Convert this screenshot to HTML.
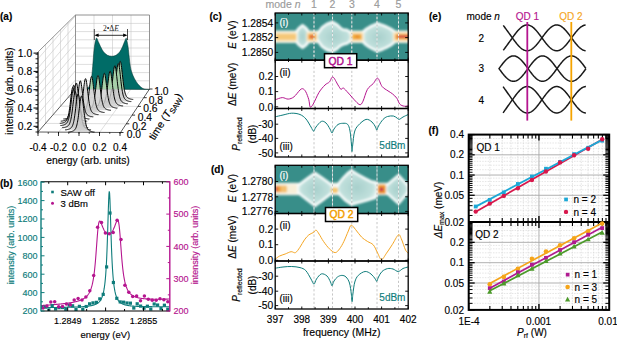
<!DOCTYPE html>
<html><head><meta charset="utf-8"><style>
html,body{margin:0;padding:0;background:#fff;width:617px;height:340px;overflow:hidden}
svg{display:block;font-family:"Liberation Sans", sans-serif}
text{stroke:currentColor;stroke-width:0.15px;paint-order:stroke}
</style></head><body>
<svg width="617" height="340" viewBox="0 0 617 340" font-family='"Liberation Sans", sans-serif'>
<text x="0.00" y="20.30" font-size="10" fill="#000" color="#000" text-anchor="start" font-weight="bold"  >(a)</text>
<path d="M38.00,132.00 L38.00,52.00 L75.50,15.00 L75.50,89.00 Z" fill="#fff" stroke="none" stroke-width="1" />
<line x1="45.50" y1="44.60" x2="45.50" y2="123.40" stroke="#c8c8c8" stroke-width="0.6" />
<line x1="53.00" y1="37.20" x2="53.00" y2="114.80" stroke="#c8c8c8" stroke-width="0.6" />
<line x1="60.50" y1="29.80" x2="60.50" y2="106.20" stroke="#c8c8c8" stroke-width="0.6" />
<line x1="68.00" y1="22.40" x2="68.00" y2="97.60" stroke="#c8c8c8" stroke-width="0.6" />
<line x1="38.00" y1="122.85" x2="75.50" y2="79.86" stroke="#c8c8c8" stroke-width="0.6" />
<line x1="38.00" y1="113.70" x2="75.50" y2="70.73" stroke="#c8c8c8" stroke-width="0.6" />
<line x1="38.00" y1="104.55" x2="75.50" y2="61.59" stroke="#c8c8c8" stroke-width="0.6" />
<line x1="38.00" y1="95.40" x2="75.50" y2="52.46" stroke="#c8c8c8" stroke-width="0.6" />
<line x1="38.00" y1="86.25" x2="75.50" y2="43.32" stroke="#c8c8c8" stroke-width="0.6" />
<line x1="38.00" y1="77.10" x2="75.50" y2="34.19" stroke="#c8c8c8" stroke-width="0.6" />
<line x1="38.00" y1="67.95" x2="75.50" y2="25.05" stroke="#c8c8c8" stroke-width="0.6" />
<line x1="38.00" y1="58.80" x2="75.50" y2="15.91" stroke="#c8c8c8" stroke-width="0.6" />
<line x1="75.50" y1="80.80" x2="149.50" y2="80.80" stroke="#c8c8c8" stroke-width="0.6" />
<line x1="75.50" y1="72.60" x2="149.50" y2="72.60" stroke="#c8c8c8" stroke-width="0.6" />
<line x1="75.50" y1="64.40" x2="149.50" y2="64.40" stroke="#c8c8c8" stroke-width="0.6" />
<line x1="75.50" y1="56.20" x2="149.50" y2="56.20" stroke="#c8c8c8" stroke-width="0.6" />
<line x1="75.50" y1="48.00" x2="149.50" y2="48.00" stroke="#c8c8c8" stroke-width="0.6" />
<line x1="75.50" y1="39.80" x2="149.50" y2="39.80" stroke="#c8c8c8" stroke-width="0.6" />
<line x1="75.50" y1="31.60" x2="149.50" y2="31.60" stroke="#c8c8c8" stroke-width="0.6" />
<line x1="75.50" y1="23.40" x2="149.50" y2="23.40" stroke="#c8c8c8" stroke-width="0.6" />
<line x1="94.00" y1="15.00" x2="94.00" y2="89.00" stroke="#c8c8c8" stroke-width="0.6" />
<line x1="112.50" y1="15.00" x2="112.50" y2="89.00" stroke="#c8c8c8" stroke-width="0.6" />
<line x1="131.00" y1="15.00" x2="131.00" y2="89.00" stroke="#c8c8c8" stroke-width="0.6" />
<line x1="45.50" y1="123.40" x2="126.30" y2="123.80" stroke="#c8c8c8" stroke-width="0.6" />
<line x1="53.00" y1="114.80" x2="132.10" y2="115.10" stroke="#c8c8c8" stroke-width="0.6" />
<line x1="60.50" y1="106.20" x2="137.90" y2="106.40" stroke="#c8c8c8" stroke-width="0.6" />
<line x1="68.00" y1="97.60" x2="143.70" y2="97.70" stroke="#c8c8c8" stroke-width="0.6" />
<line x1="58.62" y1="132.00" x2="94.00" y2="89.00" stroke="#c8c8c8" stroke-width="0.6" />
<line x1="79.25" y1="132.00" x2="112.50" y2="89.00" stroke="#c8c8c8" stroke-width="0.6" />
<line x1="99.88" y1="132.00" x2="131.00" y2="89.00" stroke="#c8c8c8" stroke-width="0.6" />
<path d="M38.00,132.00 L38.00,52.00 L75.50,15.00 L149.50,15.00 L149.50,89.00" fill="none" stroke="#777" stroke-width="0.8" />
<line x1="75.50" y1="15.00" x2="75.50" y2="89.00" stroke="#777" stroke-width="0.8" />
<line x1="75.50" y1="89.00" x2="149.50" y2="89.00" stroke="#999" stroke-width="0.6" />
<line x1="38.00" y1="132.00" x2="75.50" y2="89.00" stroke="#333" stroke-width="0.8" />
<line x1="120.50" y1="132.50" x2="149.50" y2="89.00" stroke="#333" stroke-width="0.8" />
<line x1="38.00" y1="132.00" x2="120.50" y2="132.50" stroke="#333" stroke-width="0.8" />
<line x1="38.00" y1="52.00" x2="38.00" y2="132.00" stroke="#111" stroke-width="1.0" />
<path d="M86.50,89.00 C87.00,88.50 88.72,87.50 89.50,86.00 C90.28,84.50 90.75,82.33 91.20,80.00 C91.65,77.67 91.87,75.33 92.20,72.00 C92.53,68.67 92.85,64.07 93.20,60.00 C93.55,55.93 93.78,51.23 94.30,47.60 C94.82,43.97 95.65,39.22 96.30,38.20 C96.95,37.18 97.50,40.12 98.20,41.50 C98.90,42.88 99.62,44.78 100.50,46.50 C101.38,48.22 102.33,50.33 103.50,51.80 C104.67,53.27 106.12,54.55 107.50,55.30 C108.88,56.05 110.38,56.30 111.80,56.30 C113.22,56.30 114.67,56.05 116.00,55.30 C117.33,54.55 118.70,53.27 119.80,51.80 C120.90,50.33 121.80,48.22 122.60,46.50 C123.40,44.78 124.00,42.88 124.60,41.50 C125.20,40.12 125.77,38.12 126.20,38.20 C126.63,38.28 126.87,40.43 127.20,42.00 C127.53,43.57 127.87,45.10 128.20,47.60 C128.53,50.10 128.85,53.90 129.20,57.00 C129.55,60.10 129.83,63.53 130.30,66.20 C130.77,68.87 131.32,70.95 132.00,73.00 C132.68,75.05 133.48,76.75 134.40,78.50 C135.32,80.25 136.47,82.12 137.50,83.50 C138.53,84.88 139.52,85.88 140.60,86.80 C141.68,87.72 142.52,88.55 144.00,89.00 C145.48,89.45 148.58,89.42 149.50,89.50 Z" fill="#006c67" stroke="#01302d" stroke-width="0.5"/>
<clipPath id="tealclip"><path d="M86.50,89.00 C87.00,88.50 88.72,87.50 89.50,86.00 C90.28,84.50 90.75,82.33 91.20,80.00 C91.65,77.67 91.87,75.33 92.20,72.00 C92.53,68.67 92.85,64.07 93.20,60.00 C93.55,55.93 93.78,51.23 94.30,47.60 C94.82,43.97 95.65,39.22 96.30,38.20 C96.95,37.18 97.50,40.12 98.20,41.50 C98.90,42.88 99.62,44.78 100.50,46.50 C101.38,48.22 102.33,50.33 103.50,51.80 C104.67,53.27 106.12,54.55 107.50,55.30 C108.88,56.05 110.38,56.30 111.80,56.30 C113.22,56.30 114.67,56.05 116.00,55.30 C117.33,54.55 118.70,53.27 119.80,51.80 C120.90,50.33 121.80,48.22 122.60,46.50 C123.40,44.78 124.00,42.88 124.60,41.50 C125.20,40.12 125.77,38.12 126.20,38.20 C126.63,38.28 126.87,40.43 127.20,42.00 C127.53,43.57 127.87,45.10 128.20,47.60 C128.53,50.10 128.85,53.90 129.20,57.00 C129.55,60.10 129.83,63.53 130.30,66.20 C130.77,68.87 131.32,70.95 132.00,73.00 C132.68,75.05 133.48,76.75 134.40,78.50 C135.32,80.25 136.47,82.12 137.50,83.50 C138.53,84.88 139.52,85.88 140.60,86.80 C141.68,87.72 142.52,88.55 144.00,89.00 C145.48,89.45 148.58,89.42 149.50,89.50 Z"/></clipPath>
<line x1="94.30" y1="29.00" x2="94.30" y2="40.00" stroke="#000" stroke-width="0.7" />
<line x1="127.50" y1="29.00" x2="127.50" y2="40.00" stroke="#000" stroke-width="0.7" />
<line x1="96.00" y1="35.30" x2="126.00" y2="35.30" stroke="#000" stroke-width="0.8" />
<path d="M94.40,35.30 L98.60,33.50 L98.60,37.10 Z" fill="#000" stroke="none" stroke-width="1" />
<path d="M127.40,35.30 L123.20,33.50 L123.20,37.10 Z" fill="#000" stroke="none" stroke-width="1" />
<text x="110.9" y="31.2" font-size="7.6" font-family="Liberation Serif" fill="#222" text-anchor="middle" style="stroke:none" color="#222">2•Δ<tspan font-style="italic">E</tspan></text>
<path d="M107.22,99.38 L107.49,99.38 L107.76,99.38 L108.03,99.38 L108.30,99.36 L108.57,99.31 L108.84,99.26 L109.11,99.20 L109.39,99.14 L109.66,99.07 L109.93,99.00 L110.20,98.92 L110.47,98.83 L110.74,98.74 L111.01,98.64 L111.28,98.54 L111.55,98.42 L111.82,98.29 L112.09,98.14 L112.36,97.98 L112.64,97.79 L112.91,97.58 L113.18,97.33 L113.45,97.05 L113.72,96.71 L113.99,96.32 L114.26,95.85 L114.53,95.30 L114.80,94.64 L115.07,93.87 L115.34,92.96 L115.61,91.90 L115.89,90.68 L116.16,89.27 L116.43,87.68 L116.70,85.90 L116.97,83.93 L117.24,81.79 L117.51,79.51 L117.78,77.11 L118.05,74.64 L118.32,72.16 L118.59,69.75 L118.86,67.48 L119.14,65.45 L119.41,63.75 L119.68,62.46 L119.95,61.65 L120.22,61.38 L120.49,61.65 L120.76,62.46 L121.03,63.75 L121.30,65.45 L121.57,67.48 L121.84,69.75 L122.11,72.16 L122.39,74.64 L122.66,77.11 L122.93,79.51 L123.20,81.79 L123.47,83.93 L123.74,85.90 L124.01,87.68 L124.28,89.27 L124.55,90.68 L124.82,91.90 L125.09,92.96 L125.36,93.87 L125.64,94.64 L125.91,95.30 L126.18,95.85 L126.45,96.32 L126.72,96.71 L126.99,97.05 L127.26,97.33 L127.53,97.58 L127.80,97.79 L128.07,97.98 L128.34,98.14 L128.61,98.29 L128.89,98.42 L129.16,98.54 L129.43,98.64 L129.70,98.74 L129.97,98.83 L130.24,98.92 L130.51,99.00 L130.78,99.07 L131.05,99.14 L131.32,99.20 L131.59,99.26 L131.86,99.31 L132.14,99.36 L132.41,99.38 L132.68,99.38 L132.95,99.38 L133.22,99.38 Z" fill="#cdcdcd" stroke="none" stroke-width="1" fill-opacity="0.8"/>
<path d="M107.22,99.38 L107.49,99.38 L107.76,99.38 L108.03,99.38 L108.30,99.36 L108.57,99.31 L108.84,99.26 L109.11,99.20 L109.39,99.14 L109.66,99.07 L109.93,99.00 L110.20,98.92 L110.47,98.83 L110.74,98.74 L111.01,98.64 L111.28,98.54 L111.55,98.42 L111.82,98.29 L112.09,98.14 L112.36,97.98 L112.64,97.79 L112.91,97.58 L113.18,97.33 L113.45,97.05 L113.72,96.71 L113.99,96.32 L114.26,95.85 L114.53,95.30 L114.80,94.64 L115.07,93.87 L115.34,92.96 L115.61,91.90 L115.89,90.68 L116.16,89.27 L116.43,87.68 L116.70,85.90 L116.97,83.93 L117.24,81.79 L117.51,79.51 L117.78,77.11 L118.05,74.64 L118.32,72.16 L118.59,69.75 L118.86,67.48 L119.14,65.45 L119.41,63.75 L119.68,62.46 L119.95,61.65 L120.22,61.38 L120.49,61.65 L120.76,62.46 L121.03,63.75 L121.30,65.45 L121.57,67.48 L121.84,69.75 L122.11,72.16 L122.39,74.64 L122.66,77.11 L122.93,79.51 L123.20,81.79 L123.47,83.93 L123.74,85.90 L124.01,87.68 L124.28,89.27 L124.55,90.68 L124.82,91.90 L125.09,92.96 L125.36,93.87 L125.64,94.64 L125.91,95.30 L126.18,95.85 L126.45,96.32 L126.72,96.71 L126.99,97.05 L127.26,97.33 L127.53,97.58 L127.80,97.79 L128.07,97.98 L128.34,98.14 L128.61,98.29 L128.89,98.42 L129.16,98.54 L129.43,98.64 L129.70,98.74 L129.97,98.83 L130.24,98.92 L130.51,99.00 L130.78,99.07 L131.05,99.14 L131.32,99.20 L131.59,99.26 L131.86,99.31 L132.14,99.36 L132.41,99.38 L132.68,99.38 L132.95,99.38 L133.22,99.38 Z" fill="#a6cfa8" stroke="none" stroke-width="1" clip-path="url(#tealclip)"/>
<path d="M107.22,99.38 L107.49,99.38 L107.76,99.38 L108.03,99.38 L108.30,99.36 L108.57,99.31 L108.84,99.26 L109.11,99.20 L109.39,99.14 L109.66,99.07 L109.93,99.00 L110.20,98.92 L110.47,98.83 L110.74,98.74 L111.01,98.64 L111.28,98.54 L111.55,98.42 L111.82,98.29 L112.09,98.14 L112.36,97.98 L112.64,97.79 L112.91,97.58 L113.18,97.33 L113.45,97.05 L113.72,96.71 L113.99,96.32 L114.26,95.85 L114.53,95.30 L114.80,94.64 L115.07,93.87 L115.34,92.96 L115.61,91.90 L115.89,90.68 L116.16,89.27 L116.43,87.68 L116.70,85.90 L116.97,83.93 L117.24,81.79 L117.51,79.51 L117.78,77.11 L118.05,74.64 L118.32,72.16 L118.59,69.75 L118.86,67.48 L119.14,65.45 L119.41,63.75 L119.68,62.46 L119.95,61.65 L120.22,61.38 L120.49,61.65 L120.76,62.46 L121.03,63.75 L121.30,65.45 L121.57,67.48 L121.84,69.75 L122.11,72.16 L122.39,74.64 L122.66,77.11 L122.93,79.51 L123.20,81.79 L123.47,83.93 L123.74,85.90 L124.01,87.68 L124.28,89.27 L124.55,90.68 L124.82,91.90 L125.09,92.96 L125.36,93.87 L125.64,94.64 L125.91,95.30 L126.18,95.85 L126.45,96.32 L126.72,96.71 L126.99,97.05 L127.26,97.33 L127.53,97.58 L127.80,97.79 L128.07,97.98 L128.34,98.14 L128.61,98.29 L128.89,98.42 L129.16,98.54 L129.43,98.64 L129.70,98.74 L129.97,98.83 L130.24,98.92 L130.51,99.00 L130.78,99.07 L131.05,99.14 L131.32,99.20 L131.59,99.26 L131.86,99.31 L132.14,99.36 L132.41,99.38 L132.68,99.38 L132.95,99.38 L133.22,99.38" fill="none" stroke="#000" stroke-width="1.0" />
<path d="M105.30,101.55 L105.57,101.55 L105.84,101.55 L106.11,101.55 L106.38,101.54 L106.65,101.49 L106.92,101.43 L107.19,101.37 L107.46,101.31 L107.73,101.24 L108.01,101.17 L108.28,101.09 L108.55,101.01 L108.82,100.92 L109.09,100.82 L109.36,100.71 L109.63,100.59 L109.90,100.46 L110.17,100.32 L110.44,100.15 L110.71,99.97 L110.98,99.75 L111.26,99.51 L111.53,99.22 L111.80,98.89 L112.07,98.49 L112.34,98.03 L112.61,97.47 L112.88,96.82 L113.15,96.05 L113.42,95.14 L113.69,94.08 L113.96,92.85 L114.23,91.45 L114.51,89.86 L114.78,88.07 L115.05,86.11 L115.32,83.97 L115.59,81.68 L115.86,79.28 L116.13,76.81 L116.40,74.34 L116.67,71.92 L116.94,69.66 L117.21,67.62 L117.48,65.92 L117.76,64.63 L118.03,63.82 L118.30,63.55 L118.57,63.82 L118.84,64.63 L119.11,65.92 L119.38,67.62 L119.65,69.66 L119.92,71.92 L120.19,74.34 L120.46,76.81 L120.73,79.28 L121.01,81.68 L121.28,83.97 L121.55,86.11 L121.82,88.07 L122.09,89.86 L122.36,91.45 L122.63,92.85 L122.90,94.08 L123.17,95.14 L123.44,96.05 L123.71,96.82 L123.98,97.47 L124.26,98.03 L124.53,98.49 L124.80,98.89 L125.07,99.22 L125.34,99.51 L125.61,99.75 L125.88,99.97 L126.15,100.15 L126.42,100.32 L126.69,100.46 L126.96,100.59 L127.23,100.71 L127.51,100.82 L127.78,100.92 L128.05,101.01 L128.32,101.09 L128.59,101.17 L128.86,101.24 L129.13,101.31 L129.40,101.37 L129.67,101.43 L129.94,101.49 L130.21,101.54 L130.48,101.55 L130.76,101.55 L131.03,101.55 L131.30,101.55 Z" fill="#cdcdcd" stroke="none" stroke-width="1" fill-opacity="0.8"/>
<path d="M105.30,101.55 L105.57,101.55 L105.84,101.55 L106.11,101.55 L106.38,101.54 L106.65,101.49 L106.92,101.43 L107.19,101.37 L107.46,101.31 L107.73,101.24 L108.01,101.17 L108.28,101.09 L108.55,101.01 L108.82,100.92 L109.09,100.82 L109.36,100.71 L109.63,100.59 L109.90,100.46 L110.17,100.32 L110.44,100.15 L110.71,99.97 L110.98,99.75 L111.26,99.51 L111.53,99.22 L111.80,98.89 L112.07,98.49 L112.34,98.03 L112.61,97.47 L112.88,96.82 L113.15,96.05 L113.42,95.14 L113.69,94.08 L113.96,92.85 L114.23,91.45 L114.51,89.86 L114.78,88.07 L115.05,86.11 L115.32,83.97 L115.59,81.68 L115.86,79.28 L116.13,76.81 L116.40,74.34 L116.67,71.92 L116.94,69.66 L117.21,67.62 L117.48,65.92 L117.76,64.63 L118.03,63.82 L118.30,63.55 L118.57,63.82 L118.84,64.63 L119.11,65.92 L119.38,67.62 L119.65,69.66 L119.92,71.92 L120.19,74.34 L120.46,76.81 L120.73,79.28 L121.01,81.68 L121.28,83.97 L121.55,86.11 L121.82,88.07 L122.09,89.86 L122.36,91.45 L122.63,92.85 L122.90,94.08 L123.17,95.14 L123.44,96.05 L123.71,96.82 L123.98,97.47 L124.26,98.03 L124.53,98.49 L124.80,98.89 L125.07,99.22 L125.34,99.51 L125.61,99.75 L125.88,99.97 L126.15,100.15 L126.42,100.32 L126.69,100.46 L126.96,100.59 L127.23,100.71 L127.51,100.82 L127.78,100.92 L128.05,101.01 L128.32,101.09 L128.59,101.17 L128.86,101.24 L129.13,101.31 L129.40,101.37 L129.67,101.43 L129.94,101.49 L130.21,101.54 L130.48,101.55 L130.76,101.55 L131.03,101.55 L131.30,101.55 Z" fill="#a6cfa8" stroke="none" stroke-width="1" clip-path="url(#tealclip)"/>
<path d="M105.30,101.55 L105.57,101.55 L105.84,101.55 L106.11,101.55 L106.38,101.54 L106.65,101.49 L106.92,101.43 L107.19,101.37 L107.46,101.31 L107.73,101.24 L108.01,101.17 L108.28,101.09 L108.55,101.01 L108.82,100.92 L109.09,100.82 L109.36,100.71 L109.63,100.59 L109.90,100.46 L110.17,100.32 L110.44,100.15 L110.71,99.97 L110.98,99.75 L111.26,99.51 L111.53,99.22 L111.80,98.89 L112.07,98.49 L112.34,98.03 L112.61,97.47 L112.88,96.82 L113.15,96.05 L113.42,95.14 L113.69,94.08 L113.96,92.85 L114.23,91.45 L114.51,89.86 L114.78,88.07 L115.05,86.11 L115.32,83.97 L115.59,81.68 L115.86,79.28 L116.13,76.81 L116.40,74.34 L116.67,71.92 L116.94,69.66 L117.21,67.62 L117.48,65.92 L117.76,64.63 L118.03,63.82 L118.30,63.55 L118.57,63.82 L118.84,64.63 L119.11,65.92 L119.38,67.62 L119.65,69.66 L119.92,71.92 L120.19,74.34 L120.46,76.81 L120.73,79.28 L121.01,81.68 L121.28,83.97 L121.55,86.11 L121.82,88.07 L122.09,89.86 L122.36,91.45 L122.63,92.85 L122.90,94.08 L123.17,95.14 L123.44,96.05 L123.71,96.82 L123.98,97.47 L124.26,98.03 L124.53,98.49 L124.80,98.89 L125.07,99.22 L125.34,99.51 L125.61,99.75 L125.88,99.97 L126.15,100.15 L126.42,100.32 L126.69,100.46 L126.96,100.59 L127.23,100.71 L127.51,100.82 L127.78,100.92 L128.05,101.01 L128.32,101.09 L128.59,101.17 L128.86,101.24 L129.13,101.31 L129.40,101.37 L129.67,101.43 L129.94,101.49 L130.21,101.54 L130.48,101.55 L130.76,101.55 L131.03,101.55 L131.30,101.55" fill="none" stroke="#000" stroke-width="1.0" />
<path d="M101.86,103.72 L102.13,103.72 L102.40,103.72 L102.67,103.72 L102.94,103.71 L103.21,103.66 L103.48,103.61 L103.76,103.55 L104.03,103.49 L104.30,103.42 L104.57,103.35 L104.84,103.27 L105.11,103.18 L105.38,103.09 L105.65,102.99 L105.92,102.89 L106.19,102.77 L106.46,102.64 L106.73,102.49 L107.01,102.33 L107.28,102.14 L107.55,101.93 L107.82,101.68 L108.09,101.40 L108.36,101.06 L108.63,100.67 L108.90,100.20 L109.17,99.65 L109.44,98.99 L109.71,98.22 L109.98,97.31 L110.26,96.25 L110.53,95.03 L110.80,93.62 L111.07,92.03 L111.34,90.25 L111.61,88.28 L111.88,86.14 L112.15,83.86 L112.42,81.46 L112.69,78.99 L112.96,76.51 L113.23,74.10 L113.51,71.83 L113.78,69.80 L114.05,68.10 L114.32,66.81 L114.59,66.00 L114.86,65.72 L115.13,66.00 L115.40,66.81 L115.67,68.10 L115.94,69.80 L116.21,71.83 L116.48,74.10 L116.76,76.51 L117.03,78.99 L117.30,81.46 L117.57,83.86 L117.84,86.14 L118.11,88.28 L118.38,90.25 L118.65,92.03 L118.92,93.62 L119.19,95.03 L119.46,96.25 L119.73,97.31 L120.01,98.22 L120.28,98.99 L120.55,99.65 L120.82,100.20 L121.09,100.67 L121.36,101.06 L121.63,101.40 L121.90,101.68 L122.17,101.93 L122.44,102.14 L122.71,102.33 L122.98,102.49 L123.26,102.64 L123.53,102.77 L123.80,102.89 L124.07,102.99 L124.34,103.09 L124.61,103.18 L124.88,103.27 L125.15,103.35 L125.42,103.42 L125.69,103.49 L125.96,103.55 L126.23,103.61 L126.51,103.66 L126.78,103.71 L127.05,103.72 L127.32,103.72 L127.59,103.72 L127.86,103.72 Z" fill="#cdcdcd" stroke="none" stroke-width="1" fill-opacity="0.8"/>
<path d="M101.86,103.72 L102.13,103.72 L102.40,103.72 L102.67,103.72 L102.94,103.71 L103.21,103.66 L103.48,103.61 L103.76,103.55 L104.03,103.49 L104.30,103.42 L104.57,103.35 L104.84,103.27 L105.11,103.18 L105.38,103.09 L105.65,102.99 L105.92,102.89 L106.19,102.77 L106.46,102.64 L106.73,102.49 L107.01,102.33 L107.28,102.14 L107.55,101.93 L107.82,101.68 L108.09,101.40 L108.36,101.06 L108.63,100.67 L108.90,100.20 L109.17,99.65 L109.44,98.99 L109.71,98.22 L109.98,97.31 L110.26,96.25 L110.53,95.03 L110.80,93.62 L111.07,92.03 L111.34,90.25 L111.61,88.28 L111.88,86.14 L112.15,83.86 L112.42,81.46 L112.69,78.99 L112.96,76.51 L113.23,74.10 L113.51,71.83 L113.78,69.80 L114.05,68.10 L114.32,66.81 L114.59,66.00 L114.86,65.72 L115.13,66.00 L115.40,66.81 L115.67,68.10 L115.94,69.80 L116.21,71.83 L116.48,74.10 L116.76,76.51 L117.03,78.99 L117.30,81.46 L117.57,83.86 L117.84,86.14 L118.11,88.28 L118.38,90.25 L118.65,92.03 L118.92,93.62 L119.19,95.03 L119.46,96.25 L119.73,97.31 L120.01,98.22 L120.28,98.99 L120.55,99.65 L120.82,100.20 L121.09,100.67 L121.36,101.06 L121.63,101.40 L121.90,101.68 L122.17,101.93 L122.44,102.14 L122.71,102.33 L122.98,102.49 L123.26,102.64 L123.53,102.77 L123.80,102.89 L124.07,102.99 L124.34,103.09 L124.61,103.18 L124.88,103.27 L125.15,103.35 L125.42,103.42 L125.69,103.49 L125.96,103.55 L126.23,103.61 L126.51,103.66 L126.78,103.71 L127.05,103.72 L127.32,103.72 L127.59,103.72 L127.86,103.72 Z" fill="#a6cfa8" stroke="none" stroke-width="1" clip-path="url(#tealclip)"/>
<path d="M101.86,103.72 L102.13,103.72 L102.40,103.72 L102.67,103.72 L102.94,103.71 L103.21,103.66 L103.48,103.61 L103.76,103.55 L104.03,103.49 L104.30,103.42 L104.57,103.35 L104.84,103.27 L105.11,103.18 L105.38,103.09 L105.65,102.99 L105.92,102.89 L106.19,102.77 L106.46,102.64 L106.73,102.49 L107.01,102.33 L107.28,102.14 L107.55,101.93 L107.82,101.68 L108.09,101.40 L108.36,101.06 L108.63,100.67 L108.90,100.20 L109.17,99.65 L109.44,98.99 L109.71,98.22 L109.98,97.31 L110.26,96.25 L110.53,95.03 L110.80,93.62 L111.07,92.03 L111.34,90.25 L111.61,88.28 L111.88,86.14 L112.15,83.86 L112.42,81.46 L112.69,78.99 L112.96,76.51 L113.23,74.10 L113.51,71.83 L113.78,69.80 L114.05,68.10 L114.32,66.81 L114.59,66.00 L114.86,65.72 L115.13,66.00 L115.40,66.81 L115.67,68.10 L115.94,69.80 L116.21,71.83 L116.48,74.10 L116.76,76.51 L117.03,78.99 L117.30,81.46 L117.57,83.86 L117.84,86.14 L118.11,88.28 L118.38,90.25 L118.65,92.03 L118.92,93.62 L119.19,95.03 L119.46,96.25 L119.73,97.31 L120.01,98.22 L120.28,98.99 L120.55,99.65 L120.82,100.20 L121.09,100.67 L121.36,101.06 L121.63,101.40 L121.90,101.68 L122.17,101.93 L122.44,102.14 L122.71,102.33 L122.98,102.49 L123.26,102.64 L123.53,102.77 L123.80,102.89 L124.07,102.99 L124.34,103.09 L124.61,103.18 L124.88,103.27 L125.15,103.35 L125.42,103.42 L125.69,103.49 L125.96,103.55 L126.23,103.61 L126.51,103.66 L126.78,103.71 L127.05,103.72 L127.32,103.72 L127.59,103.72 L127.86,103.72" fill="none" stroke="#000" stroke-width="1.0" />
<path d="M97.10,105.90 L97.37,105.90 L97.64,105.90 L97.91,105.90 L98.18,105.89 L98.45,105.84 L98.72,105.79 L98.99,105.74 L99.27,105.68 L99.54,105.62 L99.81,105.55 L100.08,105.48 L100.35,105.40 L100.62,105.32 L100.89,105.23 L101.16,105.13 L101.43,105.02 L101.70,104.90 L101.97,104.77 L102.24,104.62 L102.52,104.45 L102.79,104.26 L103.06,104.03 L103.33,103.77 L103.60,103.46 L103.87,103.10 L104.14,102.67 L104.41,102.17 L104.68,101.57 L104.95,100.86 L105.22,100.03 L105.49,99.06 L105.77,97.93 L106.04,96.65 L106.31,95.19 L106.58,93.56 L106.85,91.76 L107.12,89.80 L107.39,87.71 L107.66,85.51 L107.93,83.25 L108.20,80.98 L108.47,78.77 L108.74,76.69 L109.02,74.83 L109.29,73.27 L109.56,72.09 L109.83,71.35 L110.10,71.10 L110.37,71.35 L110.64,72.09 L110.91,73.27 L111.18,74.83 L111.45,76.69 L111.72,78.77 L111.99,80.98 L112.27,83.25 L112.54,85.51 L112.81,87.71 L113.08,89.80 L113.35,91.76 L113.62,93.56 L113.89,95.19 L114.16,96.65 L114.43,97.93 L114.70,99.06 L114.97,100.03 L115.24,100.86 L115.52,101.57 L115.79,102.17 L116.06,102.67 L116.33,103.10 L116.60,103.46 L116.87,103.77 L117.14,104.03 L117.41,104.26 L117.68,104.45 L117.95,104.62 L118.22,104.77 L118.49,104.90 L118.77,105.02 L119.04,105.13 L119.31,105.23 L119.58,105.32 L119.85,105.40 L120.12,105.48 L120.39,105.55 L120.66,105.62 L120.93,105.68 L121.20,105.74 L121.47,105.79 L121.74,105.84 L122.02,105.89 L122.29,105.90 L122.56,105.90 L122.83,105.90 L123.10,105.90 Z" fill="#cdcdcd" stroke="none" stroke-width="1" fill-opacity="0.8"/>
<path d="M97.10,105.90 L97.37,105.90 L97.64,105.90 L97.91,105.90 L98.18,105.89 L98.45,105.84 L98.72,105.79 L98.99,105.74 L99.27,105.68 L99.54,105.62 L99.81,105.55 L100.08,105.48 L100.35,105.40 L100.62,105.32 L100.89,105.23 L101.16,105.13 L101.43,105.02 L101.70,104.90 L101.97,104.77 L102.24,104.62 L102.52,104.45 L102.79,104.26 L103.06,104.03 L103.33,103.77 L103.60,103.46 L103.87,103.10 L104.14,102.67 L104.41,102.17 L104.68,101.57 L104.95,100.86 L105.22,100.03 L105.49,99.06 L105.77,97.93 L106.04,96.65 L106.31,95.19 L106.58,93.56 L106.85,91.76 L107.12,89.80 L107.39,87.71 L107.66,85.51 L107.93,83.25 L108.20,80.98 L108.47,78.77 L108.74,76.69 L109.02,74.83 L109.29,73.27 L109.56,72.09 L109.83,71.35 L110.10,71.10 L110.37,71.35 L110.64,72.09 L110.91,73.27 L111.18,74.83 L111.45,76.69 L111.72,78.77 L111.99,80.98 L112.27,83.25 L112.54,85.51 L112.81,87.71 L113.08,89.80 L113.35,91.76 L113.62,93.56 L113.89,95.19 L114.16,96.65 L114.43,97.93 L114.70,99.06 L114.97,100.03 L115.24,100.86 L115.52,101.57 L115.79,102.17 L116.06,102.67 L116.33,103.10 L116.60,103.46 L116.87,103.77 L117.14,104.03 L117.41,104.26 L117.68,104.45 L117.95,104.62 L118.22,104.77 L118.49,104.90 L118.77,105.02 L119.04,105.13 L119.31,105.23 L119.58,105.32 L119.85,105.40 L120.12,105.48 L120.39,105.55 L120.66,105.62 L120.93,105.68 L121.20,105.74 L121.47,105.79 L121.74,105.84 L122.02,105.89 L122.29,105.90 L122.56,105.90 L122.83,105.90 L123.10,105.90 Z" fill="#a6cfa8" stroke="none" stroke-width="1" clip-path="url(#tealclip)"/>
<path d="M97.10,105.90 L97.37,105.90 L97.64,105.90 L97.91,105.90 L98.18,105.89 L98.45,105.84 L98.72,105.79 L98.99,105.74 L99.27,105.68 L99.54,105.62 L99.81,105.55 L100.08,105.48 L100.35,105.40 L100.62,105.32 L100.89,105.23 L101.16,105.13 L101.43,105.02 L101.70,104.90 L101.97,104.77 L102.24,104.62 L102.52,104.45 L102.79,104.26 L103.06,104.03 L103.33,103.77 L103.60,103.46 L103.87,103.10 L104.14,102.67 L104.41,102.17 L104.68,101.57 L104.95,100.86 L105.22,100.03 L105.49,99.06 L105.77,97.93 L106.04,96.65 L106.31,95.19 L106.58,93.56 L106.85,91.76 L107.12,89.80 L107.39,87.71 L107.66,85.51 L107.93,83.25 L108.20,80.98 L108.47,78.77 L108.74,76.69 L109.02,74.83 L109.29,73.27 L109.56,72.09 L109.83,71.35 L110.10,71.10 L110.37,71.35 L110.64,72.09 L110.91,73.27 L111.18,74.83 L111.45,76.69 L111.72,78.77 L111.99,80.98 L112.27,83.25 L112.54,85.51 L112.81,87.71 L113.08,89.80 L113.35,91.76 L113.62,93.56 L113.89,95.19 L114.16,96.65 L114.43,97.93 L114.70,99.06 L114.97,100.03 L115.24,100.86 L115.52,101.57 L115.79,102.17 L116.06,102.67 L116.33,103.10 L116.60,103.46 L116.87,103.77 L117.14,104.03 L117.41,104.26 L117.68,104.45 L117.95,104.62 L118.22,104.77 L118.49,104.90 L118.77,105.02 L119.04,105.13 L119.31,105.23 L119.58,105.32 L119.85,105.40 L120.12,105.48 L120.39,105.55 L120.66,105.62 L120.93,105.68 L121.20,105.74 L121.47,105.79 L121.74,105.84 L122.02,105.89 L122.29,105.90 L122.56,105.90 L122.83,105.90 L123.10,105.90" fill="none" stroke="#000" stroke-width="1.0" />
<path d="M91.34,108.08 L91.61,108.08 L91.88,108.08 L92.15,108.08 L92.42,108.07 L92.69,108.02 L92.96,107.97 L93.24,107.91 L93.51,107.86 L93.78,107.79 L94.05,107.73 L94.32,107.66 L94.59,107.58 L94.86,107.50 L95.13,107.41 L95.40,107.31 L95.67,107.20 L95.94,107.08 L96.21,106.94 L96.49,106.79 L96.76,106.63 L97.03,106.43 L97.30,106.21 L97.57,105.94 L97.84,105.64 L98.11,105.28 L98.38,104.85 L98.65,104.34 L98.92,103.74 L99.19,103.03 L99.46,102.20 L99.74,101.23 L100.01,100.11 L100.28,98.82 L100.55,97.37 L100.82,95.73 L101.09,93.93 L101.36,91.97 L101.63,89.88 L101.90,87.68 L102.17,85.42 L102.44,83.15 L102.71,80.94 L102.99,78.87 L103.26,77.01 L103.53,75.45 L103.80,74.26 L104.07,73.53 L104.34,73.28 L104.61,73.53 L104.88,74.26 L105.15,75.45 L105.42,77.01 L105.69,78.87 L105.96,80.94 L106.24,83.15 L106.51,85.42 L106.78,87.68 L107.05,89.88 L107.32,91.97 L107.59,93.93 L107.86,95.73 L108.13,97.37 L108.40,98.82 L108.67,100.11 L108.94,101.23 L109.21,102.20 L109.49,103.03 L109.76,103.74 L110.03,104.34 L110.30,104.85 L110.57,105.28 L110.84,105.64 L111.11,105.94 L111.38,106.21 L111.65,106.43 L111.92,106.63 L112.19,106.79 L112.46,106.94 L112.74,107.08 L113.01,107.20 L113.28,107.31 L113.55,107.41 L113.82,107.50 L114.09,107.58 L114.36,107.66 L114.63,107.73 L114.90,107.79 L115.17,107.86 L115.44,107.91 L115.71,107.97 L115.99,108.02 L116.26,108.07 L116.53,108.08 L116.80,108.08 L117.07,108.08 L117.34,108.08 Z" fill="#cdcdcd" stroke="none" stroke-width="1" fill-opacity="0.8"/>
<path d="M91.34,108.08 L91.61,108.08 L91.88,108.08 L92.15,108.08 L92.42,108.07 L92.69,108.02 L92.96,107.97 L93.24,107.91 L93.51,107.86 L93.78,107.79 L94.05,107.73 L94.32,107.66 L94.59,107.58 L94.86,107.50 L95.13,107.41 L95.40,107.31 L95.67,107.20 L95.94,107.08 L96.21,106.94 L96.49,106.79 L96.76,106.63 L97.03,106.43 L97.30,106.21 L97.57,105.94 L97.84,105.64 L98.11,105.28 L98.38,104.85 L98.65,104.34 L98.92,103.74 L99.19,103.03 L99.46,102.20 L99.74,101.23 L100.01,100.11 L100.28,98.82 L100.55,97.37 L100.82,95.73 L101.09,93.93 L101.36,91.97 L101.63,89.88 L101.90,87.68 L102.17,85.42 L102.44,83.15 L102.71,80.94 L102.99,78.87 L103.26,77.01 L103.53,75.45 L103.80,74.26 L104.07,73.53 L104.34,73.28 L104.61,73.53 L104.88,74.26 L105.15,75.45 L105.42,77.01 L105.69,78.87 L105.96,80.94 L106.24,83.15 L106.51,85.42 L106.78,87.68 L107.05,89.88 L107.32,91.97 L107.59,93.93 L107.86,95.73 L108.13,97.37 L108.40,98.82 L108.67,100.11 L108.94,101.23 L109.21,102.20 L109.49,103.03 L109.76,103.74 L110.03,104.34 L110.30,104.85 L110.57,105.28 L110.84,105.64 L111.11,105.94 L111.38,106.21 L111.65,106.43 L111.92,106.63 L112.19,106.79 L112.46,106.94 L112.74,107.08 L113.01,107.20 L113.28,107.31 L113.55,107.41 L113.82,107.50 L114.09,107.58 L114.36,107.66 L114.63,107.73 L114.90,107.79 L115.17,107.86 L115.44,107.91 L115.71,107.97 L115.99,108.02 L116.26,108.07 L116.53,108.08 L116.80,108.08 L117.07,108.08 L117.34,108.08 Z" fill="#a6cfa8" stroke="none" stroke-width="1" clip-path="url(#tealclip)"/>
<path d="M91.34,108.08 L91.61,108.08 L91.88,108.08 L92.15,108.08 L92.42,108.07 L92.69,108.02 L92.96,107.97 L93.24,107.91 L93.51,107.86 L93.78,107.79 L94.05,107.73 L94.32,107.66 L94.59,107.58 L94.86,107.50 L95.13,107.41 L95.40,107.31 L95.67,107.20 L95.94,107.08 L96.21,106.94 L96.49,106.79 L96.76,106.63 L97.03,106.43 L97.30,106.21 L97.57,105.94 L97.84,105.64 L98.11,105.28 L98.38,104.85 L98.65,104.34 L98.92,103.74 L99.19,103.03 L99.46,102.20 L99.74,101.23 L100.01,100.11 L100.28,98.82 L100.55,97.37 L100.82,95.73 L101.09,93.93 L101.36,91.97 L101.63,89.88 L101.90,87.68 L102.17,85.42 L102.44,83.15 L102.71,80.94 L102.99,78.87 L103.26,77.01 L103.53,75.45 L103.80,74.26 L104.07,73.53 L104.34,73.28 L104.61,73.53 L104.88,74.26 L105.15,75.45 L105.42,77.01 L105.69,78.87 L105.96,80.94 L106.24,83.15 L106.51,85.42 L106.78,87.68 L107.05,89.88 L107.32,91.97 L107.59,93.93 L107.86,95.73 L108.13,97.37 L108.40,98.82 L108.67,100.11 L108.94,101.23 L109.21,102.20 L109.49,103.03 L109.76,103.74 L110.03,104.34 L110.30,104.85 L110.57,105.28 L110.84,105.64 L111.11,105.94 L111.38,106.21 L111.65,106.43 L111.92,106.63 L112.19,106.79 L112.46,106.94 L112.74,107.08 L113.01,107.20 L113.28,107.31 L113.55,107.41 L113.82,107.50 L114.09,107.58 L114.36,107.66 L114.63,107.73 L114.90,107.79 L115.17,107.86 L115.44,107.91 L115.71,107.97 L115.99,108.02 L116.26,108.07 L116.53,108.08 L116.80,108.08 L117.07,108.08 L117.34,108.08" fill="none" stroke="#000" stroke-width="1.0" />
<path d="M85.00,110.25 L85.28,110.25 L85.55,110.25 L85.82,110.25 L86.09,110.24 L86.36,110.19 L86.63,110.14 L86.90,110.09 L87.17,110.03 L87.44,109.97 L87.71,109.90 L87.98,109.83 L88.25,109.75 L88.53,109.67 L88.80,109.58 L89.07,109.48 L89.34,109.37 L89.61,109.25 L89.88,109.12 L90.15,108.97 L90.42,108.80 L90.69,108.61 L90.96,108.38 L91.23,108.12 L91.50,107.81 L91.78,107.45 L92.05,107.02 L92.32,106.52 L92.59,105.92 L92.86,105.21 L93.13,104.38 L93.40,103.41 L93.67,102.28 L93.94,101.00 L94.21,99.54 L94.48,97.91 L94.75,96.11 L95.03,94.15 L95.30,92.06 L95.57,89.86 L95.84,87.60 L96.11,85.33 L96.38,83.12 L96.65,81.04 L96.92,79.18 L97.19,77.62 L97.46,76.44 L97.73,75.70 L98.00,75.45 L98.28,75.70 L98.55,76.44 L98.82,77.62 L99.09,79.18 L99.36,81.04 L99.63,83.12 L99.90,85.33 L100.17,87.60 L100.44,89.86 L100.71,92.06 L100.98,94.15 L101.25,96.11 L101.53,97.91 L101.80,99.54 L102.07,101.00 L102.34,102.28 L102.61,103.41 L102.88,104.38 L103.15,105.21 L103.42,105.92 L103.69,106.52 L103.96,107.02 L104.23,107.45 L104.50,107.81 L104.78,108.12 L105.05,108.38 L105.32,108.61 L105.59,108.80 L105.86,108.97 L106.13,109.12 L106.40,109.25 L106.67,109.37 L106.94,109.48 L107.21,109.58 L107.48,109.67 L107.75,109.75 L108.03,109.83 L108.30,109.90 L108.57,109.97 L108.84,110.03 L109.11,110.09 L109.38,110.14 L109.65,110.19 L109.92,110.24 L110.19,110.25 L110.46,110.25 L110.73,110.25 L111.00,110.25 Z" fill="#cdcdcd" stroke="none" stroke-width="1" fill-opacity="0.8"/>
<path d="M85.00,110.25 L85.28,110.25 L85.55,110.25 L85.82,110.25 L86.09,110.24 L86.36,110.19 L86.63,110.14 L86.90,110.09 L87.17,110.03 L87.44,109.97 L87.71,109.90 L87.98,109.83 L88.25,109.75 L88.53,109.67 L88.80,109.58 L89.07,109.48 L89.34,109.37 L89.61,109.25 L89.88,109.12 L90.15,108.97 L90.42,108.80 L90.69,108.61 L90.96,108.38 L91.23,108.12 L91.50,107.81 L91.78,107.45 L92.05,107.02 L92.32,106.52 L92.59,105.92 L92.86,105.21 L93.13,104.38 L93.40,103.41 L93.67,102.28 L93.94,101.00 L94.21,99.54 L94.48,97.91 L94.75,96.11 L95.03,94.15 L95.30,92.06 L95.57,89.86 L95.84,87.60 L96.11,85.33 L96.38,83.12 L96.65,81.04 L96.92,79.18 L97.19,77.62 L97.46,76.44 L97.73,75.70 L98.00,75.45 L98.28,75.70 L98.55,76.44 L98.82,77.62 L99.09,79.18 L99.36,81.04 L99.63,83.12 L99.90,85.33 L100.17,87.60 L100.44,89.86 L100.71,92.06 L100.98,94.15 L101.25,96.11 L101.53,97.91 L101.80,99.54 L102.07,101.00 L102.34,102.28 L102.61,103.41 L102.88,104.38 L103.15,105.21 L103.42,105.92 L103.69,106.52 L103.96,107.02 L104.23,107.45 L104.50,107.81 L104.78,108.12 L105.05,108.38 L105.32,108.61 L105.59,108.80 L105.86,108.97 L106.13,109.12 L106.40,109.25 L106.67,109.37 L106.94,109.48 L107.21,109.58 L107.48,109.67 L107.75,109.75 L108.03,109.83 L108.30,109.90 L108.57,109.97 L108.84,110.03 L109.11,110.09 L109.38,110.14 L109.65,110.19 L109.92,110.24 L110.19,110.25 L110.46,110.25 L110.73,110.25 L111.00,110.25 Z" fill="#a6cfa8" stroke="none" stroke-width="1" clip-path="url(#tealclip)"/>
<path d="M85.00,110.25 L85.28,110.25 L85.55,110.25 L85.82,110.25 L86.09,110.24 L86.36,110.19 L86.63,110.14 L86.90,110.09 L87.17,110.03 L87.44,109.97 L87.71,109.90 L87.98,109.83 L88.25,109.75 L88.53,109.67 L88.80,109.58 L89.07,109.48 L89.34,109.37 L89.61,109.25 L89.88,109.12 L90.15,108.97 L90.42,108.80 L90.69,108.61 L90.96,108.38 L91.23,108.12 L91.50,107.81 L91.78,107.45 L92.05,107.02 L92.32,106.52 L92.59,105.92 L92.86,105.21 L93.13,104.38 L93.40,103.41 L93.67,102.28 L93.94,101.00 L94.21,99.54 L94.48,97.91 L94.75,96.11 L95.03,94.15 L95.30,92.06 L95.57,89.86 L95.84,87.60 L96.11,85.33 L96.38,83.12 L96.65,81.04 L96.92,79.18 L97.19,77.62 L97.46,76.44 L97.73,75.70 L98.00,75.45 L98.28,75.70 L98.55,76.44 L98.82,77.62 L99.09,79.18 L99.36,81.04 L99.63,83.12 L99.90,85.33 L100.17,87.60 L100.44,89.86 L100.71,92.06 L100.98,94.15 L101.25,96.11 L101.53,97.91 L101.80,99.54 L102.07,101.00 L102.34,102.28 L102.61,103.41 L102.88,104.38 L103.15,105.21 L103.42,105.92 L103.69,106.52 L103.96,107.02 L104.23,107.45 L104.50,107.81 L104.78,108.12 L105.05,108.38 L105.32,108.61 L105.59,108.80 L105.86,108.97 L106.13,109.12 L106.40,109.25 L106.67,109.37 L106.94,109.48 L107.21,109.58 L107.48,109.67 L107.75,109.75 L108.03,109.83 L108.30,109.90 L108.57,109.97 L108.84,110.03 L109.11,110.09 L109.38,110.14 L109.65,110.19 L109.92,110.24 L110.19,110.25 L110.46,110.25 L110.73,110.25 L111.00,110.25" fill="none" stroke="#000" stroke-width="1.0" />
<path d="M78.57,112.42 L78.84,112.42 L79.11,112.42 L79.38,112.42 L79.65,112.42 L79.93,112.37 L80.20,112.31 L80.47,112.26 L80.74,112.20 L81.01,112.13 L81.28,112.07 L81.55,111.99 L81.82,111.91 L82.09,111.83 L82.36,111.73 L82.63,111.63 L82.90,111.52 L83.18,111.39 L83.45,111.26 L83.72,111.10 L83.99,110.93 L84.26,110.72 L84.53,110.49 L84.80,110.22 L85.07,109.90 L85.34,109.53 L85.61,109.09 L85.88,108.56 L86.15,107.94 L86.43,107.21 L86.70,106.35 L86.97,105.35 L87.24,104.18 L87.51,102.85 L87.78,101.35 L88.05,99.66 L88.32,97.80 L88.59,95.77 L88.86,93.60 L89.13,91.33 L89.40,88.99 L89.68,86.64 L89.95,84.36 L90.22,82.21 L90.49,80.29 L90.76,78.67 L91.03,77.45 L91.30,76.68 L91.57,76.42 L91.84,76.68 L92.11,77.45 L92.38,78.67 L92.65,80.29 L92.93,82.21 L93.20,84.36 L93.47,86.64 L93.74,88.99 L94.01,91.33 L94.28,93.60 L94.55,95.77 L94.82,97.80 L95.09,99.66 L95.36,101.35 L95.63,102.85 L95.90,104.18 L96.18,105.35 L96.45,106.35 L96.72,107.21 L96.99,107.94 L97.26,108.56 L97.53,109.09 L97.80,109.53 L98.07,109.90 L98.34,110.22 L98.61,110.49 L98.88,110.72 L99.15,110.93 L99.43,111.10 L99.70,111.26 L99.97,111.39 L100.24,111.52 L100.51,111.63 L100.78,111.73 L101.05,111.83 L101.32,111.91 L101.59,111.99 L101.86,112.07 L102.13,112.13 L102.40,112.20 L102.68,112.26 L102.95,112.31 L103.22,112.37 L103.49,112.42 L103.76,112.42 L104.03,112.42 L104.30,112.42 L104.57,112.42 Z" fill="#cdcdcd" stroke="none" stroke-width="1" fill-opacity="0.8"/>
<path d="M78.57,112.42 L78.84,112.42 L79.11,112.42 L79.38,112.42 L79.65,112.42 L79.93,112.37 L80.20,112.31 L80.47,112.26 L80.74,112.20 L81.01,112.13 L81.28,112.07 L81.55,111.99 L81.82,111.91 L82.09,111.83 L82.36,111.73 L82.63,111.63 L82.90,111.52 L83.18,111.39 L83.45,111.26 L83.72,111.10 L83.99,110.93 L84.26,110.72 L84.53,110.49 L84.80,110.22 L85.07,109.90 L85.34,109.53 L85.61,109.09 L85.88,108.56 L86.15,107.94 L86.43,107.21 L86.70,106.35 L86.97,105.35 L87.24,104.18 L87.51,102.85 L87.78,101.35 L88.05,99.66 L88.32,97.80 L88.59,95.77 L88.86,93.60 L89.13,91.33 L89.40,88.99 L89.68,86.64 L89.95,84.36 L90.22,82.21 L90.49,80.29 L90.76,78.67 L91.03,77.45 L91.30,76.68 L91.57,76.42 L91.84,76.68 L92.11,77.45 L92.38,78.67 L92.65,80.29 L92.93,82.21 L93.20,84.36 L93.47,86.64 L93.74,88.99 L94.01,91.33 L94.28,93.60 L94.55,95.77 L94.82,97.80 L95.09,99.66 L95.36,101.35 L95.63,102.85 L95.90,104.18 L96.18,105.35 L96.45,106.35 L96.72,107.21 L96.99,107.94 L97.26,108.56 L97.53,109.09 L97.80,109.53 L98.07,109.90 L98.34,110.22 L98.61,110.49 L98.88,110.72 L99.15,110.93 L99.43,111.10 L99.70,111.26 L99.97,111.39 L100.24,111.52 L100.51,111.63 L100.78,111.73 L101.05,111.83 L101.32,111.91 L101.59,111.99 L101.86,112.07 L102.13,112.13 L102.40,112.20 L102.68,112.26 L102.95,112.31 L103.22,112.37 L103.49,112.42 L103.76,112.42 L104.03,112.42 L104.30,112.42 L104.57,112.42 Z" fill="#a6cfa8" stroke="none" stroke-width="1" clip-path="url(#tealclip)"/>
<path d="M78.57,112.42 L78.84,112.42 L79.11,112.42 L79.38,112.42 L79.65,112.42 L79.93,112.37 L80.20,112.31 L80.47,112.26 L80.74,112.20 L81.01,112.13 L81.28,112.07 L81.55,111.99 L81.82,111.91 L82.09,111.83 L82.36,111.73 L82.63,111.63 L82.90,111.52 L83.18,111.39 L83.45,111.26 L83.72,111.10 L83.99,110.93 L84.26,110.72 L84.53,110.49 L84.80,110.22 L85.07,109.90 L85.34,109.53 L85.61,109.09 L85.88,108.56 L86.15,107.94 L86.43,107.21 L86.70,106.35 L86.97,105.35 L87.24,104.18 L87.51,102.85 L87.78,101.35 L88.05,99.66 L88.32,97.80 L88.59,95.77 L88.86,93.60 L89.13,91.33 L89.40,88.99 L89.68,86.64 L89.95,84.36 L90.22,82.21 L90.49,80.29 L90.76,78.67 L91.03,77.45 L91.30,76.68 L91.57,76.42 L91.84,76.68 L92.11,77.45 L92.38,78.67 L92.65,80.29 L92.93,82.21 L93.20,84.36 L93.47,86.64 L93.74,88.99 L94.01,91.33 L94.28,93.60 L94.55,95.77 L94.82,97.80 L95.09,99.66 L95.36,101.35 L95.63,102.85 L95.90,104.18 L96.18,105.35 L96.45,106.35 L96.72,107.21 L96.99,107.94 L97.26,108.56 L97.53,109.09 L97.80,109.53 L98.07,109.90 L98.34,110.22 L98.61,110.49 L98.88,110.72 L99.15,110.93 L99.43,111.10 L99.70,111.26 L99.97,111.39 L100.24,111.52 L100.51,111.63 L100.78,111.73 L101.05,111.83 L101.32,111.91 L101.59,111.99 L101.86,112.07 L102.13,112.13 L102.40,112.20 L102.68,112.26 L102.95,112.31 L103.22,112.37 L103.49,112.42 L103.76,112.42 L104.03,112.42 L104.30,112.42 L104.57,112.42" fill="none" stroke="#000" stroke-width="1.0" />
<path d="M72.53,114.60 L72.80,114.60 L73.07,114.60 L73.34,114.60 L73.61,114.59 L73.88,114.54 L74.15,114.49 L74.42,114.43 L74.69,114.37 L74.96,114.31 L75.24,114.24 L75.51,114.17 L75.78,114.09 L76.05,114.00 L76.32,113.91 L76.59,113.80 L76.86,113.69 L77.13,113.57 L77.40,113.43 L77.67,113.28 L77.94,113.10 L78.21,112.90 L78.49,112.67 L78.76,112.40 L79.03,112.08 L79.30,111.70 L79.57,111.26 L79.84,110.74 L80.11,110.12 L80.38,109.39 L80.65,108.52 L80.92,107.52 L81.19,106.36 L81.46,105.03 L81.74,103.52 L82.01,101.83 L82.28,99.97 L82.55,97.94 L82.82,95.78 L83.09,93.50 L83.36,91.16 L83.63,88.82 L83.90,86.53 L84.17,84.38 L84.44,82.46 L84.71,80.85 L84.99,79.62 L85.26,78.86 L85.53,78.60 L85.80,78.86 L86.07,79.62 L86.34,80.85 L86.61,82.46 L86.88,84.38 L87.15,86.53 L87.42,88.82 L87.69,91.16 L87.96,93.50 L88.24,95.78 L88.51,97.94 L88.78,99.97 L89.05,101.83 L89.32,103.52 L89.59,105.03 L89.86,106.36 L90.13,107.52 L90.40,108.52 L90.67,109.39 L90.94,110.12 L91.21,110.74 L91.49,111.26 L91.76,111.70 L92.03,112.08 L92.30,112.40 L92.57,112.67 L92.84,112.90 L93.11,113.10 L93.38,113.28 L93.65,113.43 L93.92,113.57 L94.19,113.69 L94.46,113.80 L94.74,113.91 L95.01,114.00 L95.28,114.09 L95.55,114.17 L95.82,114.24 L96.09,114.31 L96.36,114.37 L96.63,114.43 L96.90,114.49 L97.17,114.54 L97.44,114.59 L97.71,114.60 L97.99,114.60 L98.26,114.60 L98.53,114.60 Z" fill="#cdcdcd" stroke="none" stroke-width="1" fill-opacity="0.8"/>
<path d="M72.53,114.60 L72.80,114.60 L73.07,114.60 L73.34,114.60 L73.61,114.59 L73.88,114.54 L74.15,114.49 L74.42,114.43 L74.69,114.37 L74.96,114.31 L75.24,114.24 L75.51,114.17 L75.78,114.09 L76.05,114.00 L76.32,113.91 L76.59,113.80 L76.86,113.69 L77.13,113.57 L77.40,113.43 L77.67,113.28 L77.94,113.10 L78.21,112.90 L78.49,112.67 L78.76,112.40 L79.03,112.08 L79.30,111.70 L79.57,111.26 L79.84,110.74 L80.11,110.12 L80.38,109.39 L80.65,108.52 L80.92,107.52 L81.19,106.36 L81.46,105.03 L81.74,103.52 L82.01,101.83 L82.28,99.97 L82.55,97.94 L82.82,95.78 L83.09,93.50 L83.36,91.16 L83.63,88.82 L83.90,86.53 L84.17,84.38 L84.44,82.46 L84.71,80.85 L84.99,79.62 L85.26,78.86 L85.53,78.60 L85.80,78.86 L86.07,79.62 L86.34,80.85 L86.61,82.46 L86.88,84.38 L87.15,86.53 L87.42,88.82 L87.69,91.16 L87.96,93.50 L88.24,95.78 L88.51,97.94 L88.78,99.97 L89.05,101.83 L89.32,103.52 L89.59,105.03 L89.86,106.36 L90.13,107.52 L90.40,108.52 L90.67,109.39 L90.94,110.12 L91.21,110.74 L91.49,111.26 L91.76,111.70 L92.03,112.08 L92.30,112.40 L92.57,112.67 L92.84,112.90 L93.11,113.10 L93.38,113.28 L93.65,113.43 L93.92,113.57 L94.19,113.69 L94.46,113.80 L94.74,113.91 L95.01,114.00 L95.28,114.09 L95.55,114.17 L95.82,114.24 L96.09,114.31 L96.36,114.37 L96.63,114.43 L96.90,114.49 L97.17,114.54 L97.44,114.59 L97.71,114.60 L97.99,114.60 L98.26,114.60 L98.53,114.60 Z" fill="#a6cfa8" stroke="none" stroke-width="1" clip-path="url(#tealclip)"/>
<path d="M72.53,114.60 L72.80,114.60 L73.07,114.60 L73.34,114.60 L73.61,114.59 L73.88,114.54 L74.15,114.49 L74.42,114.43 L74.69,114.37 L74.96,114.31 L75.24,114.24 L75.51,114.17 L75.78,114.09 L76.05,114.00 L76.32,113.91 L76.59,113.80 L76.86,113.69 L77.13,113.57 L77.40,113.43 L77.67,113.28 L77.94,113.10 L78.21,112.90 L78.49,112.67 L78.76,112.40 L79.03,112.08 L79.30,111.70 L79.57,111.26 L79.84,110.74 L80.11,110.12 L80.38,109.39 L80.65,108.52 L80.92,107.52 L81.19,106.36 L81.46,105.03 L81.74,103.52 L82.01,101.83 L82.28,99.97 L82.55,97.94 L82.82,95.78 L83.09,93.50 L83.36,91.16 L83.63,88.82 L83.90,86.53 L84.17,84.38 L84.44,82.46 L84.71,80.85 L84.99,79.62 L85.26,78.86 L85.53,78.60 L85.80,78.86 L86.07,79.62 L86.34,80.85 L86.61,82.46 L86.88,84.38 L87.15,86.53 L87.42,88.82 L87.69,91.16 L87.96,93.50 L88.24,95.78 L88.51,97.94 L88.78,99.97 L89.05,101.83 L89.32,103.52 L89.59,105.03 L89.86,106.36 L90.13,107.52 L90.40,108.52 L90.67,109.39 L90.94,110.12 L91.21,110.74 L91.49,111.26 L91.76,111.70 L92.03,112.08 L92.30,112.40 L92.57,112.67 L92.84,112.90 L93.11,113.10 L93.38,113.28 L93.65,113.43 L93.92,113.57 L94.19,113.69 L94.46,113.80 L94.74,113.91 L95.01,114.00 L95.28,114.09 L95.55,114.17 L95.82,114.24 L96.09,114.31 L96.36,114.37 L96.63,114.43 L96.90,114.49 L97.17,114.54 L97.44,114.59 L97.71,114.60 L97.99,114.60 L98.26,114.60 L98.53,114.60" fill="none" stroke="#000" stroke-width="1.0" />
<path d="M67.32,116.78 L67.59,116.78 L67.86,116.78 L68.13,116.78 L68.41,116.77 L68.68,116.72 L68.95,116.66 L69.22,116.61 L69.49,116.55 L69.76,116.48 L70.03,116.42 L70.30,116.34 L70.57,116.26 L70.84,116.18 L71.11,116.08 L71.38,115.98 L71.66,115.87 L71.93,115.74 L72.20,115.61 L72.47,115.45 L72.74,115.28 L73.01,115.07 L73.28,114.84 L73.55,114.57 L73.82,114.25 L74.09,113.88 L74.36,113.44 L74.63,112.91 L74.91,112.29 L75.18,111.56 L75.45,110.70 L75.72,109.70 L75.99,108.53 L76.26,107.20 L76.53,105.70 L76.80,104.01 L77.07,102.15 L77.34,100.12 L77.61,97.95 L77.88,95.68 L78.16,93.34 L78.43,90.99 L78.70,88.71 L78.97,86.56 L79.24,84.64 L79.51,83.02 L79.78,81.80 L80.05,81.03 L80.32,80.78 L80.59,81.03 L80.86,81.80 L81.13,83.02 L81.41,84.64 L81.68,86.56 L81.95,88.71 L82.22,90.99 L82.49,93.34 L82.76,95.68 L83.03,97.95 L83.30,100.12 L83.57,102.15 L83.84,104.01 L84.11,105.70 L84.38,107.20 L84.66,108.53 L84.93,109.70 L85.20,110.70 L85.47,111.56 L85.74,112.29 L86.01,112.91 L86.28,113.44 L86.55,113.88 L86.82,114.25 L87.09,114.57 L87.36,114.84 L87.63,115.07 L87.91,115.28 L88.18,115.45 L88.45,115.61 L88.72,115.74 L88.99,115.87 L89.26,115.98 L89.53,116.08 L89.80,116.18 L90.07,116.26 L90.34,116.34 L90.61,116.42 L90.88,116.48 L91.16,116.55 L91.43,116.61 L91.70,116.66 L91.97,116.72 L92.24,116.77 L92.51,116.78 L92.78,116.78 L93.05,116.78 L93.32,116.78 Z" fill="#cdcdcd" stroke="none" stroke-width="1" fill-opacity="0.8"/>
<path d="M67.32,116.78 L67.59,116.78 L67.86,116.78 L68.13,116.78 L68.41,116.77 L68.68,116.72 L68.95,116.66 L69.22,116.61 L69.49,116.55 L69.76,116.48 L70.03,116.42 L70.30,116.34 L70.57,116.26 L70.84,116.18 L71.11,116.08 L71.38,115.98 L71.66,115.87 L71.93,115.74 L72.20,115.61 L72.47,115.45 L72.74,115.28 L73.01,115.07 L73.28,114.84 L73.55,114.57 L73.82,114.25 L74.09,113.88 L74.36,113.44 L74.63,112.91 L74.91,112.29 L75.18,111.56 L75.45,110.70 L75.72,109.70 L75.99,108.53 L76.26,107.20 L76.53,105.70 L76.80,104.01 L77.07,102.15 L77.34,100.12 L77.61,97.95 L77.88,95.68 L78.16,93.34 L78.43,90.99 L78.70,88.71 L78.97,86.56 L79.24,84.64 L79.51,83.02 L79.78,81.80 L80.05,81.03 L80.32,80.78 L80.59,81.03 L80.86,81.80 L81.13,83.02 L81.41,84.64 L81.68,86.56 L81.95,88.71 L82.22,90.99 L82.49,93.34 L82.76,95.68 L83.03,97.95 L83.30,100.12 L83.57,102.15 L83.84,104.01 L84.11,105.70 L84.38,107.20 L84.66,108.53 L84.93,109.70 L85.20,110.70 L85.47,111.56 L85.74,112.29 L86.01,112.91 L86.28,113.44 L86.55,113.88 L86.82,114.25 L87.09,114.57 L87.36,114.84 L87.63,115.07 L87.91,115.28 L88.18,115.45 L88.45,115.61 L88.72,115.74 L88.99,115.87 L89.26,115.98 L89.53,116.08 L89.80,116.18 L90.07,116.26 L90.34,116.34 L90.61,116.42 L90.88,116.48 L91.16,116.55 L91.43,116.61 L91.70,116.66 L91.97,116.72 L92.24,116.77 L92.51,116.78 L92.78,116.78 L93.05,116.78 L93.32,116.78 Z" fill="#a6cfa8" stroke="none" stroke-width="1" clip-path="url(#tealclip)"/>
<path d="M67.32,116.78 L67.59,116.78 L67.86,116.78 L68.13,116.78 L68.41,116.77 L68.68,116.72 L68.95,116.66 L69.22,116.61 L69.49,116.55 L69.76,116.48 L70.03,116.42 L70.30,116.34 L70.57,116.26 L70.84,116.18 L71.11,116.08 L71.38,115.98 L71.66,115.87 L71.93,115.74 L72.20,115.61 L72.47,115.45 L72.74,115.28 L73.01,115.07 L73.28,114.84 L73.55,114.57 L73.82,114.25 L74.09,113.88 L74.36,113.44 L74.63,112.91 L74.91,112.29 L75.18,111.56 L75.45,110.70 L75.72,109.70 L75.99,108.53 L76.26,107.20 L76.53,105.70 L76.80,104.01 L77.07,102.15 L77.34,100.12 L77.61,97.95 L77.88,95.68 L78.16,93.34 L78.43,90.99 L78.70,88.71 L78.97,86.56 L79.24,84.64 L79.51,83.02 L79.78,81.80 L80.05,81.03 L80.32,80.78 L80.59,81.03 L80.86,81.80 L81.13,83.02 L81.41,84.64 L81.68,86.56 L81.95,88.71 L82.22,90.99 L82.49,93.34 L82.76,95.68 L83.03,97.95 L83.30,100.12 L83.57,102.15 L83.84,104.01 L84.11,105.70 L84.38,107.20 L84.66,108.53 L84.93,109.70 L85.20,110.70 L85.47,111.56 L85.74,112.29 L86.01,112.91 L86.28,113.44 L86.55,113.88 L86.82,114.25 L87.09,114.57 L87.36,114.84 L87.63,115.07 L87.91,115.28 L88.18,115.45 L88.45,115.61 L88.72,115.74 L88.99,115.87 L89.26,115.98 L89.53,116.08 L89.80,116.18 L90.07,116.26 L90.34,116.34 L90.61,116.42 L90.88,116.48 L91.16,116.55 L91.43,116.61 L91.70,116.66 L91.97,116.72 L92.24,116.77 L92.51,116.78 L92.78,116.78 L93.05,116.78 L93.32,116.78" fill="none" stroke="#000" stroke-width="1.0" />
<path d="M63.32,118.95 L63.59,118.95 L63.87,118.95 L64.14,118.95 L64.41,118.94 L64.68,118.89 L64.95,118.84 L65.22,118.78 L65.49,118.72 L65.76,118.66 L66.03,118.59 L66.30,118.52 L66.57,118.44 L66.84,118.35 L67.12,118.26 L67.39,118.15 L67.66,118.04 L67.93,117.92 L68.20,117.78 L68.47,117.63 L68.74,117.45 L69.01,117.25 L69.28,117.02 L69.55,116.75 L69.82,116.43 L70.09,116.05 L70.37,115.61 L70.64,115.09 L70.91,114.47 L71.18,113.74 L71.45,112.87 L71.72,111.87 L71.99,110.71 L72.26,109.38 L72.53,107.87 L72.80,106.18 L73.07,104.32 L73.34,102.29 L73.62,100.13 L73.89,97.85 L74.16,95.51 L74.43,93.17 L74.70,90.88 L74.97,88.73 L75.24,86.81 L75.51,85.20 L75.78,83.97 L76.05,83.21 L76.32,82.95 L76.59,83.21 L76.87,83.97 L77.14,85.20 L77.41,86.81 L77.68,88.73 L77.95,90.88 L78.22,93.17 L78.49,95.51 L78.76,97.85 L79.03,100.13 L79.30,102.29 L79.57,104.32 L79.84,106.18 L80.12,107.87 L80.39,109.38 L80.66,110.71 L80.93,111.87 L81.20,112.87 L81.47,113.74 L81.74,114.47 L82.01,115.09 L82.28,115.61 L82.55,116.05 L82.82,116.43 L83.09,116.75 L83.37,117.02 L83.64,117.25 L83.91,117.45 L84.18,117.63 L84.45,117.78 L84.72,117.92 L84.99,118.04 L85.26,118.15 L85.53,118.26 L85.80,118.35 L86.07,118.44 L86.34,118.52 L86.62,118.59 L86.89,118.66 L87.16,118.72 L87.43,118.78 L87.70,118.84 L87.97,118.89 L88.24,118.94 L88.51,118.95 L88.78,118.95 L89.05,118.95 L89.32,118.95 Z" fill="#cdcdcd" stroke="none" stroke-width="1" fill-opacity="0.8"/>
<path d="M63.32,118.95 L63.59,118.95 L63.87,118.95 L64.14,118.95 L64.41,118.94 L64.68,118.89 L64.95,118.84 L65.22,118.78 L65.49,118.72 L65.76,118.66 L66.03,118.59 L66.30,118.52 L66.57,118.44 L66.84,118.35 L67.12,118.26 L67.39,118.15 L67.66,118.04 L67.93,117.92 L68.20,117.78 L68.47,117.63 L68.74,117.45 L69.01,117.25 L69.28,117.02 L69.55,116.75 L69.82,116.43 L70.09,116.05 L70.37,115.61 L70.64,115.09 L70.91,114.47 L71.18,113.74 L71.45,112.87 L71.72,111.87 L71.99,110.71 L72.26,109.38 L72.53,107.87 L72.80,106.18 L73.07,104.32 L73.34,102.29 L73.62,100.13 L73.89,97.85 L74.16,95.51 L74.43,93.17 L74.70,90.88 L74.97,88.73 L75.24,86.81 L75.51,85.20 L75.78,83.97 L76.05,83.21 L76.32,82.95 L76.59,83.21 L76.87,83.97 L77.14,85.20 L77.41,86.81 L77.68,88.73 L77.95,90.88 L78.22,93.17 L78.49,95.51 L78.76,97.85 L79.03,100.13 L79.30,102.29 L79.57,104.32 L79.84,106.18 L80.12,107.87 L80.39,109.38 L80.66,110.71 L80.93,111.87 L81.20,112.87 L81.47,113.74 L81.74,114.47 L82.01,115.09 L82.28,115.61 L82.55,116.05 L82.82,116.43 L83.09,116.75 L83.37,117.02 L83.64,117.25 L83.91,117.45 L84.18,117.63 L84.45,117.78 L84.72,117.92 L84.99,118.04 L85.26,118.15 L85.53,118.26 L85.80,118.35 L86.07,118.44 L86.34,118.52 L86.62,118.59 L86.89,118.66 L87.16,118.72 L87.43,118.78 L87.70,118.84 L87.97,118.89 L88.24,118.94 L88.51,118.95 L88.78,118.95 L89.05,118.95 L89.32,118.95 Z" fill="#a6cfa8" stroke="none" stroke-width="1" clip-path="url(#tealclip)"/>
<path d="M63.32,118.95 L63.59,118.95 L63.87,118.95 L64.14,118.95 L64.41,118.94 L64.68,118.89 L64.95,118.84 L65.22,118.78 L65.49,118.72 L65.76,118.66 L66.03,118.59 L66.30,118.52 L66.57,118.44 L66.84,118.35 L67.12,118.26 L67.39,118.15 L67.66,118.04 L67.93,117.92 L68.20,117.78 L68.47,117.63 L68.74,117.45 L69.01,117.25 L69.28,117.02 L69.55,116.75 L69.82,116.43 L70.09,116.05 L70.37,115.61 L70.64,115.09 L70.91,114.47 L71.18,113.74 L71.45,112.87 L71.72,111.87 L71.99,110.71 L72.26,109.38 L72.53,107.87 L72.80,106.18 L73.07,104.32 L73.34,102.29 L73.62,100.13 L73.89,97.85 L74.16,95.51 L74.43,93.17 L74.70,90.88 L74.97,88.73 L75.24,86.81 L75.51,85.20 L75.78,83.97 L76.05,83.21 L76.32,82.95 L76.59,83.21 L76.87,83.97 L77.14,85.20 L77.41,86.81 L77.68,88.73 L77.95,90.88 L78.22,93.17 L78.49,95.51 L78.76,97.85 L79.03,100.13 L79.30,102.29 L79.57,104.32 L79.84,106.18 L80.12,107.87 L80.39,109.38 L80.66,110.71 L80.93,111.87 L81.20,112.87 L81.47,113.74 L81.74,114.47 L82.01,115.09 L82.28,115.61 L82.55,116.05 L82.82,116.43 L83.09,116.75 L83.37,117.02 L83.64,117.25 L83.91,117.45 L84.18,117.63 L84.45,117.78 L84.72,117.92 L84.99,118.04 L85.26,118.15 L85.53,118.26 L85.80,118.35 L86.07,118.44 L86.34,118.52 L86.62,118.59 L86.89,118.66 L87.16,118.72 L87.43,118.78 L87.70,118.84 L87.97,118.89 L88.24,118.94 L88.51,118.95 L88.78,118.95 L89.05,118.95 L89.32,118.95" fill="none" stroke="#000" stroke-width="1.0" />
<path d="M60.78,121.12 L61.05,121.12 L61.32,121.12 L61.59,121.12 L61.86,121.12 L62.14,121.07 L62.41,121.01 L62.68,120.96 L62.95,120.90 L63.22,120.83 L63.49,120.77 L63.76,120.69 L64.03,120.61 L64.30,120.53 L64.57,120.43 L64.84,120.33 L65.11,120.22 L65.39,120.09 L65.66,119.96 L65.93,119.80 L66.20,119.63 L66.47,119.42 L66.74,119.19 L67.01,118.92 L67.28,118.60 L67.55,118.23 L67.82,117.79 L68.09,117.26 L68.36,116.64 L68.64,115.91 L68.91,115.05 L69.18,114.05 L69.45,112.88 L69.72,111.55 L69.99,110.05 L70.26,108.36 L70.53,106.50 L70.80,104.47 L71.07,102.30 L71.34,100.03 L71.61,97.69 L71.89,95.34 L72.16,93.06 L72.43,90.91 L72.70,88.99 L72.97,87.37 L73.24,86.15 L73.51,85.38 L73.78,85.12 L74.05,85.38 L74.32,86.15 L74.59,87.37 L74.86,88.99 L75.14,90.91 L75.41,93.06 L75.68,95.34 L75.95,97.69 L76.22,100.03 L76.49,102.30 L76.76,104.47 L77.03,106.50 L77.30,108.36 L77.57,110.05 L77.84,111.55 L78.11,112.88 L78.39,114.05 L78.66,115.05 L78.93,115.91 L79.20,116.64 L79.47,117.26 L79.74,117.79 L80.01,118.23 L80.28,118.60 L80.55,118.92 L80.82,119.19 L81.09,119.42 L81.36,119.63 L81.64,119.80 L81.91,119.96 L82.18,120.09 L82.45,120.22 L82.72,120.33 L82.99,120.43 L83.26,120.53 L83.53,120.61 L83.80,120.69 L84.07,120.77 L84.34,120.83 L84.61,120.90 L84.89,120.96 L85.16,121.01 L85.43,121.07 L85.70,121.12 L85.97,121.12 L86.24,121.12 L86.51,121.12 L86.78,121.12 Z" fill="#cdcdcd" stroke="none" stroke-width="1" fill-opacity="0.8"/>
<path d="M60.78,121.12 L61.05,121.12 L61.32,121.12 L61.59,121.12 L61.86,121.12 L62.14,121.07 L62.41,121.01 L62.68,120.96 L62.95,120.90 L63.22,120.83 L63.49,120.77 L63.76,120.69 L64.03,120.61 L64.30,120.53 L64.57,120.43 L64.84,120.33 L65.11,120.22 L65.39,120.09 L65.66,119.96 L65.93,119.80 L66.20,119.63 L66.47,119.42 L66.74,119.19 L67.01,118.92 L67.28,118.60 L67.55,118.23 L67.82,117.79 L68.09,117.26 L68.36,116.64 L68.64,115.91 L68.91,115.05 L69.18,114.05 L69.45,112.88 L69.72,111.55 L69.99,110.05 L70.26,108.36 L70.53,106.50 L70.80,104.47 L71.07,102.30 L71.34,100.03 L71.61,97.69 L71.89,95.34 L72.16,93.06 L72.43,90.91 L72.70,88.99 L72.97,87.37 L73.24,86.15 L73.51,85.38 L73.78,85.12 L74.05,85.38 L74.32,86.15 L74.59,87.37 L74.86,88.99 L75.14,90.91 L75.41,93.06 L75.68,95.34 L75.95,97.69 L76.22,100.03 L76.49,102.30 L76.76,104.47 L77.03,106.50 L77.30,108.36 L77.57,110.05 L77.84,111.55 L78.11,112.88 L78.39,114.05 L78.66,115.05 L78.93,115.91 L79.20,116.64 L79.47,117.26 L79.74,117.79 L80.01,118.23 L80.28,118.60 L80.55,118.92 L80.82,119.19 L81.09,119.42 L81.36,119.63 L81.64,119.80 L81.91,119.96 L82.18,120.09 L82.45,120.22 L82.72,120.33 L82.99,120.43 L83.26,120.53 L83.53,120.61 L83.80,120.69 L84.07,120.77 L84.34,120.83 L84.61,120.90 L84.89,120.96 L85.16,121.01 L85.43,121.07 L85.70,121.12 L85.97,121.12 L86.24,121.12 L86.51,121.12 L86.78,121.12 Z" fill="#a6cfa8" stroke="none" stroke-width="1" clip-path="url(#tealclip)"/>
<path d="M60.78,121.12 L61.05,121.12 L61.32,121.12 L61.59,121.12 L61.86,121.12 L62.14,121.07 L62.41,121.01 L62.68,120.96 L62.95,120.90 L63.22,120.83 L63.49,120.77 L63.76,120.69 L64.03,120.61 L64.30,120.53 L64.57,120.43 L64.84,120.33 L65.11,120.22 L65.39,120.09 L65.66,119.96 L65.93,119.80 L66.20,119.63 L66.47,119.42 L66.74,119.19 L67.01,118.92 L67.28,118.60 L67.55,118.23 L67.82,117.79 L68.09,117.26 L68.36,116.64 L68.64,115.91 L68.91,115.05 L69.18,114.05 L69.45,112.88 L69.72,111.55 L69.99,110.05 L70.26,108.36 L70.53,106.50 L70.80,104.47 L71.07,102.30 L71.34,100.03 L71.61,97.69 L71.89,95.34 L72.16,93.06 L72.43,90.91 L72.70,88.99 L72.97,87.37 L73.24,86.15 L73.51,85.38 L73.78,85.12 L74.05,85.38 L74.32,86.15 L74.59,87.37 L74.86,88.99 L75.14,90.91 L75.41,93.06 L75.68,95.34 L75.95,97.69 L76.22,100.03 L76.49,102.30 L76.76,104.47 L77.03,106.50 L77.30,108.36 L77.57,110.05 L77.84,111.55 L78.11,112.88 L78.39,114.05 L78.66,115.05 L78.93,115.91 L79.20,116.64 L79.47,117.26 L79.74,117.79 L80.01,118.23 L80.28,118.60 L80.55,118.92 L80.82,119.19 L81.09,119.42 L81.36,119.63 L81.64,119.80 L81.91,119.96 L82.18,120.09 L82.45,120.22 L82.72,120.33 L82.99,120.43 L83.26,120.53 L83.53,120.61 L83.80,120.69 L84.07,120.77 L84.34,120.83 L84.61,120.90 L84.89,120.96 L85.16,121.01 L85.43,121.07 L85.70,121.12 L85.97,121.12 L86.24,121.12 L86.51,121.12 L86.78,121.12" fill="none" stroke="#000" stroke-width="1.0" />
<path d="M59.80,123.30 L60.07,123.30 L60.34,123.30 L60.62,123.30 L60.89,123.29 L61.16,123.24 L61.43,123.19 L61.70,123.13 L61.97,123.07 L62.24,123.01 L62.51,122.94 L62.78,122.87 L63.05,122.79 L63.32,122.70 L63.59,122.61 L63.87,122.50 L64.14,122.39 L64.41,122.27 L64.68,122.13 L64.95,121.98 L65.22,121.80 L65.49,121.60 L65.76,121.37 L66.03,121.10 L66.30,120.78 L66.57,120.40 L66.84,119.96 L67.12,119.44 L67.39,118.82 L67.66,118.09 L67.93,117.22 L68.20,116.22 L68.47,115.06 L68.74,113.73 L69.01,112.22 L69.28,110.53 L69.55,108.67 L69.82,106.64 L70.09,104.48 L70.37,102.20 L70.64,99.86 L70.91,97.52 L71.18,95.23 L71.45,93.08 L71.72,91.16 L71.99,89.55 L72.26,88.32 L72.53,87.56 L72.80,87.30 L73.07,87.56 L73.34,88.32 L73.62,89.55 L73.89,91.16 L74.16,93.08 L74.43,95.23 L74.70,97.52 L74.97,99.86 L75.24,102.20 L75.51,104.48 L75.78,106.64 L76.05,108.67 L76.32,110.53 L76.59,112.22 L76.87,113.73 L77.14,115.06 L77.41,116.22 L77.68,117.22 L77.95,118.09 L78.22,118.82 L78.49,119.44 L78.76,119.96 L79.03,120.40 L79.30,120.78 L79.57,121.10 L79.84,121.37 L80.12,121.60 L80.39,121.80 L80.66,121.98 L80.93,122.13 L81.20,122.27 L81.47,122.39 L81.74,122.50 L82.01,122.61 L82.28,122.70 L82.55,122.79 L82.82,122.87 L83.09,122.94 L83.37,123.01 L83.64,123.07 L83.91,123.13 L84.18,123.19 L84.45,123.24 L84.72,123.29 L84.99,123.30 L85.26,123.30 L85.53,123.30 L85.80,123.30 Z" fill="#cdcdcd" stroke="none" stroke-width="1" fill-opacity="0.8"/>
<path d="M59.80,123.30 L60.07,123.30 L60.34,123.30 L60.62,123.30 L60.89,123.29 L61.16,123.24 L61.43,123.19 L61.70,123.13 L61.97,123.07 L62.24,123.01 L62.51,122.94 L62.78,122.87 L63.05,122.79 L63.32,122.70 L63.59,122.61 L63.87,122.50 L64.14,122.39 L64.41,122.27 L64.68,122.13 L64.95,121.98 L65.22,121.80 L65.49,121.60 L65.76,121.37 L66.03,121.10 L66.30,120.78 L66.57,120.40 L66.84,119.96 L67.12,119.44 L67.39,118.82 L67.66,118.09 L67.93,117.22 L68.20,116.22 L68.47,115.06 L68.74,113.73 L69.01,112.22 L69.28,110.53 L69.55,108.67 L69.82,106.64 L70.09,104.48 L70.37,102.20 L70.64,99.86 L70.91,97.52 L71.18,95.23 L71.45,93.08 L71.72,91.16 L71.99,89.55 L72.26,88.32 L72.53,87.56 L72.80,87.30 L73.07,87.56 L73.34,88.32 L73.62,89.55 L73.89,91.16 L74.16,93.08 L74.43,95.23 L74.70,97.52 L74.97,99.86 L75.24,102.20 L75.51,104.48 L75.78,106.64 L76.05,108.67 L76.32,110.53 L76.59,112.22 L76.87,113.73 L77.14,115.06 L77.41,116.22 L77.68,117.22 L77.95,118.09 L78.22,118.82 L78.49,119.44 L78.76,119.96 L79.03,120.40 L79.30,120.78 L79.57,121.10 L79.84,121.37 L80.12,121.60 L80.39,121.80 L80.66,121.98 L80.93,122.13 L81.20,122.27 L81.47,122.39 L81.74,122.50 L82.01,122.61 L82.28,122.70 L82.55,122.79 L82.82,122.87 L83.09,122.94 L83.37,123.01 L83.64,123.07 L83.91,123.13 L84.18,123.19 L84.45,123.24 L84.72,123.29 L84.99,123.30 L85.26,123.30 L85.53,123.30 L85.80,123.30 Z" fill="#a6cfa8" stroke="none" stroke-width="1" clip-path="url(#tealclip)"/>
<path d="M59.80,123.30 L60.07,123.30 L60.34,123.30 L60.62,123.30 L60.89,123.29 L61.16,123.24 L61.43,123.19 L61.70,123.13 L61.97,123.07 L62.24,123.01 L62.51,122.94 L62.78,122.87 L63.05,122.79 L63.32,122.70 L63.59,122.61 L63.87,122.50 L64.14,122.39 L64.41,122.27 L64.68,122.13 L64.95,121.98 L65.22,121.80 L65.49,121.60 L65.76,121.37 L66.03,121.10 L66.30,120.78 L66.57,120.40 L66.84,119.96 L67.12,119.44 L67.39,118.82 L67.66,118.09 L67.93,117.22 L68.20,116.22 L68.47,115.06 L68.74,113.73 L69.01,112.22 L69.28,110.53 L69.55,108.67 L69.82,106.64 L70.09,104.48 L70.37,102.20 L70.64,99.86 L70.91,97.52 L71.18,95.23 L71.45,93.08 L71.72,91.16 L71.99,89.55 L72.26,88.32 L72.53,87.56 L72.80,87.30 L73.07,87.56 L73.34,88.32 L73.62,89.55 L73.89,91.16 L74.16,93.08 L74.43,95.23 L74.70,97.52 L74.97,99.86 L75.24,102.20 L75.51,104.48 L75.78,106.64 L76.05,108.67 L76.32,110.53 L76.59,112.22 L76.87,113.73 L77.14,115.06 L77.41,116.22 L77.68,117.22 L77.95,118.09 L78.22,118.82 L78.49,119.44 L78.76,119.96 L79.03,120.40 L79.30,120.78 L79.57,121.10 L79.84,121.37 L80.12,121.60 L80.39,121.80 L80.66,121.98 L80.93,122.13 L81.20,122.27 L81.47,122.39 L81.74,122.50 L82.01,122.61 L82.28,122.70 L82.55,122.79 L82.82,122.87 L83.09,122.94 L83.37,123.01 L83.64,123.07 L83.91,123.13 L84.18,123.19 L84.45,123.24 L84.72,123.29 L84.99,123.30 L85.26,123.30 L85.53,123.30 L85.80,123.30" fill="none" stroke="#000" stroke-width="1.0" />
<path d="M60.34,125.47 L60.61,125.47 L60.88,125.47 L61.15,125.47 L61.42,125.47 L61.69,125.42 L61.97,125.36 L62.24,125.31 L62.51,125.25 L62.78,125.18 L63.05,125.12 L63.32,125.04 L63.59,124.96 L63.86,124.88 L64.13,124.78 L64.40,124.68 L64.67,124.57 L64.94,124.44 L65.22,124.31 L65.49,124.15 L65.76,123.98 L66.03,123.77 L66.30,123.54 L66.57,123.27 L66.84,122.95 L67.11,122.58 L67.38,122.14 L67.65,121.61 L67.92,120.99 L68.19,120.26 L68.47,119.40 L68.74,118.40 L69.01,117.23 L69.28,115.90 L69.55,114.40 L69.82,112.71 L70.09,110.85 L70.36,108.82 L70.63,106.65 L70.90,104.38 L71.17,102.04 L71.44,99.69 L71.72,97.41 L71.99,95.26 L72.26,93.34 L72.53,91.72 L72.80,90.50 L73.07,89.73 L73.34,89.47 L73.61,89.73 L73.88,90.50 L74.15,91.72 L74.42,93.34 L74.69,95.26 L74.97,97.41 L75.24,99.69 L75.51,102.04 L75.78,104.38 L76.05,106.65 L76.32,108.82 L76.59,110.85 L76.86,112.71 L77.13,114.40 L77.40,115.90 L77.67,117.23 L77.94,118.40 L78.22,119.40 L78.49,120.26 L78.76,120.99 L79.03,121.61 L79.30,122.14 L79.57,122.58 L79.84,122.95 L80.11,123.27 L80.38,123.54 L80.65,123.77 L80.92,123.98 L81.19,124.15 L81.47,124.31 L81.74,124.44 L82.01,124.57 L82.28,124.68 L82.55,124.78 L82.82,124.88 L83.09,124.96 L83.36,125.04 L83.63,125.12 L83.90,125.18 L84.17,125.25 L84.44,125.31 L84.72,125.36 L84.99,125.42 L85.26,125.47 L85.53,125.47 L85.80,125.47 L86.07,125.47 L86.34,125.47 Z" fill="#cdcdcd" stroke="none" stroke-width="1" fill-opacity="0.8"/>
<path d="M60.34,125.47 L60.61,125.47 L60.88,125.47 L61.15,125.47 L61.42,125.47 L61.69,125.42 L61.97,125.36 L62.24,125.31 L62.51,125.25 L62.78,125.18 L63.05,125.12 L63.32,125.04 L63.59,124.96 L63.86,124.88 L64.13,124.78 L64.40,124.68 L64.67,124.57 L64.94,124.44 L65.22,124.31 L65.49,124.15 L65.76,123.98 L66.03,123.77 L66.30,123.54 L66.57,123.27 L66.84,122.95 L67.11,122.58 L67.38,122.14 L67.65,121.61 L67.92,120.99 L68.19,120.26 L68.47,119.40 L68.74,118.40 L69.01,117.23 L69.28,115.90 L69.55,114.40 L69.82,112.71 L70.09,110.85 L70.36,108.82 L70.63,106.65 L70.90,104.38 L71.17,102.04 L71.44,99.69 L71.72,97.41 L71.99,95.26 L72.26,93.34 L72.53,91.72 L72.80,90.50 L73.07,89.73 L73.34,89.47 L73.61,89.73 L73.88,90.50 L74.15,91.72 L74.42,93.34 L74.69,95.26 L74.97,97.41 L75.24,99.69 L75.51,102.04 L75.78,104.38 L76.05,106.65 L76.32,108.82 L76.59,110.85 L76.86,112.71 L77.13,114.40 L77.40,115.90 L77.67,117.23 L77.94,118.40 L78.22,119.40 L78.49,120.26 L78.76,120.99 L79.03,121.61 L79.30,122.14 L79.57,122.58 L79.84,122.95 L80.11,123.27 L80.38,123.54 L80.65,123.77 L80.92,123.98 L81.19,124.15 L81.47,124.31 L81.74,124.44 L82.01,124.57 L82.28,124.68 L82.55,124.78 L82.82,124.88 L83.09,124.96 L83.36,125.04 L83.63,125.12 L83.90,125.18 L84.17,125.25 L84.44,125.31 L84.72,125.36 L84.99,125.42 L85.26,125.47 L85.53,125.47 L85.80,125.47 L86.07,125.47 L86.34,125.47 Z" fill="#a6cfa8" stroke="none" stroke-width="1" clip-path="url(#tealclip)"/>
<path d="M60.34,125.47 L60.61,125.47 L60.88,125.47 L61.15,125.47 L61.42,125.47 L61.69,125.42 L61.97,125.36 L62.24,125.31 L62.51,125.25 L62.78,125.18 L63.05,125.12 L63.32,125.04 L63.59,124.96 L63.86,124.88 L64.13,124.78 L64.40,124.68 L64.67,124.57 L64.94,124.44 L65.22,124.31 L65.49,124.15 L65.76,123.98 L66.03,123.77 L66.30,123.54 L66.57,123.27 L66.84,122.95 L67.11,122.58 L67.38,122.14 L67.65,121.61 L67.92,120.99 L68.19,120.26 L68.47,119.40 L68.74,118.40 L69.01,117.23 L69.28,115.90 L69.55,114.40 L69.82,112.71 L70.09,110.85 L70.36,108.82 L70.63,106.65 L70.90,104.38 L71.17,102.04 L71.44,99.69 L71.72,97.41 L71.99,95.26 L72.26,93.34 L72.53,91.72 L72.80,90.50 L73.07,89.73 L73.34,89.47 L73.61,89.73 L73.88,90.50 L74.15,91.72 L74.42,93.34 L74.69,95.26 L74.97,97.41 L75.24,99.69 L75.51,102.04 L75.78,104.38 L76.05,106.65 L76.32,108.82 L76.59,110.85 L76.86,112.71 L77.13,114.40 L77.40,115.90 L77.67,117.23 L77.94,118.40 L78.22,119.40 L78.49,120.26 L78.76,120.99 L79.03,121.61 L79.30,122.14 L79.57,122.58 L79.84,122.95 L80.11,123.27 L80.38,123.54 L80.65,123.77 L80.92,123.98 L81.19,124.15 L81.47,124.31 L81.74,124.44 L82.01,124.57 L82.28,124.68 L82.55,124.78 L82.82,124.88 L83.09,124.96 L83.36,125.04 L83.63,125.12 L83.90,125.18 L84.17,125.25 L84.44,125.31 L84.72,125.36 L84.99,125.42 L85.26,125.47 L85.53,125.47 L85.80,125.47 L86.07,125.47 L86.34,125.47" fill="none" stroke="#000" stroke-width="1.0" />
<path d="M62.20,127.65 L62.47,127.65 L62.74,127.65 L63.01,127.65 L63.28,127.64 L63.56,127.59 L63.83,127.54 L64.10,127.48 L64.37,127.42 L64.64,127.36 L64.91,127.29 L65.18,127.22 L65.45,127.14 L65.72,127.05 L65.99,126.96 L66.26,126.85 L66.53,126.74 L66.81,126.62 L67.08,126.48 L67.35,126.33 L67.62,126.15 L67.89,125.95 L68.16,125.72 L68.43,125.45 L68.70,125.13 L68.97,124.75 L69.24,124.31 L69.51,123.79 L69.78,123.17 L70.06,122.44 L70.33,121.57 L70.60,120.57 L70.87,119.41 L71.14,118.08 L71.41,116.57 L71.68,114.88 L71.95,113.02 L72.22,110.99 L72.49,108.83 L72.76,106.55 L73.03,104.21 L73.31,101.87 L73.58,99.58 L73.85,97.43 L74.12,95.51 L74.39,93.90 L74.66,92.67 L74.93,91.91 L75.20,91.65 L75.47,91.91 L75.74,92.67 L76.01,93.90 L76.28,95.51 L76.56,97.43 L76.83,99.58 L77.10,101.87 L77.37,104.21 L77.64,106.55 L77.91,108.83 L78.18,110.99 L78.45,113.02 L78.72,114.88 L78.99,116.57 L79.26,118.08 L79.53,119.41 L79.81,120.57 L80.08,121.57 L80.35,122.44 L80.62,123.17 L80.89,123.79 L81.16,124.31 L81.43,124.75 L81.70,125.13 L81.97,125.45 L82.24,125.72 L82.51,125.95 L82.78,126.15 L83.06,126.33 L83.33,126.48 L83.60,126.62 L83.87,126.74 L84.14,126.85 L84.41,126.96 L84.68,127.05 L84.95,127.14 L85.22,127.22 L85.49,127.29 L85.76,127.36 L86.03,127.42 L86.31,127.48 L86.58,127.54 L86.85,127.59 L87.12,127.64 L87.39,127.65 L87.66,127.65 L87.93,127.65 L88.20,127.65 Z" fill="#cdcdcd" stroke="none" stroke-width="1" fill-opacity="0.8"/>
<path d="M62.20,127.65 L62.47,127.65 L62.74,127.65 L63.01,127.65 L63.28,127.64 L63.56,127.59 L63.83,127.54 L64.10,127.48 L64.37,127.42 L64.64,127.36 L64.91,127.29 L65.18,127.22 L65.45,127.14 L65.72,127.05 L65.99,126.96 L66.26,126.85 L66.53,126.74 L66.81,126.62 L67.08,126.48 L67.35,126.33 L67.62,126.15 L67.89,125.95 L68.16,125.72 L68.43,125.45 L68.70,125.13 L68.97,124.75 L69.24,124.31 L69.51,123.79 L69.78,123.17 L70.06,122.44 L70.33,121.57 L70.60,120.57 L70.87,119.41 L71.14,118.08 L71.41,116.57 L71.68,114.88 L71.95,113.02 L72.22,110.99 L72.49,108.83 L72.76,106.55 L73.03,104.21 L73.31,101.87 L73.58,99.58 L73.85,97.43 L74.12,95.51 L74.39,93.90 L74.66,92.67 L74.93,91.91 L75.20,91.65 L75.47,91.91 L75.74,92.67 L76.01,93.90 L76.28,95.51 L76.56,97.43 L76.83,99.58 L77.10,101.87 L77.37,104.21 L77.64,106.55 L77.91,108.83 L78.18,110.99 L78.45,113.02 L78.72,114.88 L78.99,116.57 L79.26,118.08 L79.53,119.41 L79.81,120.57 L80.08,121.57 L80.35,122.44 L80.62,123.17 L80.89,123.79 L81.16,124.31 L81.43,124.75 L81.70,125.13 L81.97,125.45 L82.24,125.72 L82.51,125.95 L82.78,126.15 L83.06,126.33 L83.33,126.48 L83.60,126.62 L83.87,126.74 L84.14,126.85 L84.41,126.96 L84.68,127.05 L84.95,127.14 L85.22,127.22 L85.49,127.29 L85.76,127.36 L86.03,127.42 L86.31,127.48 L86.58,127.54 L86.85,127.59 L87.12,127.64 L87.39,127.65 L87.66,127.65 L87.93,127.65 L88.20,127.65 Z" fill="#a6cfa8" stroke="none" stroke-width="1" clip-path="url(#tealclip)"/>
<path d="M62.20,127.65 L62.47,127.65 L62.74,127.65 L63.01,127.65 L63.28,127.64 L63.56,127.59 L63.83,127.54 L64.10,127.48 L64.37,127.42 L64.64,127.36 L64.91,127.29 L65.18,127.22 L65.45,127.14 L65.72,127.05 L65.99,126.96 L66.26,126.85 L66.53,126.74 L66.81,126.62 L67.08,126.48 L67.35,126.33 L67.62,126.15 L67.89,125.95 L68.16,125.72 L68.43,125.45 L68.70,125.13 L68.97,124.75 L69.24,124.31 L69.51,123.79 L69.78,123.17 L70.06,122.44 L70.33,121.57 L70.60,120.57 L70.87,119.41 L71.14,118.08 L71.41,116.57 L71.68,114.88 L71.95,113.02 L72.22,110.99 L72.49,108.83 L72.76,106.55 L73.03,104.21 L73.31,101.87 L73.58,99.58 L73.85,97.43 L74.12,95.51 L74.39,93.90 L74.66,92.67 L74.93,91.91 L75.20,91.65 L75.47,91.91 L75.74,92.67 L76.01,93.90 L76.28,95.51 L76.56,97.43 L76.83,99.58 L77.10,101.87 L77.37,104.21 L77.64,106.55 L77.91,108.83 L78.18,110.99 L78.45,113.02 L78.72,114.88 L78.99,116.57 L79.26,118.08 L79.53,119.41 L79.81,120.57 L80.08,121.57 L80.35,122.44 L80.62,123.17 L80.89,123.79 L81.16,124.31 L81.43,124.75 L81.70,125.13 L81.97,125.45 L82.24,125.72 L82.51,125.95 L82.78,126.15 L83.06,126.33 L83.33,126.48 L83.60,126.62 L83.87,126.74 L84.14,126.85 L84.41,126.96 L84.68,127.05 L84.95,127.14 L85.22,127.22 L85.49,127.29 L85.76,127.36 L86.03,127.42 L86.31,127.48 L86.58,127.54 L86.85,127.59 L87.12,127.64 L87.39,127.65 L87.66,127.65 L87.93,127.65 L88.20,127.65" fill="none" stroke="#000" stroke-width="1.0" />
<path d="M65.06,129.82 L65.33,129.82 L65.60,129.82 L65.87,129.82 L66.14,129.82 L66.41,129.77 L66.69,129.71 L66.96,129.66 L67.23,129.60 L67.50,129.53 L67.77,129.47 L68.04,129.39 L68.31,129.31 L68.58,129.23 L68.85,129.13 L69.12,129.03 L69.39,128.92 L69.66,128.79 L69.94,128.66 L70.21,128.50 L70.48,128.33 L70.75,128.12 L71.02,127.89 L71.29,127.62 L71.56,127.30 L71.83,126.93 L72.10,126.49 L72.37,125.96 L72.64,125.34 L72.91,124.61 L73.19,123.75 L73.46,122.75 L73.73,121.58 L74.00,120.25 L74.27,118.75 L74.54,117.06 L74.81,115.20 L75.08,113.17 L75.35,111.00 L75.62,108.73 L75.89,106.39 L76.16,104.04 L76.44,101.76 L76.71,99.61 L76.98,97.69 L77.25,96.07 L77.52,94.85 L77.79,94.08 L78.06,93.82 L78.33,94.08 L78.60,94.85 L78.87,96.07 L79.14,97.69 L79.41,99.61 L79.69,101.76 L79.96,104.04 L80.23,106.39 L80.50,108.73 L80.77,111.00 L81.04,113.17 L81.31,115.20 L81.58,117.06 L81.85,118.75 L82.12,120.25 L82.39,121.58 L82.66,122.75 L82.94,123.75 L83.21,124.61 L83.48,125.34 L83.75,125.96 L84.02,126.49 L84.29,126.93 L84.56,127.30 L84.83,127.62 L85.10,127.89 L85.37,128.12 L85.64,128.33 L85.91,128.50 L86.19,128.66 L86.46,128.79 L86.73,128.92 L87.00,129.03 L87.27,129.13 L87.54,129.23 L87.81,129.31 L88.08,129.39 L88.35,129.47 L88.62,129.53 L88.89,129.60 L89.16,129.66 L89.44,129.71 L89.71,129.77 L89.98,129.82 L90.25,129.82 L90.52,129.82 L90.79,129.82 L91.06,129.82 Z" fill="#cdcdcd" stroke="none" stroke-width="1" fill-opacity="0.8"/>
<path d="M65.06,129.82 L65.33,129.82 L65.60,129.82 L65.87,129.82 L66.14,129.82 L66.41,129.77 L66.69,129.71 L66.96,129.66 L67.23,129.60 L67.50,129.53 L67.77,129.47 L68.04,129.39 L68.31,129.31 L68.58,129.23 L68.85,129.13 L69.12,129.03 L69.39,128.92 L69.66,128.79 L69.94,128.66 L70.21,128.50 L70.48,128.33 L70.75,128.12 L71.02,127.89 L71.29,127.62 L71.56,127.30 L71.83,126.93 L72.10,126.49 L72.37,125.96 L72.64,125.34 L72.91,124.61 L73.19,123.75 L73.46,122.75 L73.73,121.58 L74.00,120.25 L74.27,118.75 L74.54,117.06 L74.81,115.20 L75.08,113.17 L75.35,111.00 L75.62,108.73 L75.89,106.39 L76.16,104.04 L76.44,101.76 L76.71,99.61 L76.98,97.69 L77.25,96.07 L77.52,94.85 L77.79,94.08 L78.06,93.82 L78.33,94.08 L78.60,94.85 L78.87,96.07 L79.14,97.69 L79.41,99.61 L79.69,101.76 L79.96,104.04 L80.23,106.39 L80.50,108.73 L80.77,111.00 L81.04,113.17 L81.31,115.20 L81.58,117.06 L81.85,118.75 L82.12,120.25 L82.39,121.58 L82.66,122.75 L82.94,123.75 L83.21,124.61 L83.48,125.34 L83.75,125.96 L84.02,126.49 L84.29,126.93 L84.56,127.30 L84.83,127.62 L85.10,127.89 L85.37,128.12 L85.64,128.33 L85.91,128.50 L86.19,128.66 L86.46,128.79 L86.73,128.92 L87.00,129.03 L87.27,129.13 L87.54,129.23 L87.81,129.31 L88.08,129.39 L88.35,129.47 L88.62,129.53 L88.89,129.60 L89.16,129.66 L89.44,129.71 L89.71,129.77 L89.98,129.82 L90.25,129.82 L90.52,129.82 L90.79,129.82 L91.06,129.82 Z" fill="#a6cfa8" stroke="none" stroke-width="1" clip-path="url(#tealclip)"/>
<path d="M65.06,129.82 L65.33,129.82 L65.60,129.82 L65.87,129.82 L66.14,129.82 L66.41,129.77 L66.69,129.71 L66.96,129.66 L67.23,129.60 L67.50,129.53 L67.77,129.47 L68.04,129.39 L68.31,129.31 L68.58,129.23 L68.85,129.13 L69.12,129.03 L69.39,128.92 L69.66,128.79 L69.94,128.66 L70.21,128.50 L70.48,128.33 L70.75,128.12 L71.02,127.89 L71.29,127.62 L71.56,127.30 L71.83,126.93 L72.10,126.49 L72.37,125.96 L72.64,125.34 L72.91,124.61 L73.19,123.75 L73.46,122.75 L73.73,121.58 L74.00,120.25 L74.27,118.75 L74.54,117.06 L74.81,115.20 L75.08,113.17 L75.35,111.00 L75.62,108.73 L75.89,106.39 L76.16,104.04 L76.44,101.76 L76.71,99.61 L76.98,97.69 L77.25,96.07 L77.52,94.85 L77.79,94.08 L78.06,93.82 L78.33,94.08 L78.60,94.85 L78.87,96.07 L79.14,97.69 L79.41,99.61 L79.69,101.76 L79.96,104.04 L80.23,106.39 L80.50,108.73 L80.77,111.00 L81.04,113.17 L81.31,115.20 L81.58,117.06 L81.85,118.75 L82.12,120.25 L82.39,121.58 L82.66,122.75 L82.94,123.75 L83.21,124.61 L83.48,125.34 L83.75,125.96 L84.02,126.49 L84.29,126.93 L84.56,127.30 L84.83,127.62 L85.10,127.89 L85.37,128.12 L85.64,128.33 L85.91,128.50 L86.19,128.66 L86.46,128.79 L86.73,128.92 L87.00,129.03 L87.27,129.13 L87.54,129.23 L87.81,129.31 L88.08,129.39 L88.35,129.47 L88.62,129.53 L88.89,129.60 L89.16,129.66 L89.44,129.71 L89.71,129.77 L89.98,129.82 L90.25,129.82 L90.52,129.82 L90.79,129.82 L91.06,129.82" fill="none" stroke="#000" stroke-width="1.0" />
<path d="M68.50,132.00 L68.77,132.00 L69.04,132.00 L69.31,132.00 L69.58,131.99 L69.85,131.94 L70.12,131.89 L70.39,131.83 L70.66,131.77 L70.93,131.71 L71.20,131.64 L71.47,131.57 L71.75,131.49 L72.02,131.40 L72.29,131.31 L72.56,131.20 L72.83,131.09 L73.10,130.97 L73.37,130.83 L73.64,130.68 L73.91,130.50 L74.18,130.30 L74.45,130.07 L74.72,129.80 L75.00,129.48 L75.27,129.10 L75.54,128.66 L75.81,128.14 L76.08,127.52 L76.35,126.79 L76.62,125.92 L76.89,124.92 L77.16,123.76 L77.43,122.43 L77.70,120.92 L77.97,119.23 L78.25,117.37 L78.52,115.34 L78.79,113.18 L79.06,110.90 L79.33,108.56 L79.60,106.22 L79.87,103.93 L80.14,101.78 L80.41,99.86 L80.68,98.25 L80.95,97.02 L81.22,96.26 L81.50,96.00 L81.77,96.26 L82.04,97.02 L82.31,98.25 L82.58,99.86 L82.85,101.78 L83.12,103.93 L83.39,106.22 L83.66,108.56 L83.93,110.90 L84.20,113.18 L84.47,115.34 L84.75,117.37 L85.02,119.23 L85.29,120.92 L85.56,122.43 L85.83,123.76 L86.10,124.92 L86.37,125.92 L86.64,126.79 L86.91,127.52 L87.18,128.14 L87.45,128.66 L87.72,129.10 L88.00,129.48 L88.27,129.80 L88.54,130.07 L88.81,130.30 L89.08,130.50 L89.35,130.68 L89.62,130.83 L89.89,130.97 L90.16,131.09 L90.43,131.20 L90.70,131.31 L90.97,131.40 L91.25,131.49 L91.52,131.57 L91.79,131.64 L92.06,131.71 L92.33,131.77 L92.60,131.83 L92.87,131.89 L93.14,131.94 L93.41,131.99 L93.68,132.00 L93.95,132.00 L94.22,132.00 L94.50,132.00 Z" fill="#cdcdcd" stroke="none" stroke-width="1" fill-opacity="0.8"/>
<path d="M68.50,132.00 L68.77,132.00 L69.04,132.00 L69.31,132.00 L69.58,131.99 L69.85,131.94 L70.12,131.89 L70.39,131.83 L70.66,131.77 L70.93,131.71 L71.20,131.64 L71.47,131.57 L71.75,131.49 L72.02,131.40 L72.29,131.31 L72.56,131.20 L72.83,131.09 L73.10,130.97 L73.37,130.83 L73.64,130.68 L73.91,130.50 L74.18,130.30 L74.45,130.07 L74.72,129.80 L75.00,129.48 L75.27,129.10 L75.54,128.66 L75.81,128.14 L76.08,127.52 L76.35,126.79 L76.62,125.92 L76.89,124.92 L77.16,123.76 L77.43,122.43 L77.70,120.92 L77.97,119.23 L78.25,117.37 L78.52,115.34 L78.79,113.18 L79.06,110.90 L79.33,108.56 L79.60,106.22 L79.87,103.93 L80.14,101.78 L80.41,99.86 L80.68,98.25 L80.95,97.02 L81.22,96.26 L81.50,96.00 L81.77,96.26 L82.04,97.02 L82.31,98.25 L82.58,99.86 L82.85,101.78 L83.12,103.93 L83.39,106.22 L83.66,108.56 L83.93,110.90 L84.20,113.18 L84.47,115.34 L84.75,117.37 L85.02,119.23 L85.29,120.92 L85.56,122.43 L85.83,123.76 L86.10,124.92 L86.37,125.92 L86.64,126.79 L86.91,127.52 L87.18,128.14 L87.45,128.66 L87.72,129.10 L88.00,129.48 L88.27,129.80 L88.54,130.07 L88.81,130.30 L89.08,130.50 L89.35,130.68 L89.62,130.83 L89.89,130.97 L90.16,131.09 L90.43,131.20 L90.70,131.31 L90.97,131.40 L91.25,131.49 L91.52,131.57 L91.79,131.64 L92.06,131.71 L92.33,131.77 L92.60,131.83 L92.87,131.89 L93.14,131.94 L93.41,131.99 L93.68,132.00 L93.95,132.00 L94.22,132.00 L94.50,132.00 Z" fill="#a6cfa8" stroke="none" stroke-width="1" clip-path="url(#tealclip)"/>
<path d="M68.50,132.00 L68.77,132.00 L69.04,132.00 L69.31,132.00 L69.58,131.99 L69.85,131.94 L70.12,131.89 L70.39,131.83 L70.66,131.77 L70.93,131.71 L71.20,131.64 L71.47,131.57 L71.75,131.49 L72.02,131.40 L72.29,131.31 L72.56,131.20 L72.83,131.09 L73.10,130.97 L73.37,130.83 L73.64,130.68 L73.91,130.50 L74.18,130.30 L74.45,130.07 L74.72,129.80 L75.00,129.48 L75.27,129.10 L75.54,128.66 L75.81,128.14 L76.08,127.52 L76.35,126.79 L76.62,125.92 L76.89,124.92 L77.16,123.76 L77.43,122.43 L77.70,120.92 L77.97,119.23 L78.25,117.37 L78.52,115.34 L78.79,113.18 L79.06,110.90 L79.33,108.56 L79.60,106.22 L79.87,103.93 L80.14,101.78 L80.41,99.86 L80.68,98.25 L80.95,97.02 L81.22,96.26 L81.50,96.00 L81.77,96.26 L82.04,97.02 L82.31,98.25 L82.58,99.86 L82.85,101.78 L83.12,103.93 L83.39,106.22 L83.66,108.56 L83.93,110.90 L84.20,113.18 L84.47,115.34 L84.75,117.37 L85.02,119.23 L85.29,120.92 L85.56,122.43 L85.83,123.76 L86.10,124.92 L86.37,125.92 L86.64,126.79 L86.91,127.52 L87.18,128.14 L87.45,128.66 L87.72,129.10 L88.00,129.48 L88.27,129.80 L88.54,130.07 L88.81,130.30 L89.08,130.50 L89.35,130.68 L89.62,130.83 L89.89,130.97 L90.16,131.09 L90.43,131.20 L90.70,131.31 L90.97,131.40 L91.25,131.49 L91.52,131.57 L91.79,131.64 L92.06,131.71 L92.33,131.77 L92.60,131.83 L92.87,131.89 L93.14,131.94 L93.41,131.99 L93.68,132.00 L93.95,132.00 L94.22,132.00 L94.50,132.00" fill="none" stroke="#000" stroke-width="1.0" />
<line x1="33.50" y1="126.30" x2="38.00" y2="126.30" stroke="#000" stroke-width="1.0" />
<text x="32.20" y="130.00" font-size="10.3" fill="#000" color="#000" text-anchor="end" font-weight="normal"  >0.2</text>
<line x1="33.50" y1="108.00" x2="38.00" y2="108.00" stroke="#000" stroke-width="1.0" />
<text x="32.20" y="111.70" font-size="10.3" fill="#000" color="#000" text-anchor="end" font-weight="normal"  >0.4</text>
<line x1="33.50" y1="89.70" x2="38.00" y2="89.70" stroke="#000" stroke-width="1.0" />
<text x="32.20" y="93.40" font-size="10.3" fill="#000" color="#000" text-anchor="end" font-weight="normal"  >0.6</text>
<line x1="33.50" y1="71.40" x2="38.00" y2="71.40" stroke="#000" stroke-width="1.0" />
<text x="32.20" y="75.10" font-size="10.3" fill="#000" color="#000" text-anchor="end" font-weight="normal"  >0.8</text>
<line x1="33.50" y1="53.10" x2="38.00" y2="53.10" stroke="#000" stroke-width="1.0" />
<text x="32.20" y="56.80" font-size="10.3" fill="#000" color="#000" text-anchor="end" font-weight="normal"  >1.0</text>
<line x1="35.50" y1="132.00" x2="38.00" y2="132.00" stroke="#000" stroke-width="0.85" />
<line x1="35.50" y1="127.42" x2="38.00" y2="127.42" stroke="#000" stroke-width="0.85" />
<line x1="35.50" y1="122.85" x2="38.00" y2="122.85" stroke="#000" stroke-width="0.85" />
<line x1="35.50" y1="118.28" x2="38.00" y2="118.28" stroke="#000" stroke-width="0.85" />
<line x1="35.50" y1="113.70" x2="38.00" y2="113.70" stroke="#000" stroke-width="0.85" />
<line x1="35.50" y1="109.12" x2="38.00" y2="109.12" stroke="#000" stroke-width="0.85" />
<line x1="35.50" y1="104.55" x2="38.00" y2="104.55" stroke="#000" stroke-width="0.85" />
<line x1="35.50" y1="99.97" x2="38.00" y2="99.97" stroke="#000" stroke-width="0.85" />
<line x1="35.50" y1="95.40" x2="38.00" y2="95.40" stroke="#000" stroke-width="0.85" />
<line x1="35.50" y1="90.82" x2="38.00" y2="90.82" stroke="#000" stroke-width="0.85" />
<line x1="35.50" y1="86.25" x2="38.00" y2="86.25" stroke="#000" stroke-width="0.85" />
<line x1="35.50" y1="81.67" x2="38.00" y2="81.67" stroke="#000" stroke-width="0.85" />
<line x1="35.50" y1="77.10" x2="38.00" y2="77.10" stroke="#000" stroke-width="0.85" />
<line x1="35.50" y1="72.53" x2="38.00" y2="72.53" stroke="#000" stroke-width="0.85" />
<line x1="35.50" y1="67.95" x2="38.00" y2="67.95" stroke="#000" stroke-width="0.85" />
<line x1="35.50" y1="63.38" x2="38.00" y2="63.38" stroke="#000" stroke-width="0.85" />
<line x1="35.50" y1="58.80" x2="38.00" y2="58.80" stroke="#000" stroke-width="0.85" />
<line x1="35.50" y1="54.22" x2="38.00" y2="54.22" stroke="#000" stroke-width="0.85" />
<line x1="38.00" y1="132.00" x2="38.00" y2="136.00" stroke="#000" stroke-width="0.8" />
<text x="38.00" y="151.00" font-size="10" fill="#000" color="#000" text-anchor="middle" font-weight="normal"  >-0.4</text>
<line x1="58.50" y1="132.00" x2="58.50" y2="136.00" stroke="#000" stroke-width="0.8" />
<text x="58.50" y="151.00" font-size="10" fill="#000" color="#000" text-anchor="middle" font-weight="normal"  >-0.2</text>
<line x1="79.00" y1="132.00" x2="79.00" y2="136.00" stroke="#000" stroke-width="0.8" />
<text x="79.00" y="151.00" font-size="10" fill="#000" color="#000" text-anchor="middle" font-weight="normal"  >0.0</text>
<line x1="99.50" y1="132.00" x2="99.50" y2="136.00" stroke="#000" stroke-width="0.8" />
<text x="99.50" y="151.00" font-size="10" fill="#000" color="#000" text-anchor="middle" font-weight="normal"  >0.2</text>
<line x1="120.00" y1="132.00" x2="120.00" y2="136.00" stroke="#000" stroke-width="0.8" />
<text x="120.00" y="151.00" font-size="10" fill="#000" color="#000" text-anchor="middle" font-weight="normal"  >0.4</text>
<line x1="38.00" y1="132.00" x2="38.00" y2="134.00" stroke="#000" stroke-width="0.6" />
<line x1="48.25" y1="132.00" x2="48.25" y2="134.00" stroke="#000" stroke-width="0.6" />
<line x1="58.50" y1="132.00" x2="58.50" y2="134.00" stroke="#000" stroke-width="0.6" />
<line x1="68.75" y1="132.00" x2="68.75" y2="134.00" stroke="#000" stroke-width="0.6" />
<line x1="79.00" y1="132.00" x2="79.00" y2="134.00" stroke="#000" stroke-width="0.6" />
<line x1="89.25" y1="132.00" x2="89.25" y2="134.00" stroke="#000" stroke-width="0.6" />
<line x1="99.50" y1="132.00" x2="99.50" y2="134.00" stroke="#000" stroke-width="0.6" />
<line x1="109.75" y1="132.00" x2="109.75" y2="134.00" stroke="#000" stroke-width="0.6" />
<line x1="120.00" y1="132.00" x2="120.00" y2="134.00" stroke="#000" stroke-width="0.6" />
<text x="88.00" y="164.00" font-size="10.3" fill="#000" color="#000" text-anchor="middle" font-weight="normal"  >energy (arb. units)</text>
<line x1="120.50" y1="132.50" x2="123.50" y2="132.50" stroke="#000" stroke-width="0.8" />
<text x="126.70" y="138.30" font-size="10.3" fill="#000" color="#000" text-anchor="start" font-weight="normal"  >0.0</text>
<line x1="126.30" y1="123.80" x2="129.30" y2="123.80" stroke="#000" stroke-width="0.8" />
<text x="132.20" y="129.60" font-size="10.3" fill="#000" color="#000" text-anchor="start" font-weight="normal"  >0.2</text>
<line x1="132.10" y1="115.10" x2="135.10" y2="115.10" stroke="#000" stroke-width="0.8" />
<text x="137.70" y="120.90" font-size="10.3" fill="#000" color="#000" text-anchor="start" font-weight="normal"  >0.4</text>
<line x1="137.90" y1="106.40" x2="140.90" y2="106.40" stroke="#000" stroke-width="0.8" />
<text x="143.20" y="112.20" font-size="10.3" fill="#000" color="#000" text-anchor="start" font-weight="normal"  >0.6</text>
<line x1="143.70" y1="97.70" x2="146.70" y2="97.70" stroke="#000" stroke-width="0.8" />
<text x="148.70" y="103.50" font-size="10.3" fill="#000" color="#000" text-anchor="start" font-weight="normal"  >0.8</text>
<line x1="149.50" y1="89.00" x2="152.50" y2="89.00" stroke="#000" stroke-width="0.8" />
<text x="154.20" y="94.80" font-size="10.3" fill="#000" color="#000" text-anchor="start" font-weight="normal"  >1.0</text>
<text transform="translate(12.9 91) rotate(-90)" font-size="10" text-anchor="middle">intensity (arb. units)</text>
<text transform="translate(168.5 118.5) rotate(-57.5)" font-size="10.5" text-anchor="middle">time (<tspan font-style="italic">T</tspan><tspan font-size="7.5" dy="2">SAW</tspan><tspan dy="-2">)</tspan></text>
<text x="0.00" y="187.00" font-size="10" fill="#000" color="#000" text-anchor="start" font-weight="bold"  >(b)</text>
<clipPath id="cb"><rect x="41" y="181.75" width="128.8" height="129.25"/></clipPath>
<g clip-path="url(#cb)">
<path d="M41.00,305.56 L41.32,305.54 L41.64,305.52 L41.97,305.50 L42.29,305.48 L42.61,305.45 L42.93,305.43 L43.25,305.41 L43.58,305.39 L43.90,305.36 L44.22,305.34 L44.54,305.32 L44.86,305.30 L45.19,305.27 L45.51,305.25 L45.83,305.23 L46.15,305.20 L46.47,305.18 L46.80,305.16 L47.12,305.13 L47.44,305.11 L47.76,305.09 L48.08,305.06 L48.41,305.04 L48.73,305.01 L49.05,304.99 L49.37,304.97 L49.69,304.94 L50.02,304.92 L50.34,304.89 L50.66,304.87 L50.98,304.84 L51.30,304.82 L51.63,304.79 L51.95,304.76 L52.27,304.74 L52.59,304.71 L52.91,304.69 L53.24,304.66 L53.56,304.63 L53.88,304.61 L54.20,304.58 L54.52,304.55 L54.85,304.52 L55.17,304.50 L55.49,304.47 L55.81,304.44 L56.13,304.41 L56.46,304.38 L56.78,304.35 L57.10,304.33 L57.42,304.30 L57.74,304.27 L58.07,304.24 L58.39,304.21 L58.71,304.17 L59.03,304.14 L59.35,304.11 L59.68,304.08 L60.00,304.05 L60.32,304.02 L60.64,303.98 L60.96,303.95 L61.29,303.92 L61.61,303.88 L61.93,303.85 L62.25,303.81 L62.57,303.78 L62.90,303.74 L63.22,303.71 L63.54,303.67 L63.86,303.63 L64.18,303.60 L64.51,303.56 L64.83,303.52 L65.15,303.48 L65.47,303.44 L65.79,303.40 L66.12,303.36 L66.44,303.32 L66.76,303.28 L67.08,303.23 L67.40,303.19 L67.73,303.14 L68.05,303.10 L68.37,303.05 L68.69,303.01 L69.01,302.96 L69.34,302.91 L69.66,302.86 L69.98,302.81 L70.30,302.76 L70.62,302.71 L70.95,302.65 L71.27,302.60 L71.59,302.54 L71.91,302.48 L72.23,302.42 L72.56,302.36 L72.88,302.30 L73.20,302.24 L73.52,302.18 L73.84,302.11 L74.17,302.04 L74.49,301.97 L74.81,301.90 L75.13,301.83 L75.45,301.75 L75.78,301.68 L76.10,301.60 L76.42,301.51 L76.74,301.43 L77.06,301.34 L77.39,301.25 L77.71,301.16 L78.03,301.06 L78.35,300.96 L78.67,300.86 L79.00,300.76 L79.32,300.65 L79.64,300.53 L79.96,300.41 L80.28,300.29 L80.61,300.16 L80.93,300.03 L81.25,299.89 L81.57,299.75 L81.89,299.60 L82.22,299.44 L82.54,299.28 L82.86,299.11 L83.18,298.93 L83.50,298.74 L83.83,298.55 L84.15,298.34 L84.47,298.12 L84.79,297.89 L85.11,297.65 L85.44,297.39 L85.76,297.12 L86.08,296.83 L86.40,296.53 L86.72,296.20 L87.05,295.86 L87.37,295.49 L87.69,295.10 L88.01,294.68 L88.33,294.23 L88.66,293.74 L88.98,293.22 L89.30,292.65 L89.62,292.04 L89.94,291.38 L90.27,290.66 L90.59,289.88 L90.91,289.02 L91.23,288.08 L91.55,287.05 L91.88,285.92 L92.20,284.67 L92.52,283.28 L92.84,281.74 L93.16,280.03 L93.49,278.12 L93.81,275.99 L94.13,273.62 L94.45,270.98 L94.77,268.04 L95.10,264.78 L95.42,261.21 L95.74,257.32 L96.06,253.16 L96.38,248.78 L96.71,244.31 L97.03,239.88 L97.35,235.66 L97.67,231.81 L97.99,228.49 L98.32,225.77 L98.64,223.71 L98.96,222.28 L99.28,221.41 L99.60,221.03 L99.93,221.02 L100.25,221.32 L100.57,221.83 L100.89,222.49 L101.21,223.24 L101.54,224.06 L101.86,224.89 L102.18,225.73 L102.50,226.56 L102.82,227.36 L103.15,228.12 L103.47,228.85 L103.79,229.53 L104.11,230.16 L104.43,230.75 L104.76,231.29 L105.08,231.78 L105.40,232.23 L105.72,232.63 L106.04,232.99 L106.37,233.29 L106.69,233.56 L107.01,233.78 L107.33,233.96 L107.65,234.10 L107.98,234.19 L108.30,234.25 L108.62,234.26 L108.94,234.23 L109.26,234.15 L109.59,234.04 L109.91,233.89 L110.23,233.69 L110.55,233.45 L110.87,233.16 L111.20,232.83 L111.52,232.46 L111.84,232.04 L112.16,231.58 L112.48,231.07 L112.81,230.51 L113.13,229.90 L113.45,229.25 L113.77,228.55 L114.09,227.81 L114.42,227.03 L114.74,226.21 L115.06,225.36 L115.38,224.49 L115.70,223.62 L116.03,222.76 L116.35,221.95 L116.67,221.22 L116.99,220.63 L117.31,220.23 L117.64,220.10 L117.96,220.32 L118.28,221.00 L118.60,222.21 L118.92,224.04 L119.25,226.52 L119.57,229.63 L119.89,233.30 L120.21,237.39 L120.53,241.74 L120.86,246.19 L121.18,250.57 L121.50,254.78 L121.82,258.72 L122.14,262.37 L122.47,265.69 L122.79,268.69 L123.11,271.39 L123.43,273.82 L123.75,275.98 L124.08,277.92 L124.40,279.66 L124.72,281.22 L125.04,282.62 L125.36,283.88 L125.69,285.02 L126.01,286.05 L126.33,286.98 L126.65,287.83 L126.97,288.61 L127.30,289.31 L127.62,289.96 L127.94,290.55 L128.26,291.10 L128.58,291.60 L128.91,292.07 L129.23,292.50 L129.55,292.89 L129.87,293.26 L130.19,293.61 L130.52,293.93 L130.84,294.22 L131.16,294.50 L131.48,294.76 L131.80,295.01 L132.13,295.24 L132.45,295.45 L132.77,295.65 L133.09,295.84 L133.41,296.02 L133.74,296.19 L134.06,296.35 L134.38,296.50 L134.70,296.64 L135.02,296.77 L135.35,296.90 L135.67,297.02 L135.99,297.13 L136.31,297.24 L136.63,297.34 L136.96,297.44 L137.28,297.53 L137.60,297.62 L137.92,297.70 L138.24,297.78 L138.57,297.86 L138.89,297.93 L139.21,298.00 L139.53,298.06 L139.85,298.12 L140.18,298.18 L140.50,298.24 L140.82,298.29 L141.14,298.34 L141.46,298.39 L141.79,298.43 L142.11,298.48 L142.43,298.52 L142.75,298.56 L143.07,298.60 L143.40,298.63 L143.72,298.67 L144.04,298.70 L144.36,298.73 L144.68,298.76 L145.01,298.79 L145.33,298.82 L145.65,298.84 L145.97,298.87 L146.29,298.89 L146.62,298.91 L146.94,298.93 L147.26,298.95 L147.58,298.97 L147.90,298.99 L148.23,299.01 L148.55,299.02 L148.87,299.04 L149.19,299.05 L149.51,299.07 L149.84,299.08 L150.16,299.09 L150.48,299.10 L150.80,299.11 L151.12,299.12 L151.45,299.13 L151.77,299.14 L152.09,299.15 L152.41,299.16 L152.73,299.16 L153.06,299.17 L153.38,299.17 L153.70,299.18 L154.02,299.18 L154.34,299.19 L154.67,299.19 L154.99,299.20 L155.31,299.20 L155.63,299.20 L155.95,299.20 L156.28,299.20 L156.60,299.21 L156.92,299.21 L157.24,299.21 L157.56,299.21 L157.89,299.21 L158.21,299.21 L158.53,299.20 L158.85,299.20 L159.17,299.20 L159.50,299.20 L159.82,299.20 L160.14,299.20 L160.46,299.19 L160.78,299.19 L161.11,299.19 L161.43,299.18 L161.75,299.18 L162.07,299.18 L162.39,299.17 L162.72,299.17 L163.04,299.16 L163.36,299.16 L163.68,299.15 L164.00,299.15 L164.33,299.14 L164.65,299.14 L164.97,299.13 L165.29,299.12 L165.61,299.12 L165.94,299.11 L166.26,299.10 L166.58,299.10 L166.90,299.09 L167.22,299.08 L167.55,299.08 L167.87,299.07 L168.19,299.06 L168.51,299.05 L168.83,299.05 L169.16,299.04 L169.48,299.03 L169.80,299.02" fill="none" stroke="#b5158f" stroke-width="1.1" />
<path d="M41.00,307.69 L41.32,307.68 L41.64,307.68 L41.97,307.68 L42.29,307.67 L42.61,307.67 L42.93,307.67 L43.25,307.66 L43.58,307.66 L43.90,307.65 L44.22,307.65 L44.54,307.65 L44.86,307.64 L45.19,307.64 L45.51,307.64 L45.83,307.63 L46.15,307.63 L46.47,307.62 L46.80,307.62 L47.12,307.62 L47.44,307.61 L47.76,307.61 L48.08,307.60 L48.41,307.60 L48.73,307.60 L49.05,307.59 L49.37,307.59 L49.69,307.58 L50.02,307.58 L50.34,307.58 L50.66,307.57 L50.98,307.57 L51.30,307.56 L51.63,307.56 L51.95,307.55 L52.27,307.55 L52.59,307.55 L52.91,307.54 L53.24,307.54 L53.56,307.53 L53.88,307.53 L54.20,307.52 L54.52,307.52 L54.85,307.51 L55.17,307.51 L55.49,307.50 L55.81,307.50 L56.13,307.49 L56.46,307.49 L56.78,307.48 L57.10,307.48 L57.42,307.47 L57.74,307.47 L58.07,307.46 L58.39,307.46 L58.71,307.45 L59.03,307.45 L59.35,307.44 L59.68,307.44 L60.00,307.43 L60.32,307.43 L60.64,307.42 L60.96,307.42 L61.29,307.41 L61.61,307.40 L61.93,307.40 L62.25,307.39 L62.57,307.39 L62.90,307.38 L63.22,307.37 L63.54,307.37 L63.86,307.36 L64.18,307.35 L64.51,307.35 L64.83,307.34 L65.15,307.33 L65.47,307.33 L65.79,307.32 L66.12,307.31 L66.44,307.31 L66.76,307.30 L67.08,307.29 L67.40,307.28 L67.73,307.28 L68.05,307.27 L68.37,307.26 L68.69,307.25 L69.01,307.25 L69.34,307.24 L69.66,307.23 L69.98,307.22 L70.30,307.21 L70.62,307.20 L70.95,307.19 L71.27,307.19 L71.59,307.18 L71.91,307.17 L72.23,307.16 L72.56,307.15 L72.88,307.14 L73.20,307.13 L73.52,307.12 L73.84,307.11 L74.17,307.09 L74.49,307.08 L74.81,307.07 L75.13,307.06 L75.45,307.05 L75.78,307.04 L76.10,307.02 L76.42,307.01 L76.74,307.00 L77.06,306.98 L77.39,306.97 L77.71,306.96 L78.03,306.94 L78.35,306.93 L78.67,306.91 L79.00,306.90 L79.32,306.88 L79.64,306.86 L79.96,306.85 L80.28,306.83 L80.61,306.81 L80.93,306.79 L81.25,306.77 L81.57,306.76 L81.89,306.73 L82.22,306.71 L82.54,306.69 L82.86,306.67 L83.18,306.65 L83.50,306.62 L83.83,306.60 L84.15,306.57 L84.47,306.55 L84.79,306.52 L85.11,306.49 L85.44,306.46 L85.76,306.43 L86.08,306.40 L86.40,306.37 L86.72,306.33 L87.05,306.30 L87.37,306.26 L87.69,306.22 L88.01,306.18 L88.33,306.14 L88.66,306.10 L88.98,306.05 L89.30,306.01 L89.62,305.96 L89.94,305.90 L90.27,305.85 L90.59,305.79 L90.91,305.73 L91.23,305.67 L91.55,305.60 L91.88,305.53 L92.20,305.46 L92.52,305.38 L92.84,305.30 L93.16,305.21 L93.49,305.12 L93.81,305.03 L94.13,304.92 L94.45,304.81 L94.77,304.70 L95.10,304.57 L95.42,304.44 L95.74,304.30 L96.06,304.15 L96.38,303.99 L96.71,303.81 L97.03,303.62 L97.35,303.42 L97.67,303.21 L97.99,302.97 L98.32,302.72 L98.64,302.44 L98.96,302.14 L99.28,301.81 L99.60,301.45 L99.93,301.05 L100.25,300.62 L100.57,300.14 L100.89,299.61 L101.21,299.03 L101.54,298.37 L101.86,297.64 L102.18,296.82 L102.50,295.90 L102.82,294.85 L103.15,293.67 L103.47,292.31 L103.79,290.76 L104.11,288.97 L104.43,286.90 L104.76,284.48 L105.08,281.66 L105.40,278.35 L105.72,274.43 L106.04,269.81 L106.37,264.34 L106.69,257.87 L107.01,250.30 L107.33,241.55 L107.65,231.69 L107.98,221.08 L108.30,210.43 L108.62,200.93 L108.94,194.08 L109.26,191.24 L109.59,193.05 L109.91,199.10 L110.23,208.14 L110.55,218.65 L110.87,229.34 L111.20,239.40 L111.52,248.41 L111.84,256.24 L112.16,262.94 L112.48,268.62 L112.81,273.42 L113.13,277.47 L113.45,280.90 L113.77,283.82 L114.09,286.32 L114.42,288.46 L114.74,290.30 L115.06,291.90 L115.38,293.29 L115.70,294.51 L116.03,295.58 L116.35,296.52 L116.67,297.36 L116.99,298.10 L117.31,298.77 L117.64,299.36 L117.96,299.90 L118.28,300.39 L118.60,300.82 L118.92,301.22 L119.25,301.58 L119.57,301.92 L119.89,302.22 L120.21,302.50 L120.53,302.75 L120.86,302.98 L121.18,303.20 L121.50,303.40 L121.82,303.59 L122.14,303.76 L122.47,303.92 L122.79,304.07 L123.11,304.21 L123.43,304.34 L123.75,304.46 L124.08,304.57 L124.40,304.68 L124.72,304.78 L125.04,304.87 L125.36,304.96 L125.69,305.04 L126.01,305.12 L126.33,305.19 L126.65,305.26 L126.97,305.33 L127.30,305.39 L127.62,305.45 L127.94,305.51 L128.26,305.56 L128.58,305.61 L128.91,305.66 L129.23,305.70 L129.55,305.75 L129.87,305.79 L130.19,305.83 L130.52,305.86 L130.84,305.90 L131.16,305.93 L131.48,305.96 L131.80,306.00 L132.13,306.03 L132.45,306.05 L132.77,306.08 L133.09,306.11 L133.41,306.13 L133.74,306.15 L134.06,306.18 L134.38,306.20 L134.70,306.22 L135.02,306.24 L135.35,306.26 L135.67,306.28 L135.99,306.29 L136.31,306.31 L136.63,306.33 L136.96,306.34 L137.28,306.36 L137.60,306.37 L137.92,306.39 L138.24,306.40 L138.57,306.41 L138.89,306.43 L139.21,306.44 L139.53,306.45 L139.85,306.46 L140.18,306.47 L140.50,306.48 L140.82,306.49 L141.14,306.50 L141.46,306.51 L141.79,306.52 L142.11,306.53 L142.43,306.53 L142.75,306.54 L143.07,306.55 L143.40,306.56 L143.72,306.56 L144.04,306.57 L144.36,306.58 L144.68,306.58 L145.01,306.59 L145.33,306.59 L145.65,306.60 L145.97,306.61 L146.29,306.61 L146.62,306.62 L146.94,306.62 L147.26,306.62 L147.58,306.63 L147.90,306.63 L148.23,306.64 L148.55,306.64 L148.87,306.65 L149.19,306.65 L149.51,306.65 L149.84,306.66 L150.16,306.66 L150.48,306.66 L150.80,306.66 L151.12,306.67 L151.45,306.67 L151.77,306.67 L152.09,306.68 L152.41,306.68 L152.73,306.68 L153.06,306.68 L153.38,306.68 L153.70,306.69 L154.02,306.69 L154.34,306.69 L154.67,306.69 L154.99,306.69 L155.31,306.69 L155.63,306.70 L155.95,306.70 L156.28,306.70 L156.60,306.70 L156.92,306.70 L157.24,306.70 L157.56,306.70 L157.89,306.70 L158.21,306.71 L158.53,306.71 L158.85,306.71 L159.17,306.71 L159.50,306.71 L159.82,306.71 L160.14,306.71 L160.46,306.71 L160.78,306.71 L161.11,306.71 L161.43,306.71 L161.75,306.71 L162.07,306.71 L162.39,306.71 L162.72,306.71 L163.04,306.71 L163.36,306.71 L163.68,306.71 L164.00,306.71 L164.33,306.71 L164.65,306.71 L164.97,306.71 L165.29,306.71 L165.61,306.71 L165.94,306.71 L166.26,306.71 L166.58,306.71 L166.90,306.71 L167.22,306.71 L167.55,306.71 L167.87,306.71 L168.19,306.71 L168.51,306.71 L168.83,306.71 L169.16,306.71 L169.48,306.71 L169.80,306.70" fill="none" stroke="#0e7c7b" stroke-width="1.1" />
<rect x="40.40" y="305.83" width="3.2" height="3.2" fill="#0e7c7b"/>
<rect x="43.80" y="305.46" width="3.2" height="3.2" fill="#0e7c7b"/>
<rect x="47.20" y="308.39" width="3.2" height="3.2" fill="#0e7c7b"/>
<rect x="50.60" y="304.09" width="3.2" height="3.2" fill="#0e7c7b"/>
<rect x="54.00" y="307.37" width="3.2" height="3.2" fill="#0e7c7b"/>
<rect x="57.40" y="306.01" width="3.2" height="3.2" fill="#0e7c7b"/>
<rect x="60.80" y="305.91" width="3.2" height="3.2" fill="#0e7c7b"/>
<rect x="64.20" y="307.65" width="3.2" height="3.2" fill="#0e7c7b"/>
<rect x="67.60" y="303.61" width="3.2" height="3.2" fill="#0e7c7b"/>
<rect x="71.00" y="304.21" width="3.2" height="3.2" fill="#0e7c7b"/>
<rect x="74.40" y="307.83" width="3.2" height="3.2" fill="#0e7c7b"/>
<rect x="77.80" y="304.76" width="3.2" height="3.2" fill="#0e7c7b"/>
<rect x="81.20" y="307.67" width="3.2" height="3.2" fill="#0e7c7b"/>
<rect x="84.60" y="304.91" width="3.2" height="3.2" fill="#0e7c7b"/>
<rect x="88.00" y="302.24" width="3.2" height="3.2" fill="#0e7c7b"/>
<rect x="91.40" y="301.29" width="3.2" height="3.2" fill="#0e7c7b"/>
<rect x="94.80" y="300.76" width="3.2" height="3.2" fill="#0e7c7b"/>
<rect x="98.20" y="297.26" width="3.2" height="3.2" fill="#0e7c7b"/>
<rect x="101.60" y="292.77" width="3.2" height="3.2" fill="#0e7c7b"/>
<rect x="105.00" y="265.34" width="3.2" height="3.2" fill="#0e7c7b"/>
<rect x="108.40" y="211.44" width="3.2" height="3.2" fill="#0e7c7b"/>
<rect x="111.80" y="280.90" width="3.2" height="3.2" fill="#0e7c7b"/>
<rect x="115.20" y="296.71" width="3.2" height="3.2" fill="#0e7c7b"/>
<rect x="118.60" y="300.32" width="3.2" height="3.2" fill="#0e7c7b"/>
<rect x="122.00" y="300.59" width="3.2" height="3.2" fill="#0e7c7b"/>
<rect x="125.40" y="301.39" width="3.2" height="3.2" fill="#0e7c7b"/>
<rect x="128.80" y="301.57" width="3.2" height="3.2" fill="#0e7c7b"/>
<rect x="132.20" y="306.43" width="3.2" height="3.2" fill="#0e7c7b"/>
<rect x="135.60" y="302.20" width="3.2" height="3.2" fill="#0e7c7b"/>
<rect x="139.00" y="304.51" width="3.2" height="3.2" fill="#0e7c7b"/>
<rect x="142.40" y="306.57" width="3.2" height="3.2" fill="#0e7c7b"/>
<rect x="145.80" y="304.62" width="3.2" height="3.2" fill="#0e7c7b"/>
<rect x="149.20" y="307.47" width="3.2" height="3.2" fill="#0e7c7b"/>
<rect x="152.60" y="302.39" width="3.2" height="3.2" fill="#0e7c7b"/>
<rect x="156.00" y="303.44" width="3.2" height="3.2" fill="#0e7c7b"/>
<rect x="159.40" y="307.04" width="3.2" height="3.2" fill="#0e7c7b"/>
<rect x="162.80" y="303.63" width="3.2" height="3.2" fill="#0e7c7b"/>
<rect x="166.20" y="307.62" width="3.2" height="3.2" fill="#0e7c7b"/>
<circle cx="43.00" cy="308.06" r="1.75" fill="#b5158f"/>
<circle cx="46.90" cy="306.11" r="1.75" fill="#b5158f"/>
<circle cx="50.80" cy="302.03" r="1.75" fill="#b5158f"/>
<circle cx="54.70" cy="301.64" r="1.75" fill="#b5158f"/>
<circle cx="58.60" cy="306.67" r="1.75" fill="#b5158f"/>
<circle cx="62.50" cy="306.50" r="1.75" fill="#b5158f"/>
<circle cx="66.40" cy="303.90" r="1.75" fill="#b5158f"/>
<circle cx="70.30" cy="304.74" r="1.75" fill="#b5158f"/>
<circle cx="74.20" cy="300.01" r="1.75" fill="#b5158f"/>
<circle cx="78.10" cy="298.44" r="1.75" fill="#b5158f"/>
<circle cx="82.00" cy="300.02" r="1.75" fill="#b5158f"/>
<circle cx="85.90" cy="296.92" r="1.75" fill="#b5158f"/>
<circle cx="89.80" cy="290.76" r="1.75" fill="#b5158f"/>
<circle cx="93.70" cy="275.55" r="1.75" fill="#b5158f"/>
<circle cx="97.60" cy="227.23" r="1.75" fill="#b5158f"/>
<circle cx="101.50" cy="222.47" r="1.75" fill="#b5158f"/>
<circle cx="105.40" cy="232.95" r="1.75" fill="#b5158f"/>
<circle cx="109.30" cy="233.78" r="1.75" fill="#b5158f"/>
<circle cx="113.20" cy="232.49" r="1.75" fill="#b5158f"/>
<circle cx="117.10" cy="220.15" r="1.75" fill="#b5158f"/>
<circle cx="121.00" cy="239.57" r="1.75" fill="#b5158f"/>
<circle cx="124.90" cy="285.25" r="1.75" fill="#b5158f"/>
<circle cx="128.80" cy="292.33" r="1.75" fill="#b5158f"/>
<circle cx="132.70" cy="296.60" r="1.75" fill="#b5158f"/>
<circle cx="136.60" cy="296.02" r="1.75" fill="#b5158f"/>
<circle cx="140.50" cy="300.69" r="1.75" fill="#b5158f"/>
<circle cx="144.40" cy="296.06" r="1.75" fill="#b5158f"/>
<circle cx="148.30" cy="299.25" r="1.75" fill="#b5158f"/>
<circle cx="152.20" cy="300.20" r="1.75" fill="#b5158f"/>
<circle cx="156.10" cy="300.29" r="1.75" fill="#b5158f"/>
<circle cx="160.00" cy="298.64" r="1.75" fill="#b5158f"/>
<circle cx="163.90" cy="299.87" r="1.75" fill="#b5158f"/>
<circle cx="167.80" cy="301.81" r="1.75" fill="#b5158f"/>
</g>
<line x1="41.00" y1="181.75" x2="169.80" y2="181.75" stroke="#000" stroke-width="1.2" />
<line x1="41.00" y1="311.00" x2="169.80" y2="311.00" stroke="#000" stroke-width="1.2" />
<line x1="41.00" y1="181.15" x2="41.00" y2="311.60" stroke="#0e7c7b" stroke-width="1.4" />
<line x1="169.80" y1="181.15" x2="169.80" y2="311.60" stroke="#b5158f" stroke-width="1.4" />
<line x1="41.00" y1="311.00" x2="44.50" y2="311.00" stroke="#0e7c7b" stroke-width="1" />
<text x="37.50" y="314.30" font-size="9" fill="#0e7c7b" color="#0e7c7b" text-anchor="end" font-weight="normal"  >200</text>
<line x1="41.00" y1="301.80" x2="43.00" y2="301.80" stroke="#0e7c7b" stroke-width="1" />
<line x1="41.00" y1="292.60" x2="44.50" y2="292.60" stroke="#0e7c7b" stroke-width="1" />
<text x="37.50" y="295.90" font-size="9" fill="#0e7c7b" color="#0e7c7b" text-anchor="end" font-weight="normal"  >400</text>
<line x1="41.00" y1="283.40" x2="43.00" y2="283.40" stroke="#0e7c7b" stroke-width="1" />
<line x1="41.00" y1="274.20" x2="44.50" y2="274.20" stroke="#0e7c7b" stroke-width="1" />
<text x="37.50" y="277.50" font-size="9" fill="#0e7c7b" color="#0e7c7b" text-anchor="end" font-weight="normal"  >600</text>
<line x1="41.00" y1="265.00" x2="43.00" y2="265.00" stroke="#0e7c7b" stroke-width="1" />
<line x1="41.00" y1="255.80" x2="44.50" y2="255.80" stroke="#0e7c7b" stroke-width="1" />
<text x="37.50" y="259.10" font-size="9" fill="#0e7c7b" color="#0e7c7b" text-anchor="end" font-weight="normal"  >800</text>
<line x1="41.00" y1="246.60" x2="43.00" y2="246.60" stroke="#0e7c7b" stroke-width="1" />
<line x1="41.00" y1="237.40" x2="44.50" y2="237.40" stroke="#0e7c7b" stroke-width="1" />
<text x="37.50" y="240.70" font-size="9" fill="#0e7c7b" color="#0e7c7b" text-anchor="end" font-weight="normal"  >1000</text>
<line x1="41.00" y1="228.20" x2="43.00" y2="228.20" stroke="#0e7c7b" stroke-width="1" />
<line x1="41.00" y1="219.00" x2="44.50" y2="219.00" stroke="#0e7c7b" stroke-width="1" />
<text x="37.50" y="222.30" font-size="9" fill="#0e7c7b" color="#0e7c7b" text-anchor="end" font-weight="normal"  >1200</text>
<line x1="41.00" y1="209.80" x2="43.00" y2="209.80" stroke="#0e7c7b" stroke-width="1" />
<line x1="41.00" y1="200.60" x2="44.50" y2="200.60" stroke="#0e7c7b" stroke-width="1" />
<text x="37.50" y="203.90" font-size="9" fill="#0e7c7b" color="#0e7c7b" text-anchor="end" font-weight="normal"  >1400</text>
<line x1="41.00" y1="191.40" x2="43.00" y2="191.40" stroke="#0e7c7b" stroke-width="1" />
<line x1="41.00" y1="182.20" x2="44.50" y2="182.20" stroke="#0e7c7b" stroke-width="1" />
<text x="37.50" y="185.50" font-size="9" fill="#0e7c7b" color="#0e7c7b" text-anchor="end" font-weight="normal"  >1600</text>
<line x1="166.30" y1="311.00" x2="169.80" y2="311.00" stroke="#b5158f" stroke-width="1" />
<text x="173.50" y="314.30" font-size="9" fill="#b5158f" color="#b5158f" text-anchor="start" font-weight="normal"  >200</text>
<line x1="167.80" y1="294.85" x2="169.80" y2="294.85" stroke="#b5158f" stroke-width="1" />
<line x1="166.30" y1="278.70" x2="169.80" y2="278.70" stroke="#b5158f" stroke-width="1" />
<text x="173.50" y="282.00" font-size="9" fill="#b5158f" color="#b5158f" text-anchor="start" font-weight="normal"  >300</text>
<line x1="167.80" y1="262.55" x2="169.80" y2="262.55" stroke="#b5158f" stroke-width="1" />
<line x1="166.30" y1="246.40" x2="169.80" y2="246.40" stroke="#b5158f" stroke-width="1" />
<text x="173.50" y="249.70" font-size="9" fill="#b5158f" color="#b5158f" text-anchor="start" font-weight="normal"  >400</text>
<line x1="167.80" y1="230.25" x2="169.80" y2="230.25" stroke="#b5158f" stroke-width="1" />
<line x1="166.30" y1="214.10" x2="169.80" y2="214.10" stroke="#b5158f" stroke-width="1" />
<text x="173.50" y="217.40" font-size="9" fill="#b5158f" color="#b5158f" text-anchor="start" font-weight="normal"  >500</text>
<line x1="167.80" y1="197.95" x2="169.80" y2="197.95" stroke="#b5158f" stroke-width="1" />
<line x1="166.30" y1="181.80" x2="169.80" y2="181.80" stroke="#b5158f" stroke-width="1" />
<text x="173.50" y="185.10" font-size="9" fill="#b5158f" color="#b5158f" text-anchor="start" font-weight="normal"  >600</text>
<line x1="48.75" y1="311.00" x2="48.75" y2="309.00" stroke="#000" stroke-width="1" />
<line x1="48.75" y1="181.75" x2="48.75" y2="183.75" stroke="#000" stroke-width="1" />
<line x1="67.70" y1="311.00" x2="67.70" y2="307.50" stroke="#000" stroke-width="1" />
<line x1="67.70" y1="181.75" x2="67.70" y2="185.25" stroke="#000" stroke-width="1" />
<line x1="86.65" y1="311.00" x2="86.65" y2="309.00" stroke="#000" stroke-width="1" />
<line x1="86.65" y1="181.75" x2="86.65" y2="183.75" stroke="#000" stroke-width="1" />
<line x1="105.60" y1="311.00" x2="105.60" y2="307.50" stroke="#000" stroke-width="1" />
<line x1="105.60" y1="181.75" x2="105.60" y2="185.25" stroke="#000" stroke-width="1" />
<line x1="124.55" y1="311.00" x2="124.55" y2="309.00" stroke="#000" stroke-width="1" />
<line x1="124.55" y1="181.75" x2="124.55" y2="183.75" stroke="#000" stroke-width="1" />
<line x1="143.50" y1="311.00" x2="143.50" y2="307.50" stroke="#000" stroke-width="1" />
<line x1="143.50" y1="181.75" x2="143.50" y2="185.25" stroke="#000" stroke-width="1" />
<line x1="162.45" y1="311.00" x2="162.45" y2="309.00" stroke="#000" stroke-width="1" />
<line x1="162.45" y1="181.75" x2="162.45" y2="183.75" stroke="#000" stroke-width="1" />
<text x="67.70" y="323.50" font-size="9" fill="#000" color="#000" text-anchor="middle" font-weight="normal"  >1.2849</text>
<text x="105.60" y="323.50" font-size="9" fill="#000" color="#000" text-anchor="middle" font-weight="normal"  >1.2852</text>
<text x="143.50" y="323.50" font-size="9" fill="#000" color="#000" text-anchor="middle" font-weight="normal"  >1.2855</text>
<text x="105.40" y="337.50" font-size="9.5" fill="#000" color="#000" text-anchor="middle" font-weight="normal"  >energy (eV)</text>
<text transform="translate(14 245) rotate(-90)" font-size="9" fill="#0e7c7b" text-anchor="middle" color="#0e7c7b">intensity (arb. units)</text>
<text transform="translate(198 245) rotate(-90)" font-size="9" fill="#b5158f" text-anchor="middle" color="#b5158f">intensity (arb. units)</text>
<rect x="51.2" y="190.7" width="2.6" height="2.6" fill="#0e7c7b"/>
<text x="60.50" y="195.50" font-size="9.5" fill="#000" color="#000" text-anchor="start" font-weight="normal"  >SAW off</text>
<circle cx="52.5" cy="203.3" r="1.5" fill="#b5158f"/>
<text x="60.50" y="206.80" font-size="9.5" fill="#000" color="#000" text-anchor="start" font-weight="normal"  >3 dBm</text>
<text x="283.00" y="8.20" font-size="10.5" fill="#9a9a9a" color="#9a9a9a" text-anchor="middle" font-weight="normal"  >mode <tspan font-style="italic">n</tspan></text>
<text x="314.00" y="8.20" font-size="10.5" fill="#9a9a9a" color="#9a9a9a" text-anchor="middle" font-weight="normal"  >1</text>
<text x="332.50" y="8.20" font-size="10.5" fill="#9a9a9a" color="#9a9a9a" text-anchor="middle" font-weight="normal"  >2</text>
<text x="351.80" y="8.20" font-size="10.5" fill="#9a9a9a" color="#9a9a9a" text-anchor="middle" font-weight="normal"  >3</text>
<text x="377.00" y="8.20" font-size="10.5" fill="#9a9a9a" color="#9a9a9a" text-anchor="middle" font-weight="normal"  >4</text>
<text x="398.50" y="8.20" font-size="10.5" fill="#9a9a9a" color="#9a9a9a" text-anchor="middle" font-weight="normal"  >5</text>
<text x="209.50" y="20.00" font-size="10" fill="#000" color="#000" text-anchor="start" font-weight="bold"  >(c)</text>
<text x="211.00" y="173.00" font-size="10" fill="#000" color="#000" text-anchor="start" font-weight="bold"  >(d)</text>
<radialGradient id="blobg" cx="50%" cy="50%" r="55%"><stop offset="0" stop-color="#a8d0cc"/><stop offset="0.7" stop-color="#c0e0dc"/><stop offset="1" stop-color="#f0f8f7"/></radialGradient>
<filter id="soft" x="-5%" y="-20%" width="110%" height="140%"><feGaussianBlur stdDeviation="0.9"/></filter>
<clipPath id="hc"><rect x="275.2" y="13" width="133.0" height="47.2"/></clipPath>
<g clip-path="url(#hc)">
<rect x="275.2" y="13" width="133.0" height="47.2" fill="#388e89"/>
<g filter="url(#soft)">
<rect x="273.2" y="30.599999999999998" width="137.0" height="12.4" fill="#f6f4ec"/>
<path d="M296.50,32.80 L296.70,31.64 L296.91,31.11 L297.11,30.69 L297.31,30.32 L297.52,30.00 L297.72,29.71 L297.92,29.43 L298.13,29.17 L298.33,28.93 L298.53,28.70 L298.74,28.48 L298.94,28.27 L299.14,28.07 L299.35,27.87 L299.55,27.68 L299.75,27.49 L299.96,27.31 L300.16,27.14 L300.36,26.97 L300.57,26.80 L300.77,26.64 L300.97,26.48 L301.18,26.32 L301.38,26.17 L301.58,26.02 L301.79,25.87 L301.99,25.72 L302.19,25.58 L302.40,25.44 L302.60,25.30 L302.80,25.44 L302.99,25.58 L303.19,25.72 L303.39,25.87 L303.58,26.02 L303.78,26.17 L303.98,26.32 L304.17,26.48 L304.37,26.64 L304.57,26.80 L304.76,26.97 L304.96,27.14 L305.16,27.31 L305.35,27.49 L305.55,27.68 L305.75,27.87 L305.94,28.07 L306.14,28.27 L306.34,28.48 L306.53,28.70 L306.73,28.93 L306.93,29.17 L307.12,29.43 L307.32,29.71 L307.52,30.00 L307.71,30.32 L307.91,30.69 L308.11,31.11 L308.30,31.64 L308.50,32.80 L308.50,40.80 L308.30,41.85 L308.11,42.33 L307.91,42.72 L307.71,43.05 L307.52,43.34 L307.32,43.61 L307.12,43.85 L306.93,44.09 L306.73,44.31 L306.53,44.52 L306.34,44.72 L306.14,44.91 L305.94,45.09 L305.75,45.27 L305.55,45.44 L305.35,45.61 L305.16,45.78 L304.96,45.93 L304.76,46.09 L304.57,46.24 L304.37,46.39 L304.17,46.53 L303.98,46.68 L303.78,46.81 L303.58,46.95 L303.39,47.09 L303.19,47.22 L302.99,47.35 L302.80,47.47 L302.60,47.60 L302.40,47.47 L302.19,47.35 L301.99,47.22 L301.79,47.09 L301.58,46.95 L301.38,46.81 L301.18,46.68 L300.97,46.53 L300.77,46.39 L300.57,46.24 L300.36,46.09 L300.16,45.93 L299.96,45.78 L299.75,45.61 L299.55,45.44 L299.35,45.27 L299.14,45.09 L298.94,44.91 L298.74,44.72 L298.53,44.52 L298.33,44.31 L298.13,44.09 L297.92,43.85 L297.72,43.61 L297.52,43.34 L297.31,43.05 L297.11,42.72 L296.91,42.33 L296.70,41.85 L296.50,40.80 Z" fill="url(#blobg)" stroke="#f8fcfb" stroke-width="2.6" />
<path d="M315.50,36.80 L318.00,33.00 L322.00,27.50 L327.00,23.80 L332.40,22.00 L337.00,24.50 L340.50,28.00 L343.00,29.50 L347.00,30.00 L350.00,32.00 L352.00,36.80 L350.00,41.50 L347.00,43.50 L343.00,44.50 L340.00,46.00 L337.00,49.00 L332.40,51.50 L327.00,50.00 L322.00,46.50 L318.00,41.00 Z" fill="url(#blobg)" stroke="#f8fcfb" stroke-width="2.6" />
<path d="M362.50,33.30 L363.00,32.01 L363.50,31.35 L364.00,30.81 L364.50,30.34 L365.00,29.92 L365.50,29.53 L366.00,29.17 L366.50,28.82 L367.00,28.49 L367.50,28.18 L368.00,27.88 L368.50,27.59 L369.00,27.31 L369.50,27.03 L370.00,26.77 L370.50,26.51 L371.00,26.26 L371.50,26.01 L372.00,25.77 L372.50,25.54 L373.00,25.31 L373.50,25.08 L374.00,24.86 L374.50,24.64 L375.00,24.43 L375.50,24.21 L376.00,24.01 L376.50,23.80 L377.00,23.60 L377.50,23.40 L378.10,23.60 L378.70,23.80 L379.30,24.01 L379.90,24.21 L380.50,24.43 L381.10,24.64 L381.70,24.86 L382.30,25.08 L382.90,25.31 L383.50,25.54 L384.10,25.77 L384.70,26.01 L385.30,26.26 L385.90,26.51 L386.50,26.77 L387.10,27.03 L387.70,27.31 L388.30,27.59 L388.90,27.88 L389.50,28.18 L390.10,28.49 L390.70,28.82 L391.30,29.17 L391.90,29.53 L392.50,29.92 L393.10,30.34 L393.70,30.81 L394.30,31.35 L394.90,32.01 L395.50,33.30 L395.50,40.30 L394.90,41.73 L394.30,42.47 L393.70,43.06 L393.10,43.58 L392.50,44.05 L391.90,44.49 L391.30,44.89 L390.70,45.28 L390.10,45.64 L389.50,45.99 L388.90,46.32 L388.30,46.65 L387.70,46.96 L387.10,47.26 L386.50,47.56 L385.90,47.84 L385.30,48.12 L384.70,48.40 L384.10,48.66 L383.50,48.92 L382.90,49.18 L382.30,49.43 L381.70,49.68 L381.10,49.92 L380.50,50.16 L379.90,50.39 L379.30,50.63 L378.70,50.85 L378.10,51.08 L377.50,51.30 L377.00,51.08 L376.50,50.85 L376.00,50.63 L375.50,50.39 L375.00,50.16 L374.50,49.92 L374.00,49.68 L373.50,49.43 L373.00,49.18 L372.50,48.92 L372.00,48.66 L371.50,48.40 L371.00,48.12 L370.50,47.84 L370.00,47.56 L369.50,47.26 L369.00,46.96 L368.50,46.65 L368.00,46.32 L367.50,45.99 L367.00,45.64 L366.50,45.28 L366.00,44.89 L365.50,44.49 L365.00,44.05 L364.50,43.58 L364.00,43.06 L363.50,42.47 L363.00,41.73 L362.50,40.30 Z" fill="url(#blobg)" stroke="#f8fcfb" stroke-width="2.6" />
<rect x="275.00" y="32.30" width="22.00" height="9.20" rx="1.5" fill="#f8e3b5"/>
<rect x="276.00" y="34.00" width="20.00" height="5.80" rx="1.5" fill="#f5c878"/>
<rect x="306.50" y="31.80" width="11.00" height="10.00" rx="1.5" fill="#f9e6c0"/>
<rect x="308.00" y="33.80" width="8.00" height="6.00" rx="1.5" fill="#f2a838"/>
<rect x="310.00" y="35.30" width="3.50" height="3.00" rx="1.5" fill="#d84a50"/>
<rect x="350.50" y="31.80" width="13.00" height="10.00" rx="1.5" fill="#f9e6c0"/>
<rect x="352.00" y="33.80" width="10.00" height="6.00" rx="1.5" fill="#f2b040"/>
<rect x="355.00" y="35.00" width="4.50" height="3.50" rx="1.5" fill="#ea9030"/>
<rect x="393.00" y="32.00" width="17.00" height="9.50" rx="1.5" fill="#f9e6c0"/>
<rect x="395.00" y="33.80" width="15.00" height="6.00" rx="1.5" fill="#f0a838"/>
<rect x="397.00" y="35.60" width="13.00" height="2.20" rx="1.5" fill="#d03a55"/>
</g>
</g>
<clipPath id="hd"><rect x="275.2" y="165.3" width="133.0" height="48.19999999999999"/></clipPath>
<g clip-path="url(#hd)">
<rect x="275.2" y="165.3" width="133.0" height="48.19999999999999" fill="#388e89"/>
<g filter="url(#soft)">
<rect x="273.2" y="182.8" width="137.0" height="12.4" fill="#f6f4ec"/>
<path d="M297.50,186.00 L298.08,185.49 L298.67,185.01 L299.25,184.54 L299.83,184.08 L300.42,183.63 L301.00,183.18 L301.58,182.74 L302.17,182.30 L302.75,181.86 L303.33,181.42 L303.92,180.99 L304.50,180.56 L305.08,180.13 L305.67,179.70 L306.25,179.27 L306.83,178.85 L307.42,178.42 L308.00,178.00 L308.58,177.58 L309.17,177.16 L309.75,176.74 L310.33,176.32 L310.92,175.90 L311.50,175.48 L312.08,175.07 L312.67,174.65 L313.25,174.24 L313.83,173.82 L314.42,173.41 L315.00,173.00 L315.60,173.41 L316.20,173.82 L316.80,174.24 L317.40,174.65 L318.00,175.07 L318.60,175.48 L319.20,175.90 L319.80,176.32 L320.40,176.74 L321.00,177.16 L321.60,177.58 L322.20,178.00 L322.80,178.42 L323.40,178.85 L324.00,179.27 L324.60,179.70 L325.20,180.13 L325.80,180.56 L326.40,180.99 L327.00,181.42 L327.60,181.86 L328.20,182.30 L328.80,182.74 L329.40,183.18 L330.00,183.63 L330.60,184.08 L331.20,184.54 L331.80,185.01 L332.40,185.49 L333.00,186.00 L333.00,192.00 L332.40,192.55 L331.80,193.05 L331.20,193.55 L330.60,194.04 L330.00,194.52 L329.40,194.99 L328.80,195.46 L328.20,195.93 L327.60,196.40 L327.00,196.86 L326.40,197.32 L325.80,197.78 L325.20,198.24 L324.60,198.69 L324.00,199.14 L323.40,199.60 L322.80,200.05 L322.20,200.49 L321.60,200.94 L321.00,201.39 L320.40,201.83 L319.80,202.28 L319.20,202.72 L318.60,203.16 L318.00,203.61 L317.40,204.05 L316.80,204.49 L316.20,204.92 L315.60,205.36 L315.00,205.80 L314.42,205.36 L313.83,204.92 L313.25,204.49 L312.67,204.05 L312.08,203.61 L311.50,203.16 L310.92,202.72 L310.33,202.28 L309.75,201.83 L309.17,201.39 L308.58,200.94 L308.00,200.49 L307.42,200.05 L306.83,199.60 L306.25,199.14 L305.67,198.69 L305.08,198.24 L304.50,197.78 L303.92,197.32 L303.33,196.86 L302.75,196.40 L302.17,195.93 L301.58,195.46 L301.00,194.99 L300.42,194.52 L299.83,194.04 L299.25,193.55 L298.67,193.05 L298.08,192.55 L297.50,192.00 Z" fill="url(#blobg)" stroke="#f8fcfb" stroke-width="2.6" />
<path d="M336.00,189.00 L339.00,183.00 L343.50,177.50 L348.00,173.00 L351.50,170.60 L358.00,174.50 L365.00,178.50 L371.00,181.50 L376.00,182.50 L377.50,186.00 L377.50,189.00 L377.00,194.00 L375.50,197.80 L368.00,200.00 L359.00,202.50 L351.50,204.60 L345.50,200.50 L340.00,195.00 L337.50,191.50 Z" fill="url(#blobg)" stroke="#f8fcfb" stroke-width="2.6" />
<path d="M385.50,186.50 L385.93,186.06 L386.37,185.65 L386.80,185.24 L387.23,184.85 L387.67,184.46 L388.10,184.07 L388.53,183.69 L388.97,183.31 L389.40,182.93 L389.83,182.56 L390.27,182.18 L390.70,181.81 L391.13,181.44 L391.57,181.07 L392.00,180.70 L392.43,180.34 L392.87,179.97 L393.30,179.61 L393.73,179.24 L394.17,178.88 L394.60,178.52 L395.03,178.16 L395.47,177.80 L395.90,177.44 L396.33,177.08 L396.77,176.72 L397.20,176.37 L397.63,176.01 L398.07,175.65 L398.50,175.30 L398.83,175.65 L399.17,176.01 L399.50,176.37 L399.83,176.72 L400.17,177.08 L400.50,177.44 L400.83,177.80 L401.17,178.16 L401.50,178.52 L401.83,178.88 L402.17,179.24 L402.50,179.61 L402.83,179.97 L403.17,180.34 L403.50,180.70 L403.83,181.07 L404.17,181.44 L404.50,181.81 L404.83,182.18 L405.17,182.56 L405.50,182.93 L405.83,183.31 L406.17,183.69 L406.50,184.07 L406.83,184.46 L407.17,184.85 L407.50,185.24 L407.83,185.65 L408.17,186.06 L408.50,186.50 L408.50,191.50 L408.17,191.97 L407.83,192.42 L407.50,192.85 L407.17,193.27 L406.83,193.69 L406.50,194.10 L406.17,194.51 L405.83,194.92 L405.50,195.32 L405.17,195.73 L404.83,196.13 L404.50,196.53 L404.17,196.92 L403.83,197.32 L403.50,197.71 L403.17,198.10 L402.83,198.50 L402.50,198.89 L402.17,199.28 L401.83,199.66 L401.50,200.05 L401.17,200.44 L400.83,200.82 L400.50,201.21 L400.17,201.59 L399.83,201.97 L399.50,202.36 L399.17,202.74 L398.83,203.12 L398.50,203.50 L398.07,203.12 L397.63,202.74 L397.20,202.36 L396.77,201.97 L396.33,201.59 L395.90,201.21 L395.47,200.82 L395.03,200.44 L394.60,200.05 L394.17,199.66 L393.73,199.28 L393.30,198.89 L392.87,198.50 L392.43,198.10 L392.00,197.71 L391.57,197.32 L391.13,196.92 L390.70,196.53 L390.27,196.13 L389.83,195.73 L389.40,195.32 L388.97,194.92 L388.53,194.51 L388.10,194.10 L387.67,193.69 L387.23,193.27 L386.80,192.85 L386.37,192.42 L385.93,191.97 L385.50,191.50 Z" fill="url(#blobg)" stroke="#f8fcfb" stroke-width="2.6" />
<rect x="275.00" y="184.80" width="22.00" height="8.40" rx="1.5" fill="#f8efd8"/>
<rect x="275.00" y="185.50" width="12.00" height="7.00" rx="1.5" fill="#f4c070"/>
<rect x="275.00" y="186.00" width="6.00" height="6.00" rx="1.5" fill="#f0a040"/>
<rect x="275.00" y="186.50" width="2.50" height="5.00" rx="1.5" fill="#d84040"/>
<rect x="331.00" y="187.50" width="7.00" height="5.50" rx="1.5" fill="#f5c870"/>
<rect x="377.50" y="184.50" width="8.50" height="9.50" rx="1.5" fill="#f0a030"/>
<rect x="379.50" y="187.30" width="4.00" height="4.20" rx="1.5" fill="#c83050"/>
</g>
</g>
<line x1="314.00" y1="12.00" x2="314.00" y2="309.00" stroke="#b8b8b8" stroke-width="0.8" stroke-dasharray="2.2 2"/>
<line x1="332.50" y1="12.00" x2="332.50" y2="309.00" stroke="#b8b8b8" stroke-width="0.8" stroke-dasharray="2.2 2"/>
<line x1="351.80" y1="12.00" x2="351.80" y2="309.00" stroke="#b8b8b8" stroke-width="0.8" stroke-dasharray="2.2 2"/>
<line x1="377.00" y1="12.00" x2="377.00" y2="309.00" stroke="#b8b8b8" stroke-width="0.8" stroke-dasharray="2.2 2"/>
<line x1="398.50" y1="12.00" x2="398.50" y2="309.00" stroke="#b8b8b8" stroke-width="0.8" stroke-dasharray="2.2 2"/>
<line x1="314.00" y1="13.00" x2="314.00" y2="60.20" stroke="#f0f0f0" stroke-width="0.9" stroke-dasharray="2.2 2"/>
<line x1="332.50" y1="13.00" x2="332.50" y2="60.20" stroke="#f0f0f0" stroke-width="0.9" stroke-dasharray="2.2 2"/>
<line x1="351.80" y1="13.00" x2="351.80" y2="60.20" stroke="#f0f0f0" stroke-width="0.9" stroke-dasharray="2.2 2"/>
<line x1="377.00" y1="13.00" x2="377.00" y2="60.20" stroke="#f0f0f0" stroke-width="0.9" stroke-dasharray="2.2 2"/>
<line x1="398.50" y1="13.00" x2="398.50" y2="60.20" stroke="#f0f0f0" stroke-width="0.9" stroke-dasharray="2.2 2"/>
<line x1="314.00" y1="165.30" x2="314.00" y2="213.50" stroke="#f0f0f0" stroke-width="0.9" stroke-dasharray="2.2 2"/>
<line x1="332.50" y1="165.30" x2="332.50" y2="213.50" stroke="#f0f0f0" stroke-width="0.9" stroke-dasharray="2.2 2"/>
<line x1="351.80" y1="165.30" x2="351.80" y2="213.50" stroke="#f0f0f0" stroke-width="0.9" stroke-dasharray="2.2 2"/>
<line x1="377.00" y1="165.30" x2="377.00" y2="213.50" stroke="#f0f0f0" stroke-width="0.9" stroke-dasharray="2.2 2"/>
<line x1="398.50" y1="165.30" x2="398.50" y2="213.50" stroke="#f0f0f0" stroke-width="0.9" stroke-dasharray="2.2 2"/>
<path d="M275.50,99.70 C276.63,99.35 280.18,97.70 282.30,97.60 C284.42,97.50 286.25,99.23 288.20,99.10 C290.15,98.97 292.03,98.32 294.00,96.80 C295.97,95.28 298.52,91.33 300.00,90.00 C301.48,88.67 301.93,88.50 302.90,88.80 C303.87,89.10 304.82,89.98 305.80,91.80 C306.78,93.62 308.07,97.17 308.80,99.70 C309.53,102.23 309.47,106.27 310.20,107.00 C310.93,107.73 311.73,106.53 313.20,104.10 C314.67,101.67 317.03,95.58 319.00,92.40 C320.97,89.22 323.27,86.73 325.00,85.00 C326.73,83.27 328.08,83.33 329.40,82.00 C330.72,80.67 331.47,76.50 332.90,77.00 C334.33,77.50 336.65,82.93 338.00,85.00 C339.35,87.07 340.12,88.90 341.00,89.40 C341.88,89.90 342.08,87.40 343.30,88.00 C344.52,88.60 346.25,90.80 348.30,93.00 C350.35,95.20 353.65,99.25 355.60,101.20 C357.55,103.15 358.77,104.70 360.00,104.70 C361.23,104.70 361.77,103.75 363.00,101.20 C364.23,98.65 365.68,92.35 367.40,89.40 C369.12,86.45 371.58,85.37 373.30,83.50 C375.02,81.63 376.23,77.70 377.70,78.20 C379.17,78.70 380.38,84.38 382.10,86.50 C383.82,88.62 386.28,89.68 388.00,90.90 C389.72,92.12 390.93,92.58 392.40,93.80 C393.87,95.02 395.57,96.48 396.80,98.20 C398.03,99.92 398.57,102.77 399.80,104.10 C401.03,105.43 402.73,105.95 404.20,106.20 C405.67,106.45 407.87,105.70 408.60,105.60" fill="none" stroke="#b5158f" stroke-width="1"/>
<path d="M275.50,259.00 C276.15,258.52 277.78,256.93 279.40,256.10 C281.02,255.27 283.25,254.73 285.20,254.00 C287.15,253.27 289.38,251.93 291.10,251.70 C292.82,251.47 294.03,253.33 295.50,252.60 C296.97,251.87 298.42,249.42 299.90,247.30 C301.38,245.18 302.92,241.97 304.40,239.90 C305.88,237.83 307.33,236.12 308.80,234.90 C310.27,233.68 311.98,233.38 313.20,232.60 C314.42,231.82 315.12,229.95 316.10,230.20 C317.08,230.45 317.87,232.23 319.10,234.10 C320.33,235.97 321.78,238.95 323.50,241.40 C325.22,243.85 327.45,246.93 329.40,248.80 C331.35,250.67 333.50,252.60 335.20,252.60 C336.90,252.60 338.15,250.67 339.60,248.80 C341.05,246.93 342.45,244.35 343.90,241.40 C345.35,238.45 347.08,233.80 348.30,231.10 C349.52,228.40 349.98,225.45 351.20,225.20 C352.42,224.95 353.88,227.63 355.60,229.60 C357.32,231.57 359.53,235.03 361.50,237.00 C363.47,238.97 365.43,240.08 367.40,241.40 C369.37,242.72 371.58,242.93 373.30,244.90 C375.02,246.87 376.33,250.75 377.70,253.20 C379.07,255.65 380.03,259.60 381.50,259.60 C382.97,259.60 384.68,255.73 386.50,253.20 C388.32,250.67 390.43,247.45 392.40,244.40 C394.37,241.35 396.83,235.88 398.30,234.90 C399.77,233.92 399.98,235.95 401.20,238.50 C402.42,241.05 404.37,247.75 405.60,250.20 C406.83,252.65 408.10,252.70 408.60,253.20" fill="none" stroke="#f5a623" stroke-width="1"/>
<path d="M275.30,116.80 C276.58,116.50 280.27,115.60 283.00,115.00 C285.73,114.40 288.87,113.28 291.70,113.20 C294.53,113.12 297.62,113.53 300.00,114.50 C302.38,115.47 304.17,116.92 306.00,119.00 C307.83,121.08 309.73,124.98 311.00,127.00 C312.27,129.02 312.77,131.10 313.60,131.10 C314.43,131.10 314.70,128.62 316.00,127.00 C317.30,125.38 319.73,122.07 321.40,121.40 C323.07,120.73 324.57,121.73 326.00,123.00 C327.43,124.27 329.00,127.33 330.00,129.00 C331.00,130.67 331.33,133.00 332.00,133.00 C332.67,133.00 333.00,130.42 334.00,129.00 C335.00,127.58 336.53,125.45 338.00,124.50 C339.47,123.55 341.20,123.33 342.80,123.30 C344.40,123.27 346.40,123.02 347.60,124.30 C348.80,125.58 349.35,127.55 350.00,131.00 C350.65,134.45 351.17,141.58 351.50,145.00 C351.83,148.42 351.80,151.50 352.00,151.50 C352.20,151.50 352.28,148.25 352.70,145.00 C353.12,141.75 353.57,135.28 354.50,132.00 C355.43,128.72 356.38,127.40 358.30,125.30 C360.22,123.20 363.72,119.95 366.00,119.40 C368.28,118.85 370.42,120.73 372.00,122.00 C373.58,123.27 374.70,125.65 375.50,127.00 C376.30,128.35 376.30,130.27 376.80,130.10 C377.30,129.93 377.47,127.77 378.50,126.00 C379.53,124.23 381.50,121.08 383.00,119.50 C384.50,117.92 385.77,117.08 387.50,116.50 C389.23,115.92 391.82,115.75 393.40,116.00 C394.98,116.25 396.03,117.43 397.00,118.00 C397.97,118.57 398.20,119.57 399.20,119.40 C400.20,119.23 401.53,117.80 403.00,117.00 C404.47,116.20 407.17,115.00 408.00,114.60" fill="none" stroke="#0e7c7b" stroke-width="1"/>
<path d="M275.30,268.20 C276.58,268.00 280.27,267.28 283.00,267.00 C285.73,266.72 288.87,266.40 291.70,266.50 C294.53,266.60 297.65,266.92 300.00,267.60 C302.35,268.28 303.97,268.70 305.80,270.60 C307.63,272.50 309.63,276.73 311.00,279.00 C312.37,281.27 313.08,284.20 314.00,284.20 C314.92,284.20 315.27,280.72 316.50,279.00 C317.73,277.28 319.65,274.40 321.40,273.90 C323.15,273.40 325.48,274.65 327.00,276.00 C328.52,277.35 329.67,280.38 330.50,282.00 C331.33,283.62 331.42,285.87 332.00,285.70 C332.58,285.53 333.08,282.45 334.00,281.00 C334.92,279.55 336.20,277.93 337.50,277.00 C338.80,276.07 340.38,275.40 341.80,275.40 C343.22,275.40 344.72,275.73 346.00,277.00 C347.28,278.27 348.62,280.17 349.50,283.00 C350.38,285.83 350.87,290.88 351.30,294.00 C351.73,297.12 351.83,301.70 352.10,301.70 C352.37,301.70 352.45,297.28 352.90,294.00 C353.35,290.72 353.90,285.10 354.80,282.00 C355.70,278.90 356.58,277.15 358.30,275.40 C360.02,273.65 362.98,271.73 365.10,271.50 C367.22,271.27 369.30,272.75 371.00,274.00 C372.70,275.25 374.33,277.78 375.30,279.00 C376.27,280.22 376.27,281.63 376.80,281.30 C377.33,280.97 377.63,278.63 378.50,277.00 C379.37,275.37 380.50,272.90 382.00,271.50 C383.50,270.10 385.67,269.02 387.50,268.60 C389.33,268.18 391.22,268.52 393.00,269.00 C394.78,269.48 396.53,271.58 398.20,271.50 C399.87,271.42 401.37,269.25 403.00,268.50 C404.63,267.75 407.17,267.25 408.00,267.00" fill="none" stroke="#0e7c7b" stroke-width="1"/>
<rect x="275.2" y="13" width="133.0" height="47.2" fill="none" stroke="#000" stroke-width="1.3"/>
<rect x="275.2" y="60.2" width="133.0" height="48.3" fill="none" stroke="#000" stroke-width="1.3"/>
<rect x="275.2" y="108.5" width="133.0" height="48.5" fill="none" stroke="#000" stroke-width="1.3"/>
<rect x="275.2" y="165.3" width="133.0" height="48.19999999999999" fill="none" stroke="#000" stroke-width="1.3"/>
<rect x="275.2" y="213.5" width="133.0" height="47.5" fill="none" stroke="#000" stroke-width="1.3"/>
<rect x="275.2" y="261" width="133.0" height="48" fill="none" stroke="#000" stroke-width="1.3"/>
<line x1="275.20" y1="60.20" x2="275.20" y2="57.70" stroke="#000" stroke-width="0.9" />
<line x1="275.20" y1="13.00" x2="275.20" y2="15.50" stroke="#000" stroke-width="0.9" />
<line x1="288.50" y1="60.20" x2="288.50" y2="58.40" stroke="#000" stroke-width="0.9" />
<line x1="288.50" y1="13.00" x2="288.50" y2="14.80" stroke="#000" stroke-width="0.9" />
<line x1="301.80" y1="60.20" x2="301.80" y2="57.70" stroke="#000" stroke-width="0.9" />
<line x1="301.80" y1="13.00" x2="301.80" y2="15.50" stroke="#000" stroke-width="0.9" />
<line x1="315.10" y1="60.20" x2="315.10" y2="58.40" stroke="#000" stroke-width="0.9" />
<line x1="315.10" y1="13.00" x2="315.10" y2="14.80" stroke="#000" stroke-width="0.9" />
<line x1="328.40" y1="60.20" x2="328.40" y2="57.70" stroke="#000" stroke-width="0.9" />
<line x1="328.40" y1="13.00" x2="328.40" y2="15.50" stroke="#000" stroke-width="0.9" />
<line x1="341.70" y1="60.20" x2="341.70" y2="58.40" stroke="#000" stroke-width="0.9" />
<line x1="341.70" y1="13.00" x2="341.70" y2="14.80" stroke="#000" stroke-width="0.9" />
<line x1="355.00" y1="60.20" x2="355.00" y2="57.70" stroke="#000" stroke-width="0.9" />
<line x1="355.00" y1="13.00" x2="355.00" y2="15.50" stroke="#000" stroke-width="0.9" />
<line x1="368.30" y1="60.20" x2="368.30" y2="58.40" stroke="#000" stroke-width="0.9" />
<line x1="368.30" y1="13.00" x2="368.30" y2="14.80" stroke="#000" stroke-width="0.9" />
<line x1="381.60" y1="60.20" x2="381.60" y2="57.70" stroke="#000" stroke-width="0.9" />
<line x1="381.60" y1="13.00" x2="381.60" y2="15.50" stroke="#000" stroke-width="0.9" />
<line x1="394.90" y1="60.20" x2="394.90" y2="58.40" stroke="#000" stroke-width="0.9" />
<line x1="394.90" y1="13.00" x2="394.90" y2="14.80" stroke="#000" stroke-width="0.9" />
<line x1="408.20" y1="60.20" x2="408.20" y2="57.70" stroke="#000" stroke-width="0.9" />
<line x1="408.20" y1="13.00" x2="408.20" y2="15.50" stroke="#000" stroke-width="0.9" />
<line x1="275.20" y1="108.50" x2="275.20" y2="106.00" stroke="#000" stroke-width="0.9" />
<line x1="275.20" y1="60.20" x2="275.20" y2="62.70" stroke="#000" stroke-width="0.9" />
<line x1="288.50" y1="108.50" x2="288.50" y2="106.70" stroke="#000" stroke-width="0.9" />
<line x1="288.50" y1="60.20" x2="288.50" y2="62.00" stroke="#000" stroke-width="0.9" />
<line x1="301.80" y1="108.50" x2="301.80" y2="106.00" stroke="#000" stroke-width="0.9" />
<line x1="301.80" y1="60.20" x2="301.80" y2="62.70" stroke="#000" stroke-width="0.9" />
<line x1="315.10" y1="108.50" x2="315.10" y2="106.70" stroke="#000" stroke-width="0.9" />
<line x1="315.10" y1="60.20" x2="315.10" y2="62.00" stroke="#000" stroke-width="0.9" />
<line x1="328.40" y1="108.50" x2="328.40" y2="106.00" stroke="#000" stroke-width="0.9" />
<line x1="328.40" y1="60.20" x2="328.40" y2="62.70" stroke="#000" stroke-width="0.9" />
<line x1="341.70" y1="108.50" x2="341.70" y2="106.70" stroke="#000" stroke-width="0.9" />
<line x1="341.70" y1="60.20" x2="341.70" y2="62.00" stroke="#000" stroke-width="0.9" />
<line x1="355.00" y1="108.50" x2="355.00" y2="106.00" stroke="#000" stroke-width="0.9" />
<line x1="355.00" y1="60.20" x2="355.00" y2="62.70" stroke="#000" stroke-width="0.9" />
<line x1="368.30" y1="108.50" x2="368.30" y2="106.70" stroke="#000" stroke-width="0.9" />
<line x1="368.30" y1="60.20" x2="368.30" y2="62.00" stroke="#000" stroke-width="0.9" />
<line x1="381.60" y1="108.50" x2="381.60" y2="106.00" stroke="#000" stroke-width="0.9" />
<line x1="381.60" y1="60.20" x2="381.60" y2="62.70" stroke="#000" stroke-width="0.9" />
<line x1="394.90" y1="108.50" x2="394.90" y2="106.70" stroke="#000" stroke-width="0.9" />
<line x1="394.90" y1="60.20" x2="394.90" y2="62.00" stroke="#000" stroke-width="0.9" />
<line x1="408.20" y1="108.50" x2="408.20" y2="106.00" stroke="#000" stroke-width="0.9" />
<line x1="408.20" y1="60.20" x2="408.20" y2="62.70" stroke="#000" stroke-width="0.9" />
<line x1="275.20" y1="157.00" x2="275.20" y2="154.50" stroke="#000" stroke-width="0.9" />
<line x1="275.20" y1="108.50" x2="275.20" y2="111.00" stroke="#000" stroke-width="0.9" />
<line x1="288.50" y1="157.00" x2="288.50" y2="155.20" stroke="#000" stroke-width="0.9" />
<line x1="288.50" y1="108.50" x2="288.50" y2="110.30" stroke="#000" stroke-width="0.9" />
<line x1="301.80" y1="157.00" x2="301.80" y2="154.50" stroke="#000" stroke-width="0.9" />
<line x1="301.80" y1="108.50" x2="301.80" y2="111.00" stroke="#000" stroke-width="0.9" />
<line x1="315.10" y1="157.00" x2="315.10" y2="155.20" stroke="#000" stroke-width="0.9" />
<line x1="315.10" y1="108.50" x2="315.10" y2="110.30" stroke="#000" stroke-width="0.9" />
<line x1="328.40" y1="157.00" x2="328.40" y2="154.50" stroke="#000" stroke-width="0.9" />
<line x1="328.40" y1="108.50" x2="328.40" y2="111.00" stroke="#000" stroke-width="0.9" />
<line x1="341.70" y1="157.00" x2="341.70" y2="155.20" stroke="#000" stroke-width="0.9" />
<line x1="341.70" y1="108.50" x2="341.70" y2="110.30" stroke="#000" stroke-width="0.9" />
<line x1="355.00" y1="157.00" x2="355.00" y2="154.50" stroke="#000" stroke-width="0.9" />
<line x1="355.00" y1="108.50" x2="355.00" y2="111.00" stroke="#000" stroke-width="0.9" />
<line x1="368.30" y1="157.00" x2="368.30" y2="155.20" stroke="#000" stroke-width="0.9" />
<line x1="368.30" y1="108.50" x2="368.30" y2="110.30" stroke="#000" stroke-width="0.9" />
<line x1="381.60" y1="157.00" x2="381.60" y2="154.50" stroke="#000" stroke-width="0.9" />
<line x1="381.60" y1="108.50" x2="381.60" y2="111.00" stroke="#000" stroke-width="0.9" />
<line x1="394.90" y1="157.00" x2="394.90" y2="155.20" stroke="#000" stroke-width="0.9" />
<line x1="394.90" y1="108.50" x2="394.90" y2="110.30" stroke="#000" stroke-width="0.9" />
<line x1="408.20" y1="157.00" x2="408.20" y2="154.50" stroke="#000" stroke-width="0.9" />
<line x1="408.20" y1="108.50" x2="408.20" y2="111.00" stroke="#000" stroke-width="0.9" />
<line x1="275.20" y1="213.50" x2="275.20" y2="211.00" stroke="#000" stroke-width="0.9" />
<line x1="275.20" y1="165.30" x2="275.20" y2="167.80" stroke="#000" stroke-width="0.9" />
<line x1="288.50" y1="213.50" x2="288.50" y2="211.70" stroke="#000" stroke-width="0.9" />
<line x1="288.50" y1="165.30" x2="288.50" y2="167.10" stroke="#000" stroke-width="0.9" />
<line x1="301.80" y1="213.50" x2="301.80" y2="211.00" stroke="#000" stroke-width="0.9" />
<line x1="301.80" y1="165.30" x2="301.80" y2="167.80" stroke="#000" stroke-width="0.9" />
<line x1="315.10" y1="213.50" x2="315.10" y2="211.70" stroke="#000" stroke-width="0.9" />
<line x1="315.10" y1="165.30" x2="315.10" y2="167.10" stroke="#000" stroke-width="0.9" />
<line x1="328.40" y1="213.50" x2="328.40" y2="211.00" stroke="#000" stroke-width="0.9" />
<line x1="328.40" y1="165.30" x2="328.40" y2="167.80" stroke="#000" stroke-width="0.9" />
<line x1="341.70" y1="213.50" x2="341.70" y2="211.70" stroke="#000" stroke-width="0.9" />
<line x1="341.70" y1="165.30" x2="341.70" y2="167.10" stroke="#000" stroke-width="0.9" />
<line x1="355.00" y1="213.50" x2="355.00" y2="211.00" stroke="#000" stroke-width="0.9" />
<line x1="355.00" y1="165.30" x2="355.00" y2="167.80" stroke="#000" stroke-width="0.9" />
<line x1="368.30" y1="213.50" x2="368.30" y2="211.70" stroke="#000" stroke-width="0.9" />
<line x1="368.30" y1="165.30" x2="368.30" y2="167.10" stroke="#000" stroke-width="0.9" />
<line x1="381.60" y1="213.50" x2="381.60" y2="211.00" stroke="#000" stroke-width="0.9" />
<line x1="381.60" y1="165.30" x2="381.60" y2="167.80" stroke="#000" stroke-width="0.9" />
<line x1="394.90" y1="213.50" x2="394.90" y2="211.70" stroke="#000" stroke-width="0.9" />
<line x1="394.90" y1="165.30" x2="394.90" y2="167.10" stroke="#000" stroke-width="0.9" />
<line x1="408.20" y1="213.50" x2="408.20" y2="211.00" stroke="#000" stroke-width="0.9" />
<line x1="408.20" y1="165.30" x2="408.20" y2="167.80" stroke="#000" stroke-width="0.9" />
<line x1="275.20" y1="261.00" x2="275.20" y2="258.50" stroke="#000" stroke-width="0.9" />
<line x1="275.20" y1="213.50" x2="275.20" y2="216.00" stroke="#000" stroke-width="0.9" />
<line x1="288.50" y1="261.00" x2="288.50" y2="259.20" stroke="#000" stroke-width="0.9" />
<line x1="288.50" y1="213.50" x2="288.50" y2="215.30" stroke="#000" stroke-width="0.9" />
<line x1="301.80" y1="261.00" x2="301.80" y2="258.50" stroke="#000" stroke-width="0.9" />
<line x1="301.80" y1="213.50" x2="301.80" y2="216.00" stroke="#000" stroke-width="0.9" />
<line x1="315.10" y1="261.00" x2="315.10" y2="259.20" stroke="#000" stroke-width="0.9" />
<line x1="315.10" y1="213.50" x2="315.10" y2="215.30" stroke="#000" stroke-width="0.9" />
<line x1="328.40" y1="261.00" x2="328.40" y2="258.50" stroke="#000" stroke-width="0.9" />
<line x1="328.40" y1="213.50" x2="328.40" y2="216.00" stroke="#000" stroke-width="0.9" />
<line x1="341.70" y1="261.00" x2="341.70" y2="259.20" stroke="#000" stroke-width="0.9" />
<line x1="341.70" y1="213.50" x2="341.70" y2="215.30" stroke="#000" stroke-width="0.9" />
<line x1="355.00" y1="261.00" x2="355.00" y2="258.50" stroke="#000" stroke-width="0.9" />
<line x1="355.00" y1="213.50" x2="355.00" y2="216.00" stroke="#000" stroke-width="0.9" />
<line x1="368.30" y1="261.00" x2="368.30" y2="259.20" stroke="#000" stroke-width="0.9" />
<line x1="368.30" y1="213.50" x2="368.30" y2="215.30" stroke="#000" stroke-width="0.9" />
<line x1="381.60" y1="261.00" x2="381.60" y2="258.50" stroke="#000" stroke-width="0.9" />
<line x1="381.60" y1="213.50" x2="381.60" y2="216.00" stroke="#000" stroke-width="0.9" />
<line x1="394.90" y1="261.00" x2="394.90" y2="259.20" stroke="#000" stroke-width="0.9" />
<line x1="394.90" y1="213.50" x2="394.90" y2="215.30" stroke="#000" stroke-width="0.9" />
<line x1="408.20" y1="261.00" x2="408.20" y2="258.50" stroke="#000" stroke-width="0.9" />
<line x1="408.20" y1="213.50" x2="408.20" y2="216.00" stroke="#000" stroke-width="0.9" />
<line x1="275.20" y1="309.00" x2="275.20" y2="306.50" stroke="#000" stroke-width="0.9" />
<line x1="275.20" y1="261.00" x2="275.20" y2="263.50" stroke="#000" stroke-width="0.9" />
<line x1="288.50" y1="309.00" x2="288.50" y2="307.20" stroke="#000" stroke-width="0.9" />
<line x1="288.50" y1="261.00" x2="288.50" y2="262.80" stroke="#000" stroke-width="0.9" />
<line x1="301.80" y1="309.00" x2="301.80" y2="306.50" stroke="#000" stroke-width="0.9" />
<line x1="301.80" y1="261.00" x2="301.80" y2="263.50" stroke="#000" stroke-width="0.9" />
<line x1="315.10" y1="309.00" x2="315.10" y2="307.20" stroke="#000" stroke-width="0.9" />
<line x1="315.10" y1="261.00" x2="315.10" y2="262.80" stroke="#000" stroke-width="0.9" />
<line x1="328.40" y1="309.00" x2="328.40" y2="306.50" stroke="#000" stroke-width="0.9" />
<line x1="328.40" y1="261.00" x2="328.40" y2="263.50" stroke="#000" stroke-width="0.9" />
<line x1="341.70" y1="309.00" x2="341.70" y2="307.20" stroke="#000" stroke-width="0.9" />
<line x1="341.70" y1="261.00" x2="341.70" y2="262.80" stroke="#000" stroke-width="0.9" />
<line x1="355.00" y1="309.00" x2="355.00" y2="306.50" stroke="#000" stroke-width="0.9" />
<line x1="355.00" y1="261.00" x2="355.00" y2="263.50" stroke="#000" stroke-width="0.9" />
<line x1="368.30" y1="309.00" x2="368.30" y2="307.20" stroke="#000" stroke-width="0.9" />
<line x1="368.30" y1="261.00" x2="368.30" y2="262.80" stroke="#000" stroke-width="0.9" />
<line x1="381.60" y1="309.00" x2="381.60" y2="306.50" stroke="#000" stroke-width="0.9" />
<line x1="381.60" y1="261.00" x2="381.60" y2="263.50" stroke="#000" stroke-width="0.9" />
<line x1="394.90" y1="309.00" x2="394.90" y2="307.20" stroke="#000" stroke-width="0.9" />
<line x1="394.90" y1="261.00" x2="394.90" y2="262.80" stroke="#000" stroke-width="0.9" />
<line x1="408.20" y1="309.00" x2="408.20" y2="306.50" stroke="#000" stroke-width="0.9" />
<line x1="408.20" y1="261.00" x2="408.20" y2="263.50" stroke="#000" stroke-width="0.9" />
<line x1="275.20" y1="22.90" x2="278.20" y2="22.90" stroke="#000" stroke-width="0.9" />
<line x1="408.20" y1="22.90" x2="405.20" y2="22.90" stroke="#000" stroke-width="0.9" />
<text x="273.20" y="26.60" font-size="10.3" fill="#000" color="#000" text-anchor="end" font-weight="normal"  >1.2854</text>
<line x1="275.20" y1="37.60" x2="278.20" y2="37.60" stroke="#000" stroke-width="0.9" />
<line x1="408.20" y1="37.60" x2="405.20" y2="37.60" stroke="#000" stroke-width="0.9" />
<text x="273.20" y="41.30" font-size="10.3" fill="#000" color="#000" text-anchor="end" font-weight="normal"  >1.2852</text>
<line x1="275.20" y1="52.40" x2="278.20" y2="52.40" stroke="#000" stroke-width="0.9" />
<line x1="408.20" y1="52.40" x2="405.20" y2="52.40" stroke="#000" stroke-width="0.9" />
<text x="273.20" y="56.10" font-size="10.3" fill="#000" color="#000" text-anchor="end" font-weight="normal"  >1.2850</text>
<line x1="275.20" y1="106.80" x2="278.20" y2="106.80" stroke="#000" stroke-width="0.9" />
<line x1="408.20" y1="106.80" x2="405.20" y2="106.80" stroke="#000" stroke-width="0.9" />
<text x="273.20" y="110.50" font-size="10.3" fill="#000" color="#000" text-anchor="end" font-weight="normal"  >0.0</text>
<line x1="275.20" y1="91.60" x2="278.20" y2="91.60" stroke="#000" stroke-width="0.9" />
<line x1="408.20" y1="91.60" x2="405.20" y2="91.60" stroke="#000" stroke-width="0.9" />
<text x="273.20" y="95.30" font-size="10.3" fill="#000" color="#000" text-anchor="end" font-weight="normal"  >0.1</text>
<line x1="275.20" y1="76.50" x2="278.20" y2="76.50" stroke="#000" stroke-width="0.9" />
<line x1="408.20" y1="76.50" x2="405.20" y2="76.50" stroke="#000" stroke-width="0.9" />
<text x="273.20" y="80.20" font-size="10.3" fill="#000" color="#000" text-anchor="end" font-weight="normal"  >0.2</text>
<line x1="275.20" y1="124.20" x2="278.20" y2="124.20" stroke="#000" stroke-width="0.9" />
<line x1="408.20" y1="124.20" x2="405.20" y2="124.20" stroke="#000" stroke-width="0.9" />
<text x="273.20" y="127.90" font-size="10.3" fill="#000" color="#000" text-anchor="end" font-weight="normal"  >-30</text>
<line x1="275.20" y1="138.40" x2="278.20" y2="138.40" stroke="#000" stroke-width="0.9" />
<line x1="408.20" y1="138.40" x2="405.20" y2="138.40" stroke="#000" stroke-width="0.9" />
<text x="273.20" y="142.10" font-size="10.3" fill="#000" color="#000" text-anchor="end" font-weight="normal"  >-40</text>
<line x1="275.20" y1="152.90" x2="278.20" y2="152.90" stroke="#000" stroke-width="0.9" />
<line x1="408.20" y1="152.90" x2="405.20" y2="152.90" stroke="#000" stroke-width="0.9" />
<text x="273.20" y="156.60" font-size="10.3" fill="#000" color="#000" text-anchor="end" font-weight="normal"  >-50</text>
<line x1="275.20" y1="181.50" x2="278.20" y2="181.50" stroke="#000" stroke-width="0.9" />
<line x1="408.20" y1="181.50" x2="405.20" y2="181.50" stroke="#000" stroke-width="0.9" />
<text x="273.20" y="185.20" font-size="10.3" fill="#000" color="#000" text-anchor="end" font-weight="normal"  >1.2780</text>
<line x1="275.20" y1="196.80" x2="278.20" y2="196.80" stroke="#000" stroke-width="0.9" />
<line x1="408.20" y1="196.80" x2="405.20" y2="196.80" stroke="#000" stroke-width="0.9" />
<text x="273.20" y="200.50" font-size="10.3" fill="#000" color="#000" text-anchor="end" font-weight="normal"  >1.2778</text>
<line x1="275.20" y1="211.40" x2="278.20" y2="211.40" stroke="#000" stroke-width="0.9" />
<line x1="408.20" y1="211.40" x2="405.20" y2="211.40" stroke="#000" stroke-width="0.9" />
<text x="273.20" y="215.10" font-size="10.3" fill="#000" color="#000" text-anchor="end" font-weight="normal"  >1.2776</text>
<line x1="275.20" y1="260.30" x2="278.20" y2="260.30" stroke="#000" stroke-width="0.9" />
<line x1="408.20" y1="260.30" x2="405.20" y2="260.30" stroke="#000" stroke-width="0.9" />
<text x="273.20" y="264.00" font-size="10.3" fill="#000" color="#000" text-anchor="end" font-weight="normal"  >0.0</text>
<line x1="275.20" y1="244.70" x2="278.20" y2="244.70" stroke="#000" stroke-width="0.9" />
<line x1="408.20" y1="244.70" x2="405.20" y2="244.70" stroke="#000" stroke-width="0.9" />
<text x="273.20" y="248.40" font-size="10.3" fill="#000" color="#000" text-anchor="end" font-weight="normal"  >0.1</text>
<line x1="275.20" y1="229.10" x2="278.20" y2="229.10" stroke="#000" stroke-width="0.9" />
<line x1="408.20" y1="229.10" x2="405.20" y2="229.10" stroke="#000" stroke-width="0.9" />
<text x="273.20" y="232.80" font-size="10.3" fill="#000" color="#000" text-anchor="end" font-weight="normal"  >0.2</text>
<line x1="275.20" y1="276.20" x2="278.20" y2="276.20" stroke="#000" stroke-width="0.9" />
<line x1="408.20" y1="276.20" x2="405.20" y2="276.20" stroke="#000" stroke-width="0.9" />
<text x="273.20" y="279.90" font-size="10.3" fill="#000" color="#000" text-anchor="end" font-weight="normal"  >-30</text>
<line x1="275.20" y1="291.20" x2="278.20" y2="291.20" stroke="#000" stroke-width="0.9" />
<line x1="408.20" y1="291.20" x2="405.20" y2="291.20" stroke="#000" stroke-width="0.9" />
<text x="273.20" y="294.90" font-size="10.3" fill="#000" color="#000" text-anchor="end" font-weight="normal"  >-40</text>
<line x1="275.20" y1="305.60" x2="278.20" y2="305.60" stroke="#000" stroke-width="0.9" />
<line x1="408.20" y1="305.60" x2="405.20" y2="305.60" stroke="#000" stroke-width="0.9" />
<text x="273.20" y="309.30" font-size="10.3" fill="#000" color="#000" text-anchor="end" font-weight="normal"  >-50</text>
<text x="275.20" y="323.00" font-size="10" fill="#000" color="#000" text-anchor="middle" font-weight="normal"  >397</text>
<text x="301.80" y="323.00" font-size="10" fill="#000" color="#000" text-anchor="middle" font-weight="normal"  >398</text>
<text x="328.40" y="323.00" font-size="10" fill="#000" color="#000" text-anchor="middle" font-weight="normal"  >399</text>
<text x="355.00" y="323.00" font-size="10" fill="#000" color="#000" text-anchor="middle" font-weight="normal"  >400</text>
<text x="381.60" y="323.00" font-size="10" fill="#000" color="#000" text-anchor="middle" font-weight="normal"  >401</text>
<text x="408.20" y="323.00" font-size="10" fill="#000" color="#000" text-anchor="middle" font-weight="normal"  >402</text>
<text x="341.70" y="336.00" font-size="10.5" fill="#000" color="#000" text-anchor="middle" font-weight="normal"  >frequency (MHz)</text>
<text x="279.50" y="26.00" font-size="10" fill="#fff" color="#fff" text-anchor="start" font-weight="normal"  >(i)</text>
<text x="279.50" y="76.30" font-size="10" fill="#000" color="#000" text-anchor="start" font-weight="normal"  >(ii)</text>
<text x="279.50" y="150.00" font-size="10" fill="#000" color="#000" text-anchor="start" font-weight="normal"  >(iii)</text>
<text x="279.50" y="178.50" font-size="10" fill="#fff" color="#fff" text-anchor="start" font-weight="normal"  >(i)</text>
<text x="279.50" y="228.80" font-size="10" fill="#000" color="#000" text-anchor="start" font-weight="normal"  >(ii)</text>
<text x="279.50" y="301.50" font-size="10" fill="#000" color="#000" text-anchor="start" font-weight="normal"  >(iii)</text>
<text x="392.40" y="148.60" font-size="10" fill="#0e7c7b" color="#0e7c7b" text-anchor="middle" font-weight="normal"  >5dBm</text>
<text x="392.40" y="301.30" font-size="10" fill="#0e7c7b" color="#0e7c7b" text-anchor="middle" font-weight="normal"  >5dBm</text>
<rect x="324.5" y="53.7" width="32.2" height="14" fill="#fff" stroke="#000" stroke-width="1.5"/>
<text x="340.60" y="64.50" font-size="10.3" fill="#b0108c" color="#b0108c" text-anchor="middle" font-weight="normal"  style="stroke-width:0.45px">QD 1</text>
<rect x="325.5" y="207.5" width="32.2" height="14" fill="#fff" stroke="#000" stroke-width="1.5"/>
<text x="341.60" y="218.30" font-size="10.3" fill="#f2a000" color="#f2a000" text-anchor="middle" font-weight="normal"  style="stroke-width:0.45px">QD 2</text>
<text transform="translate(236 34.5) rotate(-90)" font-size="10" text-anchor="middle"><tspan font-style="italic">E</tspan> (eV)</text>
<text transform="translate(236 84.3) rotate(-90)" font-size="10" text-anchor="middle">Δ<tspan font-style="italic">E</tspan> (meV)</text>
<text transform="translate(240 134) rotate(-90)" font-size="10" text-anchor="middle"><tspan font-style="italic">P</tspan><tspan font-size="7" dy="2">reflected</tspan></text>
<text transform="translate(256 134) rotate(-90)" font-size="10" text-anchor="middle">(dB)</text>
<text transform="translate(236 188) rotate(-90)" font-size="10" text-anchor="middle"><tspan font-style="italic">E</tspan> (eV)</text>
<text transform="translate(236 237) rotate(-90)" font-size="10" text-anchor="middle">Δ<tspan font-style="italic">E</tspan> (meV)</text>
<text transform="translate(240 285) rotate(-90)" font-size="10" text-anchor="middle"><tspan font-style="italic">P</tspan><tspan font-size="7" dy="2">reflected</tspan></text>
<text transform="translate(256 285) rotate(-90)" font-size="10" text-anchor="middle">(dB)</text>
<text x="429.00" y="19.50" font-size="10" fill="#000" color="#000" text-anchor="start" font-weight="bold"  >(e)</text>
<text x="483.20" y="19.50" font-size="10" fill="#000" color="#000" text-anchor="middle" font-weight="normal"  >mode <tspan font-style="italic">n</tspan></text>
<text x="481.30" y="42.00" font-size="10" fill="#000" color="#000" text-anchor="middle" font-weight="normal"  >2</text>
<text x="481.30" y="72.30" font-size="10" fill="#000" color="#000" text-anchor="middle" font-weight="normal"  >3</text>
<text x="481.30" y="103.60" font-size="10" fill="#000" color="#000" text-anchor="middle" font-weight="normal"  >4</text>
<path d="M503.30,50.31 L503.81,49.60 L504.33,48.90 L504.84,48.20 L505.36,47.49 L505.87,46.79 L506.39,46.08 L506.90,45.38 L507.42,44.68 L507.93,43.97 L508.44,43.27 L508.96,42.56 L509.47,41.86 L509.99,41.15 L510.50,40.45 L511.02,39.75 L511.53,39.04 L512.04,38.34 L512.56,37.50 L513.07,36.79 L513.59,36.09 L514.10,35.40 L514.62,34.71 L515.13,34.03 L515.64,33.37 L516.16,32.71 L516.67,32.07 L517.19,31.45 L517.70,30.85 L518.22,30.27 L518.73,29.71 L519.25,29.18 L519.76,28.67 L520.27,28.19 L520.79,27.74 L521.30,27.32 L521.82,26.92 L522.33,26.57 L522.85,26.24 L523.36,25.95 L523.88,25.70 L524.39,25.48 L524.90,25.30 L525.42,25.15 L525.93,25.05 L526.45,24.98 L526.96,24.95 L527.48,24.96 L527.99,25.01 L528.50,25.09 L529.02,25.22 L529.53,25.38 L530.05,25.58 L530.56,25.81 L531.08,26.08 L531.59,26.39 L532.11,26.73 L532.62,27.10 L533.13,27.51 L533.65,27.94 L534.16,28.41 L534.68,28.90 L535.19,29.42 L535.71,29.97 L536.22,30.54 L536.73,31.13 L537.25,31.74 L537.76,32.37 L538.28,33.01 L538.79,33.67 L539.31,34.34 L539.82,35.03 L540.34,35.72 L540.85,36.41 L541.36,37.12 L541.88,37.82 L542.39,38.52 L542.91,39.23 L543.42,39.92 L543.94,40.62 L544.45,41.30 L544.96,41.97 L545.48,42.63 L545.99,43.28 L546.51,43.91 L547.02,44.52 L547.54,45.11 L548.05,45.69 L548.57,46.23 L549.08,46.76 L549.59,47.25 L550.11,47.72 L550.62,48.16 L551.14,48.57 L551.65,48.94 L552.17,49.28 L552.68,49.59 L553.19,49.87 L553.71,50.11 L554.22,50.31 L554.74,50.47 L555.25,50.60 L555.77,50.69 L556.28,50.74 L556.80,50.75 L557.31,50.72 L557.82,50.66 L558.34,50.56 L558.85,50.41 L559.37,50.24 L559.88,50.02 L560.40,49.77 L560.91,49.48 L561.42,49.16 L561.94,48.81 L562.45,48.42 L562.97,48.00 L563.48,47.55 L564.00,47.07 L564.51,46.57 L565.02,46.03 L565.54,45.48 L566.05,44.90 L566.57,44.30 L567.08,43.68 L567.60,43.04 L568.11,42.39 L568.63,41.72 L569.14,41.05 L569.65,40.36 L570.17,39.67 L570.68,38.97 L571.20,38.26 L571.71,37.56 L572.23,36.86 L572.74,36.16 L573.25,35.46 L573.77,34.77 L574.28,34.09 L574.80,33.43 L575.31,32.77 L575.83,32.13 L576.34,31.51 L576.86,30.91 L577.37,30.32 L577.88,29.76 L578.40,29.23 L578.91,28.72 L579.43,28.23 L579.94,27.78 L580.46,27.35 L580.97,26.96 L581.49,26.60 L582.00,26.27 L582.51,25.98 L583.03,25.72 L583.54,25.50 L584.06,25.31 L584.57,25.17 L585.09,25.06 L585.60,24.99" fill="none" stroke="#1a1a1a" stroke-width="1.5" />
<path d="M503.30,25.39 L503.81,26.10 L504.33,26.80 L504.84,27.50 L505.36,28.21 L505.87,28.91 L506.39,29.62 L506.90,30.32 L507.42,31.02 L507.93,31.73 L508.44,32.43 L508.96,33.14 L509.47,33.84 L509.99,34.55 L510.50,35.25 L511.02,35.95 L511.53,36.66 L512.04,37.36 L512.56,38.20 L513.07,38.91 L513.59,39.61 L514.10,40.30 L514.62,40.99 L515.13,41.67 L515.64,42.33 L516.16,42.99 L516.67,43.63 L517.19,44.25 L517.70,44.85 L518.22,45.43 L518.73,45.99 L519.25,46.52 L519.76,47.03 L520.27,47.51 L520.79,47.96 L521.30,48.38 L521.82,48.78 L522.33,49.13 L522.85,49.46 L523.36,49.75 L523.88,50.00 L524.39,50.22 L524.90,50.40 L525.42,50.55 L525.93,50.65 L526.45,50.72 L526.96,50.75 L527.48,50.74 L527.99,50.69 L528.50,50.61 L529.02,50.48 L529.53,50.32 L530.05,50.12 L530.56,49.89 L531.08,49.62 L531.59,49.31 L532.11,48.97 L532.62,48.60 L533.13,48.19 L533.65,47.76 L534.16,47.29 L534.68,46.80 L535.19,46.28 L535.71,45.73 L536.22,45.16 L536.73,44.57 L537.25,43.96 L537.76,43.33 L538.28,42.69 L538.79,42.03 L539.31,41.36 L539.82,40.67 L540.34,39.98 L540.85,39.29 L541.36,38.58 L541.88,37.88 L542.39,37.18 L542.91,36.47 L543.42,35.78 L543.94,35.08 L544.45,34.40 L544.96,33.73 L545.48,33.07 L545.99,32.42 L546.51,31.79 L547.02,31.18 L547.54,30.59 L548.05,30.01 L548.57,29.47 L549.08,28.94 L549.59,28.45 L550.11,27.98 L550.62,27.54 L551.14,27.13 L551.65,26.76 L552.17,26.42 L552.68,26.11 L553.19,25.83 L553.71,25.59 L554.22,25.39 L554.74,25.23 L555.25,25.10 L555.77,25.01 L556.28,24.96 L556.80,24.95 L557.31,24.98 L557.82,25.04 L558.34,25.14 L558.85,25.29 L559.37,25.46 L559.88,25.68 L560.40,25.93 L560.91,26.22 L561.42,26.54 L561.94,26.89 L562.45,27.28 L562.97,27.70 L563.48,28.15 L564.00,28.63 L564.51,29.13 L565.02,29.67 L565.54,30.22 L566.05,30.80 L566.57,31.40 L567.08,32.02 L567.60,32.66 L568.11,33.31 L568.63,33.98 L569.14,34.65 L569.65,35.34 L570.17,36.03 L570.68,36.73 L571.20,37.44 L571.71,38.14 L572.23,38.84 L572.74,39.54 L573.25,40.24 L573.77,40.93 L574.28,41.61 L574.80,42.27 L575.31,42.93 L575.83,43.57 L576.34,44.19 L576.86,44.79 L577.37,45.38 L577.88,45.94 L578.40,46.47 L578.91,46.98 L579.43,47.47 L579.94,47.92 L580.46,48.35 L580.97,48.74 L581.49,49.10 L582.00,49.43 L582.51,49.72 L583.03,49.98 L583.54,50.20 L584.06,50.39 L584.57,50.53 L585.09,50.64 L585.60,50.71" fill="none" stroke="#1a1a1a" stroke-width="1.5" />
<path d="M498.80,68.88 L499.34,68.13 L499.89,67.38 L500.43,66.64 L500.98,65.90 L501.52,65.17 L502.07,64.46 L502.61,63.76 L503.16,63.07 L503.70,62.41 L504.24,61.77 L504.79,61.15 L505.33,60.56 L505.88,59.99 L506.42,59.45 L506.97,58.95 L507.51,58.48 L508.05,58.05 L508.60,57.65 L509.14,57.29 L509.69,56.97 L510.23,56.69 L510.78,56.45 L511.32,56.25 L511.87,56.10 L512.41,55.99 L512.95,55.92 L513.50,55.90 L514.04,55.92 L514.59,55.99 L515.13,56.10 L515.68,56.25 L516.22,56.45 L516.76,56.69 L517.31,56.97 L517.85,57.29 L518.40,57.65 L518.94,58.04 L519.49,58.48 L520.03,58.95 L520.58,59.45 L521.12,59.99 L521.66,60.55 L522.21,61.14 L522.75,61.76 L523.30,62.41 L523.84,63.07 L524.39,63.75 L524.93,64.45 L525.47,65.17 L526.02,65.90 L526.56,66.63 L527.11,67.37 L527.65,68.12 L528.20,68.87 L528.74,69.62 L529.28,70.36 L529.83,71.10 L530.37,71.83 L530.92,72.55 L531.46,73.25 L532.01,73.94 L532.55,74.61 L533.10,75.26 L533.64,75.89 L534.18,76.49 L534.73,77.06 L535.27,77.60 L535.82,78.12 L536.36,78.59 L536.91,79.04 L537.45,79.45 L538.00,79.82 L538.54,80.15 L539.08,80.44 L539.63,80.69 L540.17,80.90 L540.72,81.06 L541.26,81.19 L541.81,81.26 L542.35,81.30 L542.89,81.29 L543.44,81.23 L543.98,81.14 L544.53,80.99 L545.07,80.81 L545.62,80.58 L546.16,80.31 L546.71,80.00 L547.25,79.66 L547.79,79.27 L548.34,78.84 L548.88,78.38 L549.43,77.89 L549.97,77.36 L550.52,76.81 L551.06,76.22 L551.60,75.61 L552.15,74.97 L552.69,74.31 L553.24,73.63 L553.78,72.94 L554.33,72.23 L554.87,71.50 L555.41,70.77 L555.96,70.03 L556.50,69.28 L557.05,68.53 L557.59,67.79 L558.14,67.04 L558.68,66.30 L559.23,65.57 L559.77,64.85 L560.31,64.14 L560.86,63.44 L561.40,62.77 L561.95,62.11 L562.49,61.48 L563.04,60.87 L563.58,60.29 L564.12,59.74 L564.67,59.22 L565.21,58.73 L565.76,58.28 L566.30,57.86 L566.85,57.48 L567.39,57.14 L567.94,56.84 L568.48,56.57 L569.02,56.35 L569.57,56.18 L570.11,56.04 L570.66,55.95 L571.20,55.91 L571.75,55.90 L572.29,55.95 L572.84,56.03 L573.38,56.16 L573.92,56.34 L574.47,56.55 L575.01,56.81 L575.56,57.11 L576.10,57.45 L576.65,57.82 L577.19,58.24 L577.73,58.69 L578.28,59.17 L578.82,59.69 L579.37,60.24 L579.91,60.82 L580.46,61.42 L581.00,62.05 L581.54,62.71 L582.09,63.38 L582.63,64.07 L583.18,64.78 L583.72,65.50 L584.27,66.23 L584.81,66.97 L585.36,67.71 L585.90,68.46" fill="none" stroke="#1a1a1a" stroke-width="1.5" />
<path d="M498.80,68.32 L499.34,69.07 L499.89,69.82 L500.43,70.56 L500.98,71.30 L501.52,72.03 L502.07,72.74 L502.61,73.44 L503.16,74.13 L503.70,74.79 L504.24,75.43 L504.79,76.05 L505.33,76.64 L505.88,77.21 L506.42,77.75 L506.97,78.25 L507.51,78.72 L508.05,79.15 L508.60,79.55 L509.14,79.91 L509.69,80.23 L510.23,80.51 L510.78,80.75 L511.32,80.95 L511.87,81.10 L512.41,81.21 L512.95,81.28 L513.50,81.30 L514.04,81.28 L514.59,81.21 L515.13,81.10 L515.68,80.95 L516.22,80.75 L516.76,80.51 L517.31,80.23 L517.85,79.91 L518.40,79.55 L518.94,79.16 L519.49,78.72 L520.03,78.25 L520.58,77.75 L521.12,77.21 L521.66,76.65 L522.21,76.06 L522.75,75.44 L523.30,74.79 L523.84,74.13 L524.39,73.45 L524.93,72.75 L525.47,72.03 L526.02,71.30 L526.56,70.57 L527.11,69.83 L527.65,69.08 L528.20,68.33 L528.74,67.58 L529.28,66.84 L529.83,66.10 L530.37,65.37 L530.92,64.65 L531.46,63.95 L532.01,63.26 L532.55,62.59 L533.10,61.94 L533.64,61.31 L534.18,60.71 L534.73,60.14 L535.27,59.60 L535.82,59.08 L536.36,58.61 L536.91,58.16 L537.45,57.75 L538.00,57.38 L538.54,57.05 L539.08,56.76 L539.63,56.51 L540.17,56.30 L540.72,56.14 L541.26,56.01 L541.81,55.94 L542.35,55.90 L542.89,55.91 L543.44,55.97 L543.98,56.06 L544.53,56.21 L545.07,56.39 L545.62,56.62 L546.16,56.89 L546.71,57.20 L547.25,57.54 L547.79,57.93 L548.34,58.36 L548.88,58.82 L549.43,59.31 L549.97,59.84 L550.52,60.39 L551.06,60.98 L551.60,61.59 L552.15,62.23 L552.69,62.89 L553.24,63.57 L553.78,64.26 L554.33,64.97 L554.87,65.70 L555.41,66.43 L555.96,67.17 L556.50,67.92 L557.05,68.67 L557.59,69.41 L558.14,70.16 L558.68,70.90 L559.23,71.63 L559.77,72.35 L560.31,73.06 L560.86,73.76 L561.40,74.43 L561.95,75.09 L562.49,75.72 L563.04,76.33 L563.58,76.91 L564.12,77.46 L564.67,77.98 L565.21,78.47 L565.76,78.92 L566.30,79.34 L566.85,79.72 L567.39,80.06 L567.94,80.36 L568.48,80.63 L569.02,80.85 L569.57,81.02 L570.11,81.16 L570.66,81.25 L571.20,81.29 L571.75,81.30 L572.29,81.25 L572.84,81.17 L573.38,81.04 L573.92,80.86 L574.47,80.65 L575.01,80.39 L575.56,80.09 L576.10,79.75 L576.65,79.38 L577.19,78.96 L577.73,78.51 L578.28,78.03 L578.82,77.51 L579.37,76.96 L579.91,76.38 L580.46,75.78 L581.00,75.15 L581.54,74.49 L582.09,73.82 L582.63,73.13 L583.18,72.42 L583.72,71.70 L584.27,70.97 L584.81,70.23 L585.36,69.49 L585.90,68.74" fill="none" stroke="#1a1a1a" stroke-width="1.5" />
<path d="M503.10,112.82 L503.62,112.10 L504.14,111.37 L504.65,110.64 L505.17,109.91 L505.69,109.19 L506.21,108.46 L506.72,107.73 L507.24,107.00 L507.76,106.28 L508.28,105.55 L508.79,104.82 L509.31,104.09 L509.83,103.37 L510.35,102.64 L510.86,101.91 L511.38,101.18 L511.90,100.46 L512.41,99.80 L512.93,99.07 L513.45,98.35 L513.97,97.63 L514.49,96.91 L515.00,96.21 L515.52,95.51 L516.04,94.83 L516.56,94.16 L517.07,93.51 L517.59,92.88 L518.11,92.27 L518.62,91.68 L519.14,91.12 L519.66,90.58 L520.18,90.07 L520.70,89.59 L521.21,89.14 L521.73,88.73 L522.25,88.34 L522.76,88.00 L523.28,87.68 L523.80,87.41 L524.32,87.17 L524.84,86.97 L525.35,86.80 L525.87,86.68 L526.39,86.60 L526.90,86.56 L527.42,86.55 L527.94,86.59 L528.46,86.67 L528.98,86.79 L529.49,86.94 L530.01,87.14 L530.53,87.37 L531.04,87.64 L531.56,87.95 L532.08,88.29 L532.60,88.67 L533.12,89.08 L533.63,89.53 L534.15,90.00 L534.67,90.51 L535.18,91.04 L535.70,91.60 L536.22,92.19 L536.74,92.79 L537.25,93.42 L537.77,94.07 L538.29,94.73 L538.81,95.41 L539.33,96.11 L539.84,96.81 L540.36,97.53 L540.88,98.25 L541.39,98.97 L541.91,99.70 L542.43,100.42 L542.95,101.15 L543.47,101.87 L543.98,102.58 L544.50,103.29 L545.02,103.99 L545.53,104.67 L546.05,105.34 L546.57,105.99 L547.09,106.62 L547.61,107.23 L548.12,107.82 L548.64,108.38 L549.16,108.92 L549.67,109.43 L550.19,109.91 L550.71,110.35 L551.23,110.77 L551.75,111.15 L552.26,111.50 L552.78,111.82 L553.30,112.09 L553.82,112.33 L554.33,112.53 L554.85,112.69 L555.37,112.82 L555.88,112.90 L556.40,112.94 L556.92,112.95 L557.44,112.91 L557.96,112.83 L558.47,112.72 L558.99,112.56 L559.51,112.36 L560.02,112.13 L560.54,111.86 L561.06,111.55 L561.58,111.21 L562.10,110.83 L562.61,110.42 L563.13,109.97 L563.65,109.50 L564.16,108.99 L564.68,108.46 L565.20,107.90 L565.72,107.32 L566.24,106.71 L566.75,106.08 L567.27,105.43 L567.79,104.77 L568.30,104.09 L568.82,103.40 L569.34,102.69 L569.86,101.98 L570.38,101.26 L570.89,100.53 L571.41,99.81 L571.93,99.08 L572.44,98.35 L572.96,97.63 L573.48,96.92 L574.00,96.21 L574.51,95.52 L575.03,94.84 L575.55,94.17 L576.07,93.52 L576.59,92.89 L577.10,92.28 L577.62,91.69 L578.14,91.12 L578.65,90.59 L579.17,90.08 L579.69,89.60 L580.21,89.15 L580.73,88.73 L581.24,88.35 L581.76,88.00 L582.28,87.69 L582.79,87.41 L583.31,87.17 L583.83,86.97 L584.35,86.81 L584.87,86.68 L585.38,86.60 L585.90,86.56" fill="none" stroke="#1a1a1a" stroke-width="1.5" />
<path d="M503.10,86.68 L503.62,87.40 L504.14,88.13 L504.65,88.86 L505.17,89.59 L505.69,90.31 L506.21,91.04 L506.72,91.77 L507.24,92.50 L507.76,93.22 L508.28,93.95 L508.79,94.68 L509.31,95.41 L509.83,96.13 L510.35,96.86 L510.86,97.59 L511.38,98.32 L511.90,99.04 L512.41,99.70 L512.93,100.43 L513.45,101.15 L513.97,101.87 L514.49,102.59 L515.00,103.29 L515.52,103.99 L516.04,104.67 L516.56,105.34 L517.07,105.99 L517.59,106.62 L518.11,107.23 L518.62,107.82 L519.14,108.38 L519.66,108.92 L520.18,109.43 L520.70,109.91 L521.21,110.36 L521.73,110.77 L522.25,111.16 L522.76,111.50 L523.28,111.82 L523.80,112.09 L524.32,112.33 L524.84,112.53 L525.35,112.70 L525.87,112.82 L526.39,112.90 L526.90,112.94 L527.42,112.95 L527.94,112.91 L528.46,112.83 L528.98,112.71 L529.49,112.56 L530.01,112.36 L530.53,112.13 L531.04,111.86 L531.56,111.55 L532.08,111.21 L532.60,110.83 L533.12,110.42 L533.63,109.97 L534.15,109.50 L534.67,108.99 L535.18,108.46 L535.70,107.90 L536.22,107.31 L536.74,106.71 L537.25,106.08 L537.77,105.43 L538.29,104.77 L538.81,104.09 L539.33,103.39 L539.84,102.69 L540.36,101.97 L540.88,101.25 L541.39,100.53 L541.91,99.80 L542.43,99.08 L542.95,98.35 L543.47,97.63 L543.98,96.92 L544.50,96.21 L545.02,95.51 L545.53,94.83 L546.05,94.16 L546.57,93.51 L547.09,92.88 L547.61,92.27 L548.12,91.68 L548.64,91.12 L549.16,90.58 L549.67,90.07 L550.19,89.59 L550.71,89.15 L551.23,88.73 L551.75,88.35 L552.26,88.00 L552.78,87.68 L553.30,87.41 L553.82,87.17 L554.33,86.97 L554.85,86.81 L555.37,86.68 L555.88,86.60 L556.40,86.56 L556.92,86.55 L557.44,86.59 L557.96,86.67 L558.47,86.78 L558.99,86.94 L559.51,87.14 L560.02,87.37 L560.54,87.64 L561.06,87.95 L561.58,88.29 L562.10,88.67 L562.61,89.08 L563.13,89.53 L563.65,90.00 L564.16,90.51 L564.68,91.04 L565.20,91.60 L565.72,92.18 L566.24,92.79 L566.75,93.42 L567.27,94.07 L567.79,94.73 L568.30,95.41 L568.82,96.10 L569.34,96.81 L569.86,97.52 L570.38,98.24 L570.89,98.97 L571.41,99.69 L571.93,100.42 L572.44,101.15 L572.96,101.87 L573.48,102.58 L574.00,103.29 L574.51,103.98 L575.03,104.66 L575.55,105.33 L576.07,105.98 L576.59,106.61 L577.10,107.22 L577.62,107.81 L578.14,108.38 L578.65,108.91 L579.17,109.42 L579.69,109.90 L580.21,110.35 L580.73,110.77 L581.24,111.15 L581.76,111.50 L582.28,111.81 L582.79,112.09 L583.31,112.33 L583.83,112.53 L584.35,112.69 L584.87,112.82 L585.38,112.90 L585.90,112.94" fill="none" stroke="#1a1a1a" stroke-width="1.5" />
<line x1="527.30" y1="22.00" x2="527.30" y2="120.60" stroke="#b5158f" stroke-width="1.8" />
<line x1="571.30" y1="22.00" x2="571.30" y2="120.60" stroke="#f5a300" stroke-width="1.8" />
<text x="527.30" y="20.00" font-size="10" fill="#b5158f" color="#b5158f" text-anchor="middle" font-weight="normal"  >QD 1</text>
<text x="570.80" y="20.00" font-size="10" fill="#f5a623" color="#f5a623" text-anchor="middle" font-weight="normal"  >QD 2</text>
<text x="428.50" y="133.50" font-size="10" fill="#000" color="#000" text-anchor="start" font-weight="bold"  >(f)</text>
<line x1="489.85" y1="134.60" x2="489.85" y2="222.00" stroke="#cfcfcf" stroke-width="0.6" stroke-dasharray="1.5 1.2"/>
<line x1="502.22" y1="134.60" x2="502.22" y2="222.00" stroke="#cfcfcf" stroke-width="0.6" stroke-dasharray="1.5 1.2"/>
<line x1="510.99" y1="134.60" x2="510.99" y2="222.00" stroke="#cfcfcf" stroke-width="0.6" stroke-dasharray="1.5 1.2"/>
<line x1="517.80" y1="134.60" x2="517.80" y2="222.00" stroke="#cfcfcf" stroke-width="0.6" stroke-dasharray="1.5 1.2"/>
<line x1="523.37" y1="134.60" x2="523.37" y2="222.00" stroke="#cfcfcf" stroke-width="0.6" stroke-dasharray="1.5 1.2"/>
<line x1="528.07" y1="134.60" x2="528.07" y2="222.00" stroke="#cfcfcf" stroke-width="0.6" stroke-dasharray="1.5 1.2"/>
<line x1="532.14" y1="134.60" x2="532.14" y2="222.00" stroke="#cfcfcf" stroke-width="0.6" stroke-dasharray="1.5 1.2"/>
<line x1="535.74" y1="134.60" x2="535.74" y2="222.00" stroke="#cfcfcf" stroke-width="0.6" stroke-dasharray="1.5 1.2"/>
<line x1="560.10" y1="134.60" x2="560.10" y2="222.00" stroke="#cfcfcf" stroke-width="0.6" stroke-dasharray="1.5 1.2"/>
<line x1="572.47" y1="134.60" x2="572.47" y2="222.00" stroke="#cfcfcf" stroke-width="0.6" stroke-dasharray="1.5 1.2"/>
<line x1="581.24" y1="134.60" x2="581.24" y2="222.00" stroke="#cfcfcf" stroke-width="0.6" stroke-dasharray="1.5 1.2"/>
<line x1="588.05" y1="134.60" x2="588.05" y2="222.00" stroke="#cfcfcf" stroke-width="0.6" stroke-dasharray="1.5 1.2"/>
<line x1="593.62" y1="134.60" x2="593.62" y2="222.00" stroke="#cfcfcf" stroke-width="0.6" stroke-dasharray="1.5 1.2"/>
<line x1="598.32" y1="134.60" x2="598.32" y2="222.00" stroke="#cfcfcf" stroke-width="0.6" stroke-dasharray="1.5 1.2"/>
<line x1="602.39" y1="134.60" x2="602.39" y2="222.00" stroke="#cfcfcf" stroke-width="0.6" stroke-dasharray="1.5 1.2"/>
<line x1="605.99" y1="134.60" x2="605.99" y2="222.00" stroke="#cfcfcf" stroke-width="0.6" stroke-dasharray="1.5 1.2"/>
<line x1="468.70" y1="215.49" x2="609.20" y2="215.49" stroke="#d4d4d4" stroke-width="0.6" stroke-dasharray="1.5 1.2"/>
<line x1="468.70" y1="210.17" x2="609.20" y2="210.17" stroke="#d4d4d4" stroke-width="0.6" stroke-dasharray="1.5 1.2"/>
<line x1="468.70" y1="205.67" x2="609.20" y2="205.67" stroke="#d4d4d4" stroke-width="0.6" stroke-dasharray="1.5 1.2"/>
<line x1="468.70" y1="201.78" x2="609.20" y2="201.78" stroke="#d4d4d4" stroke-width="0.6" stroke-dasharray="1.5 1.2"/>
<line x1="468.70" y1="198.34" x2="609.20" y2="198.34" stroke="#d4d4d4" stroke-width="0.6" stroke-dasharray="1.5 1.2"/>
<line x1="468.70" y1="189.95" x2="609.20" y2="189.95" stroke="#d4d4d4" stroke-width="0.6" stroke-dasharray="1.5 1.2"/>
<line x1="468.70" y1="185.45" x2="609.20" y2="185.45" stroke="#d4d4d4" stroke-width="0.6" stroke-dasharray="1.5 1.2"/>
<line x1="468.70" y1="181.56" x2="609.20" y2="181.56" stroke="#d4d4d4" stroke-width="0.6" stroke-dasharray="1.5 1.2"/>
<line x1="468.70" y1="178.12" x2="609.20" y2="178.12" stroke="#d4d4d4" stroke-width="0.6" stroke-dasharray="1.5 1.2"/>
<line x1="468.70" y1="169.73" x2="609.20" y2="169.73" stroke="#d4d4d4" stroke-width="0.6" stroke-dasharray="1.5 1.2"/>
<line x1="468.70" y1="165.23" x2="609.20" y2="165.23" stroke="#d4d4d4" stroke-width="0.6" stroke-dasharray="1.5 1.2"/>
<line x1="468.70" y1="161.33" x2="609.20" y2="161.33" stroke="#d4d4d4" stroke-width="0.6" stroke-dasharray="1.5 1.2"/>
<line x1="468.70" y1="157.90" x2="609.20" y2="157.90" stroke="#d4d4d4" stroke-width="0.6" stroke-dasharray="1.5 1.2"/>
<line x1="468.70" y1="148.31" x2="609.20" y2="148.31" stroke="#d4d4d4" stroke-width="0.6" stroke-dasharray="1.5 1.2"/>
<line x1="468.70" y1="142.99" x2="609.20" y2="142.99" stroke="#d4d4d4" stroke-width="0.6" stroke-dasharray="1.5 1.2"/>
<line x1="468.70" y1="138.50" x2="609.20" y2="138.50" stroke="#d4d4d4" stroke-width="0.6" stroke-dasharray="1.5 1.2"/>
<line x1="468.70" y1="195.27" x2="609.20" y2="195.27" stroke="#a8a8a8" stroke-width="0.9" />
<line x1="468.70" y1="175.04" x2="609.20" y2="175.04" stroke="#a8a8a8" stroke-width="0.9" />
<line x1="468.70" y1="154.82" x2="609.20" y2="154.82" stroke="#a8a8a8" stroke-width="0.9" />
<line x1="538.95" y1="134.60" x2="538.95" y2="222.00" stroke="#a8a8a8" stroke-width="0.9" />
<line x1="468.70" y1="222.00" x2="474.70" y2="222.00" stroke="#000" stroke-width="1.3" />
<line x1="609.20" y1="222.00" x2="603.20" y2="222.00" stroke="#000" stroke-width="1.3" />
<line x1="468.70" y1="215.49" x2="472.50" y2="215.49" stroke="#000" stroke-width="1.0" />
<line x1="609.20" y1="215.49" x2="605.40" y2="215.49" stroke="#000" stroke-width="1.0" />
<line x1="468.70" y1="210.17" x2="472.50" y2="210.17" stroke="#000" stroke-width="1.0" />
<line x1="609.20" y1="210.17" x2="605.40" y2="210.17" stroke="#000" stroke-width="1.0" />
<line x1="468.70" y1="205.67" x2="472.50" y2="205.67" stroke="#000" stroke-width="1.0" />
<line x1="609.20" y1="205.67" x2="605.40" y2="205.67" stroke="#000" stroke-width="1.0" />
<line x1="468.70" y1="201.78" x2="472.50" y2="201.78" stroke="#000" stroke-width="1.0" />
<line x1="609.20" y1="201.78" x2="605.40" y2="201.78" stroke="#000" stroke-width="1.0" />
<line x1="468.70" y1="198.34" x2="472.50" y2="198.34" stroke="#000" stroke-width="1.0" />
<line x1="609.20" y1="198.34" x2="605.40" y2="198.34" stroke="#000" stroke-width="1.0" />
<line x1="468.70" y1="195.27" x2="474.70" y2="195.27" stroke="#000" stroke-width="1.3" />
<line x1="609.20" y1="195.27" x2="603.20" y2="195.27" stroke="#000" stroke-width="1.3" />
<line x1="468.70" y1="192.49" x2="472.50" y2="192.49" stroke="#000" stroke-width="1.0" />
<line x1="609.20" y1="192.49" x2="605.40" y2="192.49" stroke="#000" stroke-width="1.0" />
<line x1="468.70" y1="189.95" x2="472.50" y2="189.95" stroke="#000" stroke-width="1.0" />
<line x1="609.20" y1="189.95" x2="605.40" y2="189.95" stroke="#000" stroke-width="1.0" />
<line x1="468.70" y1="187.61" x2="472.50" y2="187.61" stroke="#000" stroke-width="1.0" />
<line x1="609.20" y1="187.61" x2="605.40" y2="187.61" stroke="#000" stroke-width="1.0" />
<line x1="468.70" y1="185.45" x2="472.50" y2="185.45" stroke="#000" stroke-width="1.0" />
<line x1="609.20" y1="185.45" x2="605.40" y2="185.45" stroke="#000" stroke-width="1.0" />
<line x1="468.70" y1="183.44" x2="472.50" y2="183.44" stroke="#000" stroke-width="1.0" />
<line x1="609.20" y1="183.44" x2="605.40" y2="183.44" stroke="#000" stroke-width="1.0" />
<line x1="468.70" y1="181.56" x2="472.50" y2="181.56" stroke="#000" stroke-width="1.0" />
<line x1="609.20" y1="181.56" x2="605.40" y2="181.56" stroke="#000" stroke-width="1.0" />
<line x1="468.70" y1="179.79" x2="472.50" y2="179.79" stroke="#000" stroke-width="1.0" />
<line x1="609.20" y1="179.79" x2="605.40" y2="179.79" stroke="#000" stroke-width="1.0" />
<line x1="468.70" y1="178.12" x2="472.50" y2="178.12" stroke="#000" stroke-width="1.0" />
<line x1="609.20" y1="178.12" x2="605.40" y2="178.12" stroke="#000" stroke-width="1.0" />
<line x1="468.70" y1="176.54" x2="472.50" y2="176.54" stroke="#000" stroke-width="1.0" />
<line x1="609.20" y1="176.54" x2="605.40" y2="176.54" stroke="#000" stroke-width="1.0" />
<line x1="468.70" y1="175.04" x2="474.70" y2="175.04" stroke="#000" stroke-width="1.3" />
<line x1="609.20" y1="175.04" x2="603.20" y2="175.04" stroke="#000" stroke-width="1.3" />
<line x1="468.70" y1="172.26" x2="472.50" y2="172.26" stroke="#000" stroke-width="1.0" />
<line x1="609.20" y1="172.26" x2="605.40" y2="172.26" stroke="#000" stroke-width="1.0" />
<line x1="468.70" y1="169.73" x2="472.50" y2="169.73" stroke="#000" stroke-width="1.0" />
<line x1="609.20" y1="169.73" x2="605.40" y2="169.73" stroke="#000" stroke-width="1.0" />
<line x1="468.70" y1="167.39" x2="472.50" y2="167.39" stroke="#000" stroke-width="1.0" />
<line x1="609.20" y1="167.39" x2="605.40" y2="167.39" stroke="#000" stroke-width="1.0" />
<line x1="468.70" y1="165.23" x2="472.50" y2="165.23" stroke="#000" stroke-width="1.0" />
<line x1="609.20" y1="165.23" x2="605.40" y2="165.23" stroke="#000" stroke-width="1.0" />
<line x1="468.70" y1="163.22" x2="472.50" y2="163.22" stroke="#000" stroke-width="1.0" />
<line x1="609.20" y1="163.22" x2="605.40" y2="163.22" stroke="#000" stroke-width="1.0" />
<line x1="468.70" y1="161.33" x2="472.50" y2="161.33" stroke="#000" stroke-width="1.0" />
<line x1="609.20" y1="161.33" x2="605.40" y2="161.33" stroke="#000" stroke-width="1.0" />
<line x1="468.70" y1="159.56" x2="472.50" y2="159.56" stroke="#000" stroke-width="1.0" />
<line x1="609.20" y1="159.56" x2="605.40" y2="159.56" stroke="#000" stroke-width="1.0" />
<line x1="468.70" y1="157.90" x2="472.50" y2="157.90" stroke="#000" stroke-width="1.0" />
<line x1="609.20" y1="157.90" x2="605.40" y2="157.90" stroke="#000" stroke-width="1.0" />
<line x1="468.70" y1="156.32" x2="472.50" y2="156.32" stroke="#000" stroke-width="1.0" />
<line x1="609.20" y1="156.32" x2="605.40" y2="156.32" stroke="#000" stroke-width="1.0" />
<line x1="468.70" y1="154.82" x2="474.70" y2="154.82" stroke="#000" stroke-width="1.3" />
<line x1="609.20" y1="154.82" x2="603.20" y2="154.82" stroke="#000" stroke-width="1.3" />
<line x1="468.70" y1="153.40" x2="472.50" y2="153.40" stroke="#000" stroke-width="1.0" />
<line x1="609.20" y1="153.40" x2="605.40" y2="153.40" stroke="#000" stroke-width="1.0" />
<line x1="468.70" y1="152.04" x2="472.50" y2="152.04" stroke="#000" stroke-width="1.0" />
<line x1="609.20" y1="152.04" x2="605.40" y2="152.04" stroke="#000" stroke-width="1.0" />
<line x1="468.70" y1="150.74" x2="472.50" y2="150.74" stroke="#000" stroke-width="1.0" />
<line x1="609.20" y1="150.74" x2="605.40" y2="150.74" stroke="#000" stroke-width="1.0" />
<line x1="468.70" y1="149.50" x2="472.50" y2="149.50" stroke="#000" stroke-width="1.0" />
<line x1="609.20" y1="149.50" x2="605.40" y2="149.50" stroke="#000" stroke-width="1.0" />
<line x1="468.70" y1="148.31" x2="472.50" y2="148.31" stroke="#000" stroke-width="1.0" />
<line x1="609.20" y1="148.31" x2="605.40" y2="148.31" stroke="#000" stroke-width="1.0" />
<line x1="468.70" y1="147.17" x2="472.50" y2="147.17" stroke="#000" stroke-width="1.0" />
<line x1="609.20" y1="147.17" x2="605.40" y2="147.17" stroke="#000" stroke-width="1.0" />
<line x1="468.70" y1="146.07" x2="472.50" y2="146.07" stroke="#000" stroke-width="1.0" />
<line x1="609.20" y1="146.07" x2="605.40" y2="146.07" stroke="#000" stroke-width="1.0" />
<line x1="468.70" y1="145.01" x2="472.50" y2="145.01" stroke="#000" stroke-width="1.0" />
<line x1="609.20" y1="145.01" x2="605.40" y2="145.01" stroke="#000" stroke-width="1.0" />
<line x1="468.70" y1="143.98" x2="472.50" y2="143.98" stroke="#000" stroke-width="1.0" />
<line x1="609.20" y1="143.98" x2="605.40" y2="143.98" stroke="#000" stroke-width="1.0" />
<line x1="468.70" y1="142.99" x2="472.50" y2="142.99" stroke="#000" stroke-width="1.0" />
<line x1="609.20" y1="142.99" x2="605.40" y2="142.99" stroke="#000" stroke-width="1.0" />
<line x1="468.70" y1="142.04" x2="472.50" y2="142.04" stroke="#000" stroke-width="1.0" />
<line x1="609.20" y1="142.04" x2="605.40" y2="142.04" stroke="#000" stroke-width="1.0" />
<line x1="468.70" y1="141.11" x2="472.50" y2="141.11" stroke="#000" stroke-width="1.0" />
<line x1="609.20" y1="141.11" x2="605.40" y2="141.11" stroke="#000" stroke-width="1.0" />
<line x1="468.70" y1="140.21" x2="472.50" y2="140.21" stroke="#000" stroke-width="1.0" />
<line x1="609.20" y1="140.21" x2="605.40" y2="140.21" stroke="#000" stroke-width="1.0" />
<line x1="468.70" y1="139.34" x2="472.50" y2="139.34" stroke="#000" stroke-width="1.0" />
<line x1="609.20" y1="139.34" x2="605.40" y2="139.34" stroke="#000" stroke-width="1.0" />
<line x1="468.70" y1="138.50" x2="472.50" y2="138.50" stroke="#000" stroke-width="1.0" />
<line x1="609.20" y1="138.50" x2="605.40" y2="138.50" stroke="#000" stroke-width="1.0" />
<line x1="468.70" y1="137.67" x2="472.50" y2="137.67" stroke="#000" stroke-width="1.0" />
<line x1="609.20" y1="137.67" x2="605.40" y2="137.67" stroke="#000" stroke-width="1.0" />
<line x1="468.70" y1="136.87" x2="472.50" y2="136.87" stroke="#000" stroke-width="1.0" />
<line x1="609.20" y1="136.87" x2="605.40" y2="136.87" stroke="#000" stroke-width="1.0" />
<line x1="468.70" y1="136.10" x2="472.50" y2="136.10" stroke="#000" stroke-width="1.0" />
<line x1="609.20" y1="136.10" x2="605.40" y2="136.10" stroke="#000" stroke-width="1.0" />
<line x1="468.70" y1="135.34" x2="472.50" y2="135.34" stroke="#000" stroke-width="1.0" />
<line x1="609.20" y1="135.34" x2="605.40" y2="135.34" stroke="#000" stroke-width="1.0" />
<line x1="468.70" y1="134.60" x2="474.70" y2="134.60" stroke="#000" stroke-width="1.3" />
<line x1="609.20" y1="134.60" x2="603.20" y2="134.60" stroke="#000" stroke-width="1.3" />
<line x1="468.70" y1="222.00" x2="468.70" y2="216.00" stroke="#000" stroke-width="1.4" />
<line x1="468.70" y1="134.60" x2="468.70" y2="140.60" stroke="#000" stroke-width="1.4" />
<line x1="489.85" y1="222.00" x2="489.85" y2="218.00" stroke="#000" stroke-width="1.1" />
<line x1="489.85" y1="134.60" x2="489.85" y2="138.60" stroke="#000" stroke-width="1.1" />
<line x1="502.22" y1="222.00" x2="502.22" y2="218.00" stroke="#000" stroke-width="1.1" />
<line x1="502.22" y1="134.60" x2="502.22" y2="138.60" stroke="#000" stroke-width="1.1" />
<line x1="510.99" y1="222.00" x2="510.99" y2="218.00" stroke="#000" stroke-width="1.1" />
<line x1="510.99" y1="134.60" x2="510.99" y2="138.60" stroke="#000" stroke-width="1.1" />
<line x1="517.80" y1="222.00" x2="517.80" y2="218.00" stroke="#000" stroke-width="1.1" />
<line x1="517.80" y1="134.60" x2="517.80" y2="138.60" stroke="#000" stroke-width="1.1" />
<line x1="523.37" y1="222.00" x2="523.37" y2="218.00" stroke="#000" stroke-width="1.1" />
<line x1="523.37" y1="134.60" x2="523.37" y2="138.60" stroke="#000" stroke-width="1.1" />
<line x1="528.07" y1="222.00" x2="528.07" y2="218.00" stroke="#000" stroke-width="1.1" />
<line x1="528.07" y1="134.60" x2="528.07" y2="138.60" stroke="#000" stroke-width="1.1" />
<line x1="532.14" y1="222.00" x2="532.14" y2="218.00" stroke="#000" stroke-width="1.1" />
<line x1="532.14" y1="134.60" x2="532.14" y2="138.60" stroke="#000" stroke-width="1.1" />
<line x1="535.74" y1="222.00" x2="535.74" y2="218.00" stroke="#000" stroke-width="1.1" />
<line x1="535.74" y1="134.60" x2="535.74" y2="138.60" stroke="#000" stroke-width="1.1" />
<line x1="538.95" y1="222.00" x2="538.95" y2="216.00" stroke="#000" stroke-width="1.4" />
<line x1="538.95" y1="134.60" x2="538.95" y2="140.60" stroke="#000" stroke-width="1.4" />
<line x1="560.10" y1="222.00" x2="560.10" y2="218.00" stroke="#000" stroke-width="1.1" />
<line x1="560.10" y1="134.60" x2="560.10" y2="138.60" stroke="#000" stroke-width="1.1" />
<line x1="572.47" y1="222.00" x2="572.47" y2="218.00" stroke="#000" stroke-width="1.1" />
<line x1="572.47" y1="134.60" x2="572.47" y2="138.60" stroke="#000" stroke-width="1.1" />
<line x1="581.24" y1="222.00" x2="581.24" y2="218.00" stroke="#000" stroke-width="1.1" />
<line x1="581.24" y1="134.60" x2="581.24" y2="138.60" stroke="#000" stroke-width="1.1" />
<line x1="588.05" y1="222.00" x2="588.05" y2="218.00" stroke="#000" stroke-width="1.1" />
<line x1="588.05" y1="134.60" x2="588.05" y2="138.60" stroke="#000" stroke-width="1.1" />
<line x1="593.62" y1="222.00" x2="593.62" y2="218.00" stroke="#000" stroke-width="1.1" />
<line x1="593.62" y1="134.60" x2="593.62" y2="138.60" stroke="#000" stroke-width="1.1" />
<line x1="598.32" y1="222.00" x2="598.32" y2="218.00" stroke="#000" stroke-width="1.1" />
<line x1="598.32" y1="134.60" x2="598.32" y2="138.60" stroke="#000" stroke-width="1.1" />
<line x1="602.39" y1="222.00" x2="602.39" y2="218.00" stroke="#000" stroke-width="1.1" />
<line x1="602.39" y1="134.60" x2="602.39" y2="138.60" stroke="#000" stroke-width="1.1" />
<line x1="605.99" y1="222.00" x2="605.99" y2="218.00" stroke="#000" stroke-width="1.1" />
<line x1="605.99" y1="134.60" x2="605.99" y2="138.60" stroke="#000" stroke-width="1.1" />
<line x1="489.85" y1="222.00" x2="489.85" y2="309.90" stroke="#cfcfcf" stroke-width="0.6" stroke-dasharray="1.5 1.2"/>
<line x1="502.22" y1="222.00" x2="502.22" y2="309.90" stroke="#cfcfcf" stroke-width="0.6" stroke-dasharray="1.5 1.2"/>
<line x1="510.99" y1="222.00" x2="510.99" y2="309.90" stroke="#cfcfcf" stroke-width="0.6" stroke-dasharray="1.5 1.2"/>
<line x1="517.80" y1="222.00" x2="517.80" y2="309.90" stroke="#cfcfcf" stroke-width="0.6" stroke-dasharray="1.5 1.2"/>
<line x1="523.37" y1="222.00" x2="523.37" y2="309.90" stroke="#cfcfcf" stroke-width="0.6" stroke-dasharray="1.5 1.2"/>
<line x1="528.07" y1="222.00" x2="528.07" y2="309.90" stroke="#cfcfcf" stroke-width="0.6" stroke-dasharray="1.5 1.2"/>
<line x1="532.14" y1="222.00" x2="532.14" y2="309.90" stroke="#cfcfcf" stroke-width="0.6" stroke-dasharray="1.5 1.2"/>
<line x1="535.74" y1="222.00" x2="535.74" y2="309.90" stroke="#cfcfcf" stroke-width="0.6" stroke-dasharray="1.5 1.2"/>
<line x1="560.10" y1="222.00" x2="560.10" y2="309.90" stroke="#cfcfcf" stroke-width="0.6" stroke-dasharray="1.5 1.2"/>
<line x1="572.47" y1="222.00" x2="572.47" y2="309.90" stroke="#cfcfcf" stroke-width="0.6" stroke-dasharray="1.5 1.2"/>
<line x1="581.24" y1="222.00" x2="581.24" y2="309.90" stroke="#cfcfcf" stroke-width="0.6" stroke-dasharray="1.5 1.2"/>
<line x1="588.05" y1="222.00" x2="588.05" y2="309.90" stroke="#cfcfcf" stroke-width="0.6" stroke-dasharray="1.5 1.2"/>
<line x1="593.62" y1="222.00" x2="593.62" y2="309.90" stroke="#cfcfcf" stroke-width="0.6" stroke-dasharray="1.5 1.2"/>
<line x1="598.32" y1="222.00" x2="598.32" y2="309.90" stroke="#cfcfcf" stroke-width="0.6" stroke-dasharray="1.5 1.2"/>
<line x1="602.39" y1="222.00" x2="602.39" y2="309.90" stroke="#cfcfcf" stroke-width="0.6" stroke-dasharray="1.5 1.2"/>
<line x1="605.99" y1="222.00" x2="605.99" y2="309.90" stroke="#cfcfcf" stroke-width="0.6" stroke-dasharray="1.5 1.2"/>
<line x1="468.70" y1="303.35" x2="609.20" y2="303.35" stroke="#d4d4d4" stroke-width="0.6" stroke-dasharray="1.5 1.2"/>
<line x1="468.70" y1="298.00" x2="609.20" y2="298.00" stroke="#d4d4d4" stroke-width="0.6" stroke-dasharray="1.5 1.2"/>
<line x1="468.70" y1="293.48" x2="609.20" y2="293.48" stroke="#d4d4d4" stroke-width="0.6" stroke-dasharray="1.5 1.2"/>
<line x1="468.70" y1="289.56" x2="609.20" y2="289.56" stroke="#d4d4d4" stroke-width="0.6" stroke-dasharray="1.5 1.2"/>
<line x1="468.70" y1="286.11" x2="609.20" y2="286.11" stroke="#d4d4d4" stroke-width="0.6" stroke-dasharray="1.5 1.2"/>
<line x1="468.70" y1="277.66" x2="609.20" y2="277.66" stroke="#d4d4d4" stroke-width="0.6" stroke-dasharray="1.5 1.2"/>
<line x1="468.70" y1="273.14" x2="609.20" y2="273.14" stroke="#d4d4d4" stroke-width="0.6" stroke-dasharray="1.5 1.2"/>
<line x1="468.70" y1="269.22" x2="609.20" y2="269.22" stroke="#d4d4d4" stroke-width="0.6" stroke-dasharray="1.5 1.2"/>
<line x1="468.70" y1="265.77" x2="609.20" y2="265.77" stroke="#d4d4d4" stroke-width="0.6" stroke-dasharray="1.5 1.2"/>
<line x1="468.70" y1="257.33" x2="609.20" y2="257.33" stroke="#d4d4d4" stroke-width="0.6" stroke-dasharray="1.5 1.2"/>
<line x1="468.70" y1="252.80" x2="609.20" y2="252.80" stroke="#d4d4d4" stroke-width="0.6" stroke-dasharray="1.5 1.2"/>
<line x1="468.70" y1="248.89" x2="609.20" y2="248.89" stroke="#d4d4d4" stroke-width="0.6" stroke-dasharray="1.5 1.2"/>
<line x1="468.70" y1="245.43" x2="609.20" y2="245.43" stroke="#d4d4d4" stroke-width="0.6" stroke-dasharray="1.5 1.2"/>
<line x1="468.70" y1="235.79" x2="609.20" y2="235.79" stroke="#d4d4d4" stroke-width="0.6" stroke-dasharray="1.5 1.2"/>
<line x1="468.70" y1="230.44" x2="609.20" y2="230.44" stroke="#d4d4d4" stroke-width="0.6" stroke-dasharray="1.5 1.2"/>
<line x1="468.70" y1="225.92" x2="609.20" y2="225.92" stroke="#d4d4d4" stroke-width="0.6" stroke-dasharray="1.5 1.2"/>
<line x1="468.70" y1="283.01" x2="609.20" y2="283.01" stroke="#a8a8a8" stroke-width="0.9" />
<line x1="468.70" y1="262.68" x2="609.20" y2="262.68" stroke="#a8a8a8" stroke-width="0.9" />
<line x1="468.70" y1="242.34" x2="609.20" y2="242.34" stroke="#a8a8a8" stroke-width="0.9" />
<line x1="538.95" y1="222.00" x2="538.95" y2="309.90" stroke="#a8a8a8" stroke-width="0.9" />
<line x1="468.70" y1="309.90" x2="474.70" y2="309.90" stroke="#000" stroke-width="1.3" />
<line x1="609.20" y1="309.90" x2="603.20" y2="309.90" stroke="#000" stroke-width="1.3" />
<line x1="468.70" y1="303.35" x2="472.50" y2="303.35" stroke="#000" stroke-width="1.0" />
<line x1="609.20" y1="303.35" x2="605.40" y2="303.35" stroke="#000" stroke-width="1.0" />
<line x1="468.70" y1="298.00" x2="472.50" y2="298.00" stroke="#000" stroke-width="1.0" />
<line x1="609.20" y1="298.00" x2="605.40" y2="298.00" stroke="#000" stroke-width="1.0" />
<line x1="468.70" y1="293.48" x2="472.50" y2="293.48" stroke="#000" stroke-width="1.0" />
<line x1="609.20" y1="293.48" x2="605.40" y2="293.48" stroke="#000" stroke-width="1.0" />
<line x1="468.70" y1="289.56" x2="472.50" y2="289.56" stroke="#000" stroke-width="1.0" />
<line x1="609.20" y1="289.56" x2="605.40" y2="289.56" stroke="#000" stroke-width="1.0" />
<line x1="468.70" y1="286.11" x2="472.50" y2="286.11" stroke="#000" stroke-width="1.0" />
<line x1="609.20" y1="286.11" x2="605.40" y2="286.11" stroke="#000" stroke-width="1.0" />
<line x1="468.70" y1="283.01" x2="474.70" y2="283.01" stroke="#000" stroke-width="1.3" />
<line x1="609.20" y1="283.01" x2="603.20" y2="283.01" stroke="#000" stroke-width="1.3" />
<line x1="468.70" y1="280.22" x2="472.50" y2="280.22" stroke="#000" stroke-width="1.0" />
<line x1="609.20" y1="280.22" x2="605.40" y2="280.22" stroke="#000" stroke-width="1.0" />
<line x1="468.70" y1="277.66" x2="472.50" y2="277.66" stroke="#000" stroke-width="1.0" />
<line x1="609.20" y1="277.66" x2="605.40" y2="277.66" stroke="#000" stroke-width="1.0" />
<line x1="468.70" y1="275.32" x2="472.50" y2="275.32" stroke="#000" stroke-width="1.0" />
<line x1="609.20" y1="275.32" x2="605.40" y2="275.32" stroke="#000" stroke-width="1.0" />
<line x1="468.70" y1="273.14" x2="472.50" y2="273.14" stroke="#000" stroke-width="1.0" />
<line x1="609.20" y1="273.14" x2="605.40" y2="273.14" stroke="#000" stroke-width="1.0" />
<line x1="468.70" y1="271.12" x2="472.50" y2="271.12" stroke="#000" stroke-width="1.0" />
<line x1="609.20" y1="271.12" x2="605.40" y2="271.12" stroke="#000" stroke-width="1.0" />
<line x1="468.70" y1="269.22" x2="472.50" y2="269.22" stroke="#000" stroke-width="1.0" />
<line x1="609.20" y1="269.22" x2="605.40" y2="269.22" stroke="#000" stroke-width="1.0" />
<line x1="468.70" y1="267.44" x2="472.50" y2="267.44" stroke="#000" stroke-width="1.0" />
<line x1="609.20" y1="267.44" x2="605.40" y2="267.44" stroke="#000" stroke-width="1.0" />
<line x1="468.70" y1="265.77" x2="472.50" y2="265.77" stroke="#000" stroke-width="1.0" />
<line x1="609.20" y1="265.77" x2="605.40" y2="265.77" stroke="#000" stroke-width="1.0" />
<line x1="468.70" y1="264.18" x2="472.50" y2="264.18" stroke="#000" stroke-width="1.0" />
<line x1="609.20" y1="264.18" x2="605.40" y2="264.18" stroke="#000" stroke-width="1.0" />
<line x1="468.70" y1="262.68" x2="474.70" y2="262.68" stroke="#000" stroke-width="1.3" />
<line x1="609.20" y1="262.68" x2="603.20" y2="262.68" stroke="#000" stroke-width="1.3" />
<line x1="468.70" y1="259.88" x2="472.50" y2="259.88" stroke="#000" stroke-width="1.0" />
<line x1="609.20" y1="259.88" x2="605.40" y2="259.88" stroke="#000" stroke-width="1.0" />
<line x1="468.70" y1="257.33" x2="472.50" y2="257.33" stroke="#000" stroke-width="1.0" />
<line x1="609.20" y1="257.33" x2="605.40" y2="257.33" stroke="#000" stroke-width="1.0" />
<line x1="468.70" y1="254.98" x2="472.50" y2="254.98" stroke="#000" stroke-width="1.0" />
<line x1="609.20" y1="254.98" x2="605.40" y2="254.98" stroke="#000" stroke-width="1.0" />
<line x1="468.70" y1="252.80" x2="472.50" y2="252.80" stroke="#000" stroke-width="1.0" />
<line x1="609.20" y1="252.80" x2="605.40" y2="252.80" stroke="#000" stroke-width="1.0" />
<line x1="468.70" y1="250.78" x2="472.50" y2="250.78" stroke="#000" stroke-width="1.0" />
<line x1="609.20" y1="250.78" x2="605.40" y2="250.78" stroke="#000" stroke-width="1.0" />
<line x1="468.70" y1="248.89" x2="472.50" y2="248.89" stroke="#000" stroke-width="1.0" />
<line x1="609.20" y1="248.89" x2="605.40" y2="248.89" stroke="#000" stroke-width="1.0" />
<line x1="468.70" y1="247.11" x2="472.50" y2="247.11" stroke="#000" stroke-width="1.0" />
<line x1="609.20" y1="247.11" x2="605.40" y2="247.11" stroke="#000" stroke-width="1.0" />
<line x1="468.70" y1="245.43" x2="472.50" y2="245.43" stroke="#000" stroke-width="1.0" />
<line x1="609.20" y1="245.43" x2="605.40" y2="245.43" stroke="#000" stroke-width="1.0" />
<line x1="468.70" y1="243.84" x2="472.50" y2="243.84" stroke="#000" stroke-width="1.0" />
<line x1="609.20" y1="243.84" x2="605.40" y2="243.84" stroke="#000" stroke-width="1.0" />
<line x1="468.70" y1="242.34" x2="474.70" y2="242.34" stroke="#000" stroke-width="1.3" />
<line x1="609.20" y1="242.34" x2="603.20" y2="242.34" stroke="#000" stroke-width="1.3" />
<line x1="468.70" y1="240.91" x2="472.50" y2="240.91" stroke="#000" stroke-width="1.0" />
<line x1="609.20" y1="240.91" x2="605.40" y2="240.91" stroke="#000" stroke-width="1.0" />
<line x1="468.70" y1="239.54" x2="472.50" y2="239.54" stroke="#000" stroke-width="1.0" />
<line x1="609.20" y1="239.54" x2="605.40" y2="239.54" stroke="#000" stroke-width="1.0" />
<line x1="468.70" y1="238.24" x2="472.50" y2="238.24" stroke="#000" stroke-width="1.0" />
<line x1="609.20" y1="238.24" x2="605.40" y2="238.24" stroke="#000" stroke-width="1.0" />
<line x1="468.70" y1="236.99" x2="472.50" y2="236.99" stroke="#000" stroke-width="1.0" />
<line x1="609.20" y1="236.99" x2="605.40" y2="236.99" stroke="#000" stroke-width="1.0" />
<line x1="468.70" y1="235.79" x2="472.50" y2="235.79" stroke="#000" stroke-width="1.0" />
<line x1="609.20" y1="235.79" x2="605.40" y2="235.79" stroke="#000" stroke-width="1.0" />
<line x1="468.70" y1="234.64" x2="472.50" y2="234.64" stroke="#000" stroke-width="1.0" />
<line x1="609.20" y1="234.64" x2="605.40" y2="234.64" stroke="#000" stroke-width="1.0" />
<line x1="468.70" y1="233.53" x2="472.50" y2="233.53" stroke="#000" stroke-width="1.0" />
<line x1="609.20" y1="233.53" x2="605.40" y2="233.53" stroke="#000" stroke-width="1.0" />
<line x1="468.70" y1="232.47" x2="472.50" y2="232.47" stroke="#000" stroke-width="1.0" />
<line x1="609.20" y1="232.47" x2="605.40" y2="232.47" stroke="#000" stroke-width="1.0" />
<line x1="468.70" y1="231.44" x2="472.50" y2="231.44" stroke="#000" stroke-width="1.0" />
<line x1="609.20" y1="231.44" x2="605.40" y2="231.44" stroke="#000" stroke-width="1.0" />
<line x1="468.70" y1="230.44" x2="472.50" y2="230.44" stroke="#000" stroke-width="1.0" />
<line x1="609.20" y1="230.44" x2="605.40" y2="230.44" stroke="#000" stroke-width="1.0" />
<line x1="468.70" y1="229.48" x2="472.50" y2="229.48" stroke="#000" stroke-width="1.0" />
<line x1="609.20" y1="229.48" x2="605.40" y2="229.48" stroke="#000" stroke-width="1.0" />
<line x1="468.70" y1="228.55" x2="472.50" y2="228.55" stroke="#000" stroke-width="1.0" />
<line x1="609.20" y1="228.55" x2="605.40" y2="228.55" stroke="#000" stroke-width="1.0" />
<line x1="468.70" y1="227.64" x2="472.50" y2="227.64" stroke="#000" stroke-width="1.0" />
<line x1="609.20" y1="227.64" x2="605.40" y2="227.64" stroke="#000" stroke-width="1.0" />
<line x1="468.70" y1="226.77" x2="472.50" y2="226.77" stroke="#000" stroke-width="1.0" />
<line x1="609.20" y1="226.77" x2="605.40" y2="226.77" stroke="#000" stroke-width="1.0" />
<line x1="468.70" y1="225.92" x2="472.50" y2="225.92" stroke="#000" stroke-width="1.0" />
<line x1="609.20" y1="225.92" x2="605.40" y2="225.92" stroke="#000" stroke-width="1.0" />
<line x1="468.70" y1="225.09" x2="472.50" y2="225.09" stroke="#000" stroke-width="1.0" />
<line x1="609.20" y1="225.09" x2="605.40" y2="225.09" stroke="#000" stroke-width="1.0" />
<line x1="468.70" y1="224.29" x2="472.50" y2="224.29" stroke="#000" stroke-width="1.0" />
<line x1="609.20" y1="224.29" x2="605.40" y2="224.29" stroke="#000" stroke-width="1.0" />
<line x1="468.70" y1="223.51" x2="472.50" y2="223.51" stroke="#000" stroke-width="1.0" />
<line x1="609.20" y1="223.51" x2="605.40" y2="223.51" stroke="#000" stroke-width="1.0" />
<line x1="468.70" y1="222.74" x2="472.50" y2="222.74" stroke="#000" stroke-width="1.0" />
<line x1="609.20" y1="222.74" x2="605.40" y2="222.74" stroke="#000" stroke-width="1.0" />
<line x1="468.70" y1="222.00" x2="474.70" y2="222.00" stroke="#000" stroke-width="1.3" />
<line x1="609.20" y1="222.00" x2="603.20" y2="222.00" stroke="#000" stroke-width="1.3" />
<line x1="468.70" y1="309.90" x2="468.70" y2="303.90" stroke="#000" stroke-width="1.4" />
<line x1="468.70" y1="222.00" x2="468.70" y2="228.00" stroke="#000" stroke-width="1.4" />
<line x1="489.85" y1="309.90" x2="489.85" y2="305.90" stroke="#000" stroke-width="1.1" />
<line x1="489.85" y1="222.00" x2="489.85" y2="226.00" stroke="#000" stroke-width="1.1" />
<line x1="502.22" y1="309.90" x2="502.22" y2="305.90" stroke="#000" stroke-width="1.1" />
<line x1="502.22" y1="222.00" x2="502.22" y2="226.00" stroke="#000" stroke-width="1.1" />
<line x1="510.99" y1="309.90" x2="510.99" y2="305.90" stroke="#000" stroke-width="1.1" />
<line x1="510.99" y1="222.00" x2="510.99" y2="226.00" stroke="#000" stroke-width="1.1" />
<line x1="517.80" y1="309.90" x2="517.80" y2="305.90" stroke="#000" stroke-width="1.1" />
<line x1="517.80" y1="222.00" x2="517.80" y2="226.00" stroke="#000" stroke-width="1.1" />
<line x1="523.37" y1="309.90" x2="523.37" y2="305.90" stroke="#000" stroke-width="1.1" />
<line x1="523.37" y1="222.00" x2="523.37" y2="226.00" stroke="#000" stroke-width="1.1" />
<line x1="528.07" y1="309.90" x2="528.07" y2="305.90" stroke="#000" stroke-width="1.1" />
<line x1="528.07" y1="222.00" x2="528.07" y2="226.00" stroke="#000" stroke-width="1.1" />
<line x1="532.14" y1="309.90" x2="532.14" y2="305.90" stroke="#000" stroke-width="1.1" />
<line x1="532.14" y1="222.00" x2="532.14" y2="226.00" stroke="#000" stroke-width="1.1" />
<line x1="535.74" y1="309.90" x2="535.74" y2="305.90" stroke="#000" stroke-width="1.1" />
<line x1="535.74" y1="222.00" x2="535.74" y2="226.00" stroke="#000" stroke-width="1.1" />
<line x1="538.95" y1="309.90" x2="538.95" y2="303.90" stroke="#000" stroke-width="1.4" />
<line x1="538.95" y1="222.00" x2="538.95" y2="228.00" stroke="#000" stroke-width="1.4" />
<line x1="560.10" y1="309.90" x2="560.10" y2="305.90" stroke="#000" stroke-width="1.1" />
<line x1="560.10" y1="222.00" x2="560.10" y2="226.00" stroke="#000" stroke-width="1.1" />
<line x1="572.47" y1="309.90" x2="572.47" y2="305.90" stroke="#000" stroke-width="1.1" />
<line x1="572.47" y1="222.00" x2="572.47" y2="226.00" stroke="#000" stroke-width="1.1" />
<line x1="581.24" y1="309.90" x2="581.24" y2="305.90" stroke="#000" stroke-width="1.1" />
<line x1="581.24" y1="222.00" x2="581.24" y2="226.00" stroke="#000" stroke-width="1.1" />
<line x1="588.05" y1="309.90" x2="588.05" y2="305.90" stroke="#000" stroke-width="1.1" />
<line x1="588.05" y1="222.00" x2="588.05" y2="226.00" stroke="#000" stroke-width="1.1" />
<line x1="593.62" y1="309.90" x2="593.62" y2="305.90" stroke="#000" stroke-width="1.1" />
<line x1="593.62" y1="222.00" x2="593.62" y2="226.00" stroke="#000" stroke-width="1.1" />
<line x1="598.32" y1="309.90" x2="598.32" y2="305.90" stroke="#000" stroke-width="1.1" />
<line x1="598.32" y1="222.00" x2="598.32" y2="226.00" stroke="#000" stroke-width="1.1" />
<line x1="602.39" y1="309.90" x2="602.39" y2="305.90" stroke="#000" stroke-width="1.1" />
<line x1="602.39" y1="222.00" x2="602.39" y2="226.00" stroke="#000" stroke-width="1.1" />
<line x1="605.99" y1="309.90" x2="605.99" y2="305.90" stroke="#000" stroke-width="1.1" />
<line x1="605.99" y1="222.00" x2="605.99" y2="226.00" stroke="#000" stroke-width="1.1" />
<text x="464.00" y="138.20" font-size="10" fill="#000" color="#000" text-anchor="end" font-weight="normal"  >0.4</text>
<text x="464.00" y="158.42" font-size="10" fill="#000" color="#000" text-anchor="end" font-weight="normal"  >0.2</text>
<text x="464.00" y="178.64" font-size="10" fill="#000" color="#000" text-anchor="end" font-weight="normal"  >0.1</text>
<text x="464.00" y="198.87" font-size="10" fill="#000" color="#000" text-anchor="end" font-weight="normal"  >0.05</text>
<text x="464.00" y="225.60" font-size="10" fill="#000" color="#000" text-anchor="end" font-weight="normal"  >0.02</text>
<text x="464.00" y="245.94" font-size="10" fill="#000" color="#000" text-anchor="end" font-weight="normal"  >0.2</text>
<text x="464.00" y="266.28" font-size="10" fill="#000" color="#000" text-anchor="end" font-weight="normal"  >0.1</text>
<text x="464.00" y="286.61" font-size="10" fill="#000" color="#000" text-anchor="end" font-weight="normal"  >0.05</text>
<text x="464.00" y="313.50" font-size="10" fill="#000" color="#000" text-anchor="end" font-weight="normal"  >0.02</text>
<rect x="468.7" y="134.6" width="140.50000000000006" height="175.3" fill="none" stroke="#000" stroke-width="2"/>
<line x1="468.70" y1="222.00" x2="609.20" y2="222.00" stroke="#000" stroke-width="2" />
<text x="469.00" y="325.00" font-size="10" fill="#000" color="#000" text-anchor="middle" font-weight="normal"  >1E-4</text>
<text x="538.60" y="325.00" font-size="10" fill="#000" color="#000" text-anchor="middle" font-weight="normal"  >0.001</text>
<text x="608.00" y="325.00" font-size="10" fill="#000" color="#000" text-anchor="middle" font-weight="normal"  >0.01</text>
<text x="532" y="335.5" font-size="10" text-anchor="middle"><tspan font-style="italic">P</tspan><tspan font-size="7" dy="2">rf</tspan><tspan dy="-2"> (W)</tspan></text>
<text transform="translate(441.5 210) rotate(-90)" font-size="10" text-anchor="middle"><tspan font-style="italic">ΔE</tspan><tspan font-size="7" dy="2">max</tspan><tspan dy="-2"> (meV)</tspan></text>
<text x="488.20" y="151.40" font-size="10" fill="#000" color="#000" text-anchor="middle" font-weight="normal"  >QD 1</text>
<text x="487.00" y="238.30" font-size="10" fill="#000" color="#000" text-anchor="middle" font-weight="normal"  >QD 2</text>
<line x1="475.73" y1="211.76" x2="602.17" y2="139.54" stroke="#d8174b" stroke-width="1.8" />
<line x1="475.73" y1="206.59" x2="602.17" y2="139.91" stroke="#1ba8d6" stroke-width="1.8" />
<rect x="473.83" y="204.60" width="3.8" height="3.8" fill="#1ba8d6"/>
<rect x="487.88" y="198.00" width="3.8" height="3.8" fill="#1ba8d6"/>
<rect x="501.93" y="190.50" width="3.8" height="3.8" fill="#1ba8d6"/>
<rect x="515.98" y="182.10" width="3.8" height="3.8" fill="#1ba8d6"/>
<rect x="530.02" y="174.60" width="3.8" height="3.8" fill="#1ba8d6"/>
<rect x="544.08" y="166.80" width="3.8" height="3.8" fill="#1ba8d6"/>
<rect x="558.12" y="160.00" width="3.8" height="3.8" fill="#1ba8d6"/>
<rect x="572.18" y="152.20" width="3.8" height="3.8" fill="#1ba8d6"/>
<rect x="586.23" y="145.90" width="3.8" height="3.8" fill="#1ba8d6"/>
<rect x="600.27" y="138.80" width="3.8" height="3.8" fill="#1ba8d6"/>
<circle cx="475.73" cy="211.60" r="2.2" fill="#d8174b"/>
<circle cx="489.77" cy="203.60" r="2.2" fill="#d8174b"/>
<circle cx="503.82" cy="195.90" r="2.2" fill="#d8174b"/>
<circle cx="517.88" cy="188.20" r="2.2" fill="#d8174b"/>
<circle cx="531.92" cy="180.00" r="2.2" fill="#d8174b"/>
<circle cx="545.98" cy="171.50" r="2.2" fill="#d8174b"/>
<circle cx="560.02" cy="162.40" r="2.2" fill="#d8174b"/>
<circle cx="574.08" cy="155.30" r="2.2" fill="#d8174b"/>
<circle cx="588.12" cy="148.70" r="2.2" fill="#d8174b"/>
<circle cx="602.17" cy="139.30" r="2.2" fill="#d8174b"/>
<line x1="489.77" y1="283.42" x2="602.17" y2="222.90" stroke="#f5a51a" stroke-width="1.7" />
<circle cx="489.77" cy="284.20" r="2.3" fill="#f5a51a"/>
<circle cx="503.82" cy="276.90" r="2.3" fill="#f5a51a"/>
<circle cx="517.88" cy="268.70" r="2.3" fill="#f5a51a"/>
<circle cx="531.92" cy="258.70" r="2.3" fill="#f5a51a"/>
<circle cx="545.98" cy="251.60" r="2.3" fill="#f5a51a"/>
<circle cx="560.02" cy="245.30" r="2.3" fill="#f5a51a"/>
<circle cx="574.08" cy="238.20" r="2.3" fill="#f5a51a"/>
<circle cx="588.12" cy="231.20" r="2.3" fill="#f5a51a"/>
<circle cx="602.17" cy="223.60" r="2.3" fill="#f5a51a"/>
<line x1="489.77" y1="288.13" x2="602.17" y2="227.34" stroke="#b01a90" stroke-width="1.7" />
<rect x="487.88" y="286.30" width="3.8" height="3.8" fill="#b01a90"/>
<rect x="501.93" y="279.70" width="3.8" height="3.8" fill="#b01a90"/>
<rect x="515.98" y="270.30" width="3.8" height="3.8" fill="#b01a90"/>
<rect x="530.02" y="262.90" width="3.8" height="3.8" fill="#b01a90"/>
<rect x="544.08" y="255.90" width="3.8" height="3.8" fill="#b01a90"/>
<rect x="558.12" y="248.10" width="3.8" height="3.8" fill="#b01a90"/>
<rect x="572.18" y="240.30" width="3.8" height="3.8" fill="#b01a90"/>
<rect x="586.23" y="232.80" width="3.8" height="3.8" fill="#b01a90"/>
<rect x="600.27" y="226.20" width="3.8" height="3.8" fill="#b01a90"/>
<line x1="489.77" y1="290.82" x2="602.17" y2="232.00" stroke="#4c9a2a" stroke-width="1.7" />
<path d="M489.77,289.10 L492.38,293.70 L487.17,293.70 Z" fill="#4c9a2a"/>
<path d="M503.82,280.80 L506.43,285.40 L501.22,285.40 Z" fill="#4c9a2a"/>
<path d="M517.88,272.60 L520.48,277.20 L515.27,277.20 Z" fill="#4c9a2a"/>
<path d="M531.92,266.10 L534.52,270.70 L529.32,270.70 Z" fill="#4c9a2a"/>
<path d="M545.98,258.40 L548.58,263.00 L543.38,263.00 Z" fill="#4c9a2a"/>
<path d="M560.02,250.80 L562.62,255.40 L557.42,255.40 Z" fill="#4c9a2a"/>
<path d="M574.08,243.80 L576.68,248.40 L571.48,248.40 Z" fill="#4c9a2a"/>
<path d="M588.12,236.70 L590.73,241.30 L585.52,241.30 Z" fill="#4c9a2a"/>
<path d="M602.17,230.10 L604.77,234.70 L599.57,234.70 Z" fill="#4c9a2a"/>
<rect x="564.2" y="197.6" width="3.7" height="3.7" fill="#1ba8d6"/>
<text x="573.50" y="203.00" font-size="10" fill="#000" color="#000" text-anchor="start" font-weight="normal"  >n = 2</text>
<circle cx="566" cy="211.9" r="2.2" fill="#d8174b"/>
<text x="573.50" y="215.50" font-size="10" fill="#000" color="#000" text-anchor="start" font-weight="normal"  >n = 4</text>
<rect x="565.8" y="272.8" width="3.7" height="3.7" fill="#b01a90"/>
<text x="574.60" y="278.20" font-size="10" fill="#000" color="#000" text-anchor="start" font-weight="normal"  >n = 1</text>
<circle cx="567.6" cy="287" r="2.3" fill="#f5a51a"/>
<text x="574.60" y="290.60" font-size="10" fill="#000" color="#000" text-anchor="start" font-weight="normal"  >n = 3</text>
<path d="M567.6,296.8 L570.2,301.4 L565.0,301.4 Z" fill="#4c9a2a"/>
<text x="574.60" y="303.10" font-size="10" fill="#000" color="#000" text-anchor="start" font-weight="normal"  >n = 5</text>
</svg></body></html>
